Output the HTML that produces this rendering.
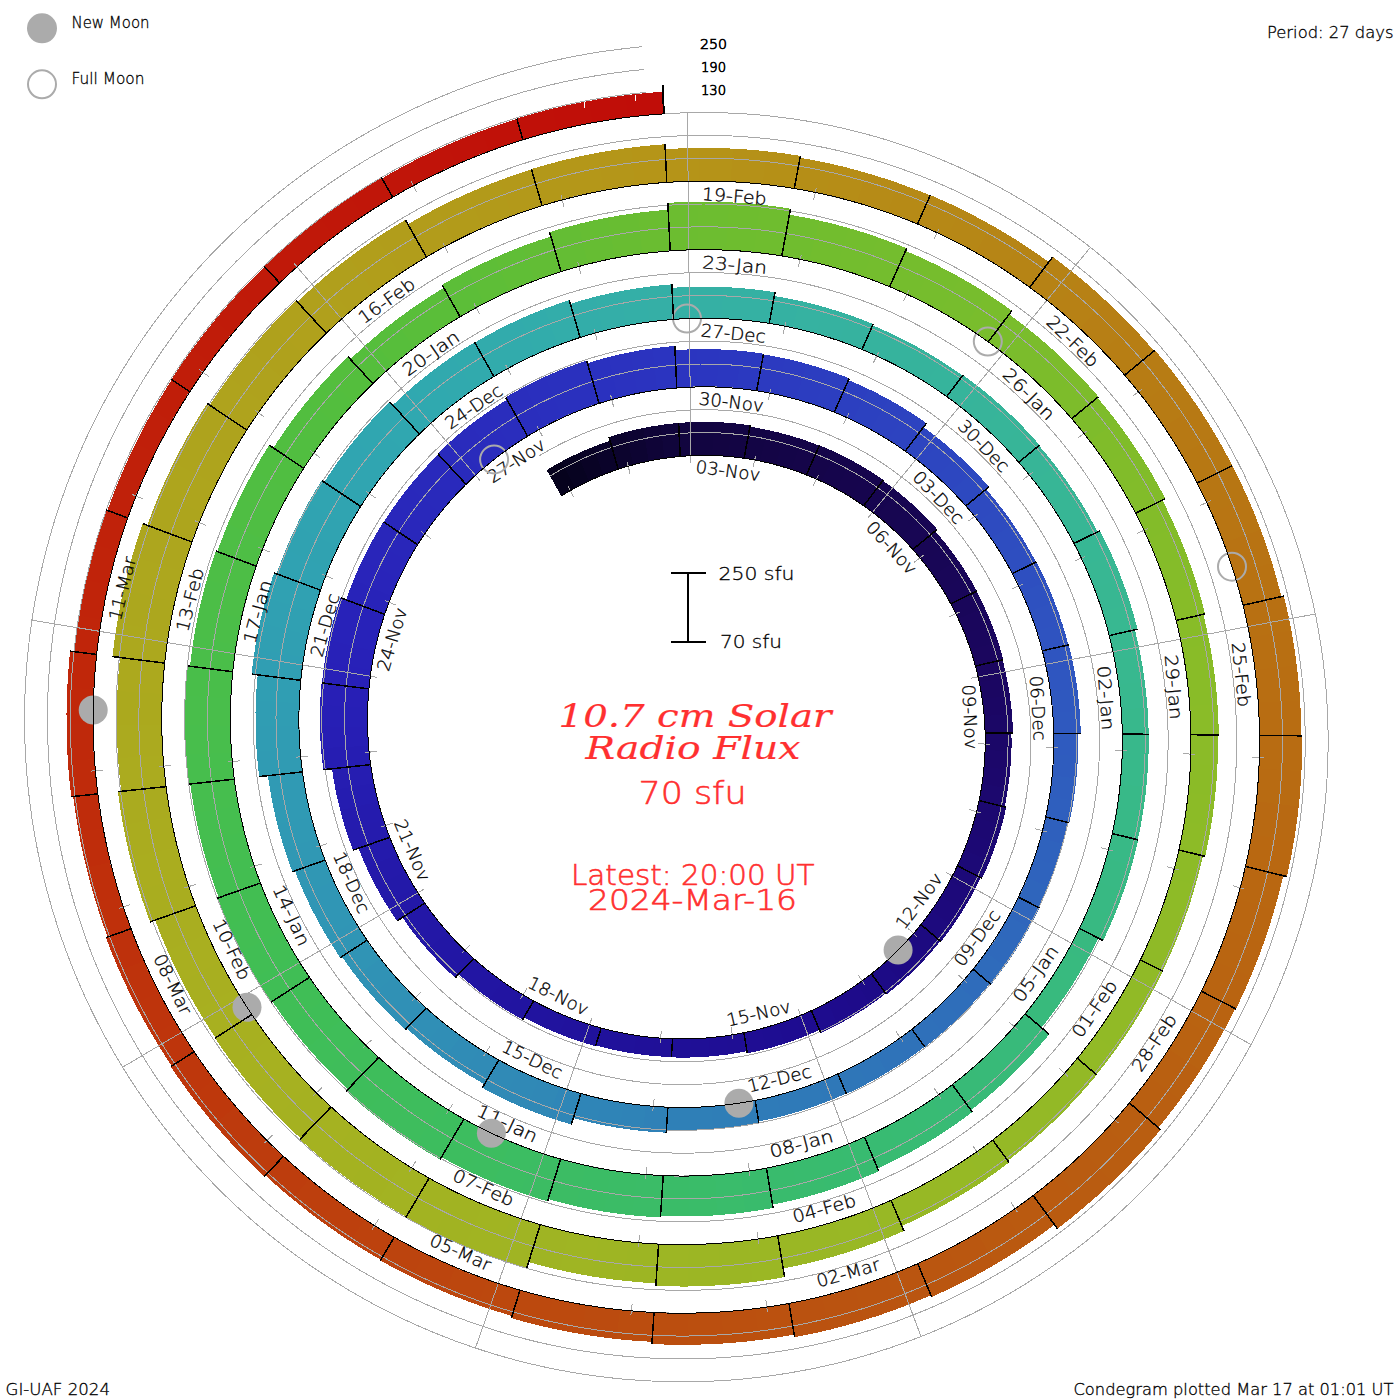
<!DOCTYPE html>
<html><head><meta charset="utf-8"><title>10.7 cm Solar Radio Flux Condegram</title>
<style>
html,body{margin:0;padding:0;background:#fff;}
body{width:1400px;height:1400px;overflow:hidden;}
svg{display:block;}
text{font-family:"DejaVu Sans Light","DejaVu Sans","Liberation Sans",sans-serif;font-weight:200;fill:#000;stroke:#000;stroke-width:0.3px;}
.dl text{font-size:17.5px;text-anchor:middle;}
.lab{font-size:15.6px;}
.red{fill:#ff3030;stroke:#ff3030;stroke-width:0.6px;}
.ser{font-family:"DejaVu Serif","Liberation Serif",serif;font-style:italic;font-weight:400;stroke-width:0.2px;}
</style></head><body>
<svg width="1400" height="1400" viewBox="0 0 1400 1400">
<rect width="1400" height="1400" fill="#fff"/>
<g shape-rendering="crispEdges" stroke="none">
<polygon fill="#06021d" points="561.3,496.0 564.8,493.8 568.3,491.8 571.9,489.8 575.4,487.8 562.4,461.1 558.4,463.2 554.5,465.5 550.6,467.7 546.7,470.1"/>
<polygon fill="#070321" points="574.9,488.1 578.5,486.2 582.1,484.3 585.8,482.5 589.5,480.8 578.0,453.3 573.9,455.3 569.8,457.2 565.8,459.3 561.8,461.4"/>
<polygon fill="#090325" points="588.9,481.0 592.6,479.3 596.4,477.7 600.1,476.1 603.9,474.5 594.1,446.5 589.9,448.2 585.7,449.9 581.5,451.7 577.4,453.6"/>
<polygon fill="#0a032a" points="603.3,474.8 607.0,473.3 610.7,471.9 614.4,470.6 618.2,469.3 609.9,440.8 605.8,442.2 601.6,443.6 597.5,445.2 593.4,446.7"/>
<polygon fill="#0c042e" points="618.2,469.3 622.1,468.1 626.0,466.9 630.0,465.7 633.9,464.6 626.6,431.9 622.1,433.1 617.7,434.4 613.2,435.7 608.9,437.1"/>
<polygon fill="#0d0432" points="633.3,464.8 637.3,463.7 641.3,462.8 645.3,461.8 649.3,461.0 643.9,427.9 639.4,428.8 634.9,429.8 630.4,430.9 625.9,432.1"/>
<polygon fill="#0f0437" points="648.7,461.1 652.8,460.3 656.8,459.5 660.9,458.9 665.0,458.2 661.5,424.9 656.9,425.6 652.3,426.3 647.8,427.1 643.2,428.0"/>
<polygon fill="#10053b" points="664.4,458.3 668.3,457.8 672.3,457.3 676.2,456.8 680.2,456.5 678.6,423.0 674.1,423.4 669.7,423.8 665.2,424.4 660.8,425.0"/>
<polygon fill="#12053f" points="680.2,456.5 684.3,456.1 688.5,455.8 692.6,455.6 696.8,455.5 697.2,422.0 692.5,422.1 687.8,422.3 683.2,422.6 678.6,423.0"/>
<polygon fill="#120541" points="696.1,455.5 700.3,455.4 704.4,455.4 708.6,455.4 712.8,455.5 715.1,422.1 710.4,421.9 705.8,421.9 701.1,421.9 696.4,422.0"/>
<polygon fill="#130542" points="712.1,455.5 716.3,455.6 720.4,455.9 724.6,456.1 728.8,456.5 733.1,423.2 728.4,422.8 723.7,422.5 719.1,422.2 714.4,422.0"/>
<polygon fill="#130544" points="728.1,456.4 732.1,456.8 736.1,457.2 740.1,457.7 744.1,458.3 750.2,425.3 745.8,424.7 741.3,424.1 736.8,423.6 732.3,423.1"/>
<polygon fill="#130545" points="744.1,458.3 748.2,458.9 752.4,459.6 756.5,460.4 760.6,461.2 768.3,430.1 763.8,429.2 759.2,428.3 754.6,427.5 750.0,426.8"/>
<polygon fill="#140546" points="760.0,461.0 764.1,461.9 768.2,462.9 772.2,463.9 776.3,464.9 785.8,434.4 781.3,433.2 776.8,432.0 772.2,431.0 767.6,430.0"/>
<polygon fill="#140548" points="775.7,464.8 779.7,465.9 783.8,467.1 787.8,468.3 791.8,469.6 803.1,439.6 798.6,438.2 794.2,436.8 789.7,435.4 785.1,434.2"/>
<polygon fill="#150549" points="791.2,469.4 795.0,470.7 798.8,472.0 802.6,473.5 806.4,474.9 819.4,445.7 815.2,444.0 810.9,442.4 806.7,440.9 802.4,439.4"/>
<polygon fill="#15054a" points="806.4,474.9 810.3,476.5 814.2,478.2 818.1,479.9 821.9,481.6 836.8,452.9 832.5,450.9 828.2,449.0 823.9,447.1 819.5,445.3"/>
<polygon fill="#15054c" points="821.4,481.4 825.2,483.2 829.0,485.1 832.7,487.0 836.5,489.0 853.0,461.1 848.9,458.9 844.7,456.7 840.4,454.6 836.2,452.6"/>
<polygon fill="#16054d" points="835.9,488.7 839.6,490.7 843.3,492.8 847.0,495.0 850.6,497.2 868.7,470.3 864.7,467.8 860.6,465.4 856.5,463.1 852.4,460.8"/>
<polygon fill="#16054e" points="850.1,496.8 853.5,499.0 857.0,501.2 860.4,503.5 863.7,505.8 883.3,480.0 879.6,477.4 875.8,474.9 872.0,472.4 868.1,469.9"/>
<polygon fill="#160550" points="863.7,505.8 867.2,508.3 870.7,510.8 874.1,513.4 877.4,516.0 898.0,492.0 894.3,489.1 890.5,486.2 886.7,483.4 882.9,480.6"/>
<polygon fill="#170651" points="876.9,515.6 880.2,518.3 883.5,521.0 886.8,523.8 890.0,526.6 912.0,503.9 908.4,500.7 904.8,497.6 901.2,494.6 897.5,491.6"/>
<polygon fill="#170652" points="889.5,526.2 892.7,529.1 895.8,532.0 898.9,534.9 901.9,538.0 925.2,516.5 921.8,513.2 918.4,509.9 914.9,506.6 911.4,503.4"/>
<polygon fill="#180654" points="901.5,537.5 904.4,540.4 907.2,543.4 910.0,546.4 912.8,549.5 937.2,529.4 934.2,526.0 931.1,522.6 927.9,519.3 924.7,516.0"/>
<polygon fill="#180655" points="912.8,549.5 915.6,552.7 918.4,556.0 921.2,559.3 923.9,562.7 947.3,545.7 944.3,542.0 941.3,538.3 938.3,534.7 935.2,531.1"/>
<polygon fill="#180656" points="923.4,562.2 926.1,565.6 928.7,569.0 931.2,572.5 933.7,576.0 958.1,560.4 955.4,556.5 952.6,552.7 949.7,548.9 946.8,545.1"/>
<polygon fill="#190658" points="933.4,575.5 935.8,579.1 938.2,582.7 940.5,586.3 942.8,590.0 968.1,575.8 965.6,571.7 963.0,567.7 960.4,563.7 957.7,559.8"/>
<polygon fill="#190659" points="942.5,589.4 944.6,593.0 946.7,596.6 948.8,600.2 950.8,603.8 976.8,591.1 974.6,587.0 972.4,583.0 970.1,579.1 967.7,575.2"/>
<polygon fill="#19065a" points="950.8,603.8 952.8,607.7 954.8,611.5 956.7,615.4 958.6,619.4 985.0,608.4 982.9,604.0 980.8,599.7 978.7,595.5 976.5,591.2"/>
<polygon fill="#1a065c" points="958.3,618.8 960.1,622.7 961.8,626.7 963.5,630.7 965.2,634.8 992.1,625.3 990.4,620.9 988.5,616.4 986.6,612.0 984.6,607.7"/>
<polygon fill="#1a065d" points="964.9,634.1 966.5,638.2 968.0,642.3 969.5,646.4 970.8,650.5 998.3,642.7 996.8,638.1 995.2,633.6 993.6,629.1 991.9,624.6"/>
<polygon fill="#1b065e" points="970.6,649.9 971.9,653.9 973.2,657.9 974.3,662.0 975.4,666.0 1003.3,659.7 1002.1,655.2 1000.8,650.8 999.5,646.4 998.1,642.0"/>
<polygon fill="#1b0660" points="975.4,666.0 976.5,670.2 977.6,674.5 978.5,678.8 979.4,683.1 1006.9,678.6 1005.9,673.9 1004.9,669.2 1003.8,664.5 1002.6,659.9"/>
<polygon fill="#1b0662" points="979.3,682.4 980.2,686.7 980.9,691.0 981.7,695.4 982.3,699.7 1010.0,696.8 1009.3,692.0 1008.5,687.3 1007.7,682.6 1006.8,677.8"/>
<polygon fill="#1b0664" points="982.2,699.0 982.8,703.4 983.4,707.8 983.8,712.1 984.2,716.5 1012.0,715.2 1011.6,710.4 1011.1,705.6 1010.5,700.8 1009.9,696.1"/>
<polygon fill="#1b0766" points="984.2,715.8 984.5,720.1 984.8,724.3 985.0,728.5 985.1,732.8 1013.0,733.0 1012.8,728.4 1012.6,723.8 1012.3,719.1 1012.0,714.5"/>
<polygon fill="#1b0768" points="985.1,732.8 985.2,737.2 985.3,741.6 985.2,746.0 985.1,750.5 1011.3,752.3 1011.5,747.5 1011.5,742.7 1011.5,737.8 1011.4,733.0"/>
<polygon fill="#1c076a" points="985.1,749.8 985.0,754.2 984.7,758.6 984.4,763.0 984.0,767.5 1010.1,770.8 1010.5,766.0 1010.9,761.2 1011.2,756.4 1011.4,751.6"/>
<polygon fill="#1c076c" points="984.1,766.8 983.7,771.2 983.2,775.6 982.6,780.0 982.0,784.4 1007.8,789.3 1008.5,784.5 1009.2,779.7 1009.7,774.9 1010.2,770.1"/>
<polygon fill="#1c086e" points="982.1,783.7 981.4,788.0 980.7,792.2 979.9,796.4 979.1,800.6 1004.6,806.9 1005.6,802.3 1006.4,797.7 1007.2,793.1 1008.0,788.5"/>
<polygon fill="#1c0870" points="979.1,800.6 978.2,804.9 977.2,809.3 976.1,813.6 974.9,817.9 1001.5,826.2 1002.8,821.5 1004.0,816.8 1005.1,812.0 1006.1,807.2"/>
<polygon fill="#1c0872" points="975.1,817.2 973.9,821.5 972.7,825.8 971.3,830.1 970.0,834.4 996.0,844.2 997.5,839.5 999.0,834.9 1000.4,830.2 1001.7,825.5"/>
<polygon fill="#1c0874" points="970.2,833.7 968.7,837.9 967.2,842.1 965.6,846.3 964.0,850.5 989.4,861.8 991.2,857.3 993.0,852.7 994.6,848.1 996.2,843.5"/>
<polygon fill="#1c0976" points="964.3,849.9 962.6,853.9 960.9,857.8 959.2,861.8 957.4,865.7 982.1,878.4 984.1,874.1 986.0,869.8 987.9,865.5 989.7,861.1"/>
<polygon fill="#1c0978" points="957.4,865.7 955.5,869.8 953.5,873.8 951.4,877.8 949.3,881.7 971.9,895.2 974.2,890.8 976.5,886.5 978.7,882.1 980.8,877.7"/>
<polygon fill="#1d097a" points="949.6,881.1 947.4,885.1 945.2,889.0 942.9,892.9 940.5,896.7 962.3,911.4 964.9,907.2 967.4,903.0 969.9,898.8 972.2,894.5"/>
<polygon fill="#1d097c" points="940.9,896.1 938.5,899.9 936.0,903.7 933.5,907.5 930.9,911.2 951.8,927.1 954.7,923.1 957.4,919.0 960.1,914.9 962.7,910.8"/>
<polygon fill="#1d0a7e" points="931.3,910.6 928.8,914.1 926.2,917.7 923.6,921.1 920.9,924.5 940.9,941.6 943.8,937.9 946.7,934.2 949.5,930.4 952.3,926.5"/>
<polygon fill="#1d0a80" points="920.9,924.5 918.1,928.1 915.2,931.6 912.2,935.0 909.2,938.4 927.6,956.1 930.8,952.5 934.1,948.7 937.2,945.0 940.3,941.1"/>
<polygon fill="#1d0a82" points="909.7,937.9 906.6,941.2 903.5,944.6 900.4,947.8 897.2,951.1 914.5,969.8 917.9,966.3 921.4,962.8 924.8,959.2 928.1,955.6"/>
<polygon fill="#1d0a84" points="897.7,950.6 894.4,953.8 891.1,956.9 887.8,960.0 884.4,963.0 900.5,982.8 904.2,979.5 907.9,976.1 911.5,972.8 915.0,969.3"/>
<polygon fill="#1d0b86" points="884.9,962.6 881.6,965.4 878.2,968.3 874.8,971.1 871.4,973.8 886.5,994.4 890.2,991.5 893.9,988.5 897.5,985.4 901.1,982.3"/>
<polygon fill="#1d0b88" points="871.4,973.8 867.8,976.6 864.1,979.3 860.4,982.0 856.7,984.7 869.9,1005.2 873.9,1002.4 877.9,999.5 881.9,996.5 885.8,993.5"/>
<polygon fill="#1e0b8a" points="857.3,984.3 853.5,986.9 849.7,989.4 845.8,991.9 841.9,994.3 853.9,1015.5 858.1,1012.9 862.3,1010.3 866.4,1007.6 870.5,1004.8"/>
<polygon fill="#1e0b8c" points="842.5,993.9 838.6,996.3 834.6,998.6 830.6,1000.8 826.6,1003.0 837.3,1025.0 841.7,1022.6 846.0,1020.2 850.3,1017.7 854.5,1015.2"/>
<polygon fill="#1e0c8e" points="827.2,1002.7 823.3,1004.8 819.4,1006.8 815.4,1008.7 811.4,1010.6 820.8,1033.1 825.2,1031.1 829.5,1029.0 833.7,1026.8 838.0,1024.6"/>
<polygon fill="#1e0c90" points="811.4,1010.6 807.2,1012.5 803.0,1014.3 798.7,1016.1 794.4,1017.8 801.4,1037.6 805.9,1035.8 810.5,1033.9 815.0,1032.0 819.5,1029.9"/>
<polygon fill="#1e0c91" points="795.1,1017.6 790.8,1019.2 786.4,1020.8 782.1,1022.4 777.7,1023.8 783.5,1044.0 788.1,1042.4 792.8,1040.8 797.4,1039.1 802.1,1037.3"/>
<polygon fill="#1e0d92" points="778.4,1023.6 774.0,1025.0 769.5,1026.4 765.1,1027.6 760.6,1028.8 765.2,1049.3 770.0,1048.0 774.7,1046.7 779.5,1045.2 784.2,1043.7"/>
<polygon fill="#1f0d93" points="761.3,1028.7 757.0,1029.8 752.6,1030.8 748.3,1031.8 743.9,1032.7 747.4,1053.4 752.0,1052.4 756.7,1051.4 761.3,1050.3 765.9,1049.1"/>
<polygon fill="#1f0e94" points="743.9,1032.7 739.3,1033.6 734.8,1034.4 730.2,1035.2 725.6,1035.9 727.5,1054.5 732.4,1053.7 737.3,1052.9 742.1,1052.1 747.0,1051.2"/>
<polygon fill="#1f0e95" points="726.3,1035.8 721.7,1036.4 717.0,1037.0 712.4,1037.4 707.8,1037.9 708.6,1056.5 713.6,1056.1 718.5,1055.6 723.4,1055.0 728.3,1054.3"/>
<polygon fill="#1f0f96" points="708.5,1037.8 703.8,1038.2 699.2,1038.4 694.5,1038.7 689.8,1038.8 689.6,1057.5 694.6,1057.3 699.5,1057.1 704.5,1056.8 709.4,1056.5"/>
<polygon fill="#1f0f97" points="690.6,1038.8 686.1,1038.9 681.6,1038.9 677.1,1038.8 672.6,1038.7 671.3,1057.4 676.1,1057.5 680.8,1057.6 685.6,1057.5 690.4,1057.5"/>
<polygon fill="#201098" points="672.6,1038.7 667.9,1038.5 663.2,1038.3 658.5,1038.0 653.8,1037.6 651.5,1055.7 656.5,1056.1 661.4,1056.5 666.4,1056.8 671.3,1057.0"/>
<polygon fill="#201099" points="654.6,1037.6 649.9,1037.2 645.2,1036.6 640.6,1036.0 635.9,1035.4 632.5,1053.3 637.5,1054.1 642.4,1054.7 647.3,1055.3 652.3,1055.8"/>
<polygon fill="#20119a" points="636.6,1035.5 632.0,1034.7 627.3,1033.9 622.7,1033.0 618.1,1032.1 613.7,1049.9 618.6,1050.9 623.5,1051.8 628.4,1052.7 633.3,1053.4"/>
<polygon fill="#20119b" points="618.8,1032.3 614.4,1031.3 610.0,1030.3 605.6,1029.2 601.2,1028.0 595.8,1045.5 600.4,1046.7 605.1,1047.9 609.7,1049.0 614.4,1050.0"/>
<polygon fill="#20129c" points="601.2,1028.0 596.6,1026.7 592.1,1025.4 587.6,1024.0 583.1,1022.5 576.4,1040.3 581.1,1041.9 585.9,1043.4 590.7,1044.8 595.5,1046.2"/>
<polygon fill="#21129d" points="583.8,1022.7 579.3,1021.2 574.9,1019.6 570.4,1017.9 566.0,1016.2 558.3,1033.6 562.9,1035.4 567.6,1037.2 572.4,1038.9 577.1,1040.6"/>
<polygon fill="#21139e" points="566.7,1016.4 562.3,1014.6 557.9,1012.8 553.6,1010.8 549.3,1008.8 540.5,1025.8 545.1,1027.9 549.7,1029.9 554.3,1031.9 559.0,1033.9"/>
<polygon fill="#21139f" points="550.0,1009.1 545.8,1007.2 541.7,1005.1 537.7,1003.0 533.6,1000.9 524.0,1017.3 528.2,1019.6 532.5,1021.8 536.9,1024.0 541.2,1026.1"/>
<polygon fill="#2114a0" points="533.6,1000.9 529.5,998.6 525.4,996.2 521.3,993.8 517.2,991.3 505.0,1009.3 509.4,1011.9 513.8,1014.6 518.2,1017.1 522.6,1019.6"/>
<polygon fill="#2214a1" points="517.8,991.6 513.8,989.1 509.8,986.5 505.8,983.8 501.9,981.1 488.7,998.3 492.9,1001.3 497.1,1004.1 501.4,1006.9 505.7,1009.7"/>
<polygon fill="#2215a2" points="502.5,981.5 498.6,978.7 494.8,975.9 491.0,973.0 487.2,970.0 473.1,986.5 477.1,989.6 481.1,992.8 485.2,995.8 489.4,998.8"/>
<polygon fill="#2215a3" points="487.8,970.4 484.2,967.5 480.7,964.6 477.2,961.6 473.7,958.5 458.7,974.2 462.4,977.5 466.1,980.7 469.9,983.8 473.7,987.0"/>
<polygon fill="#2216a4" points="473.7,958.5 470.2,955.3 466.7,952.0 463.2,948.7 459.8,945.3 440.2,963.4 443.9,967.0 447.6,970.7 451.4,974.3 455.2,977.8"/>
<polygon fill="#2216a5" points="460.3,945.8 457.0,942.4 453.7,938.9 450.4,935.3 447.2,931.7 426.6,948.6 430.0,952.5 433.6,956.4 437.1,960.2 440.8,963.9"/>
<polygon fill="#2317a6" points="447.7,932.3 444.5,928.6 441.4,925.0 438.4,921.2 435.4,917.4 413.8,933.1 417.0,937.2 420.3,941.3 423.7,945.3 427.1,949.2"/>
<polygon fill="#2317a7" points="435.8,918.0 433.0,914.4 430.2,910.6 427.5,906.9 424.8,903.1 402.4,917.5 405.3,921.6 408.2,925.7 411.2,929.8 414.3,933.8"/>
<polygon fill="#2318a8" points="424.8,903.1 422.1,899.1 419.4,895.0 416.8,891.0 414.3,886.8 385.4,903.1 388.2,907.6 391.0,912.1 393.9,916.6 396.9,921.0"/>
<polygon fill="#2319a9" points="414.7,887.5 412.2,883.3 409.7,879.1 407.4,874.9 405.0,870.6 375.2,885.1 377.8,889.9 380.4,894.5 383.0,899.2 385.8,903.8"/>
<polygon fill="#2419aa" points="405.4,871.3 403.1,867.0 401.0,862.6 398.8,858.2 396.8,853.8 366.2,866.6 368.4,871.5 370.8,876.3 373.2,881.1 375.6,885.9"/>
<polygon fill="#241aac" points="397.1,854.5 395.2,850.3 393.3,846.0 391.5,841.6 389.7,837.3 358.5,848.3 360.4,853.1 362.4,857.9 364.4,862.7 366.5,867.4"/>
<polygon fill="#251bad" points="389.7,837.3 388.0,832.7 386.3,828.2 384.7,823.5 383.2,818.9 345.8,829.6 347.5,834.8 349.3,840.0 351.2,845.1 353.1,850.2"/>
<polygon fill="#251bae" points="383.4,819.6 381.9,815.0 380.5,810.3 379.2,805.6 377.9,800.9 340.0,809.4 341.4,814.7 342.9,819.9 344.4,825.2 346.1,830.4"/>
<polygon fill="#251cb0" points="378.1,801.6 376.9,796.8 375.8,792.1 374.7,787.3 373.7,782.5 335.3,788.8 336.4,794.2 337.6,799.5 338.9,804.9 340.2,810.2"/>
<polygon fill="#261db1" points="373.9,783.2 373.0,778.6 372.1,773.9 371.4,769.3 370.7,764.6 332.0,768.8 332.8,774.0 333.6,779.2 334.5,784.4 335.5,789.6"/>
<polygon fill="#261db2" points="370.7,764.6 370.0,759.7 369.4,754.9 368.9,750.0 368.5,745.1 320.9,747.3 321.4,752.9 321.9,758.5 322.6,764.1 323.3,769.7"/>
<polygon fill="#271eb4" points="368.6,745.8 368.2,740.9 367.9,736.0 367.7,731.1 367.5,726.1 319.9,725.6 320.0,731.2 320.3,736.9 320.6,742.5 321.0,748.1"/>
<polygon fill="#271fb5" points="367.6,726.9 367.5,722.0 367.5,717.0 367.5,712.1 367.7,707.1 320.2,703.8 320.0,709.5 319.9,715.1 319.9,720.8 319.9,726.4"/>
<polygon fill="#281fb6" points="367.7,707.9 367.9,703.2 368.1,698.4 368.5,693.7 368.9,688.9 321.6,682.9 321.1,688.4 320.7,693.8 320.4,699.2 320.1,704.7"/>
<polygon fill="#2820b8" points="368.9,688.9 369.4,684.0 369.9,679.1 370.6,674.1 371.3,669.2 324.9,660.5 324.0,666.1 323.2,671.7 322.6,677.3 322.0,683.0"/>
<polygon fill="#2821b8" points="371.2,670.0 372.0,665.1 372.8,660.2 373.8,655.3 374.8,650.5 328.9,639.0 327.7,644.6 326.6,650.1 325.6,655.7 324.7,661.3"/>
<polygon fill="#2822b9" points="374.6,651.2 375.7,646.3 376.8,641.5 378.0,636.7 379.3,631.9 334.2,617.8 332.7,623.3 331.3,628.8 330.0,634.3 328.7,639.9"/>
<polygon fill="#2822b9" points="379.1,632.6 380.4,628.0 381.8,623.4 383.2,618.8 384.7,614.3 340.5,597.7 338.7,602.9 337.1,608.1 335.5,613.4 334.0,618.6"/>
<polygon fill="#2823b9" points="384.7,614.3 386.3,609.5 388.0,604.9 389.8,600.2 391.7,595.5 354.1,578.8 352.0,584.0 350.0,589.2 348.0,594.5 346.2,599.8"/>
<polygon fill="#2924ba" points="391.4,596.2 393.3,591.6 395.3,587.0 397.3,582.5 399.4,577.9 362.9,559.0 360.5,564.1 358.2,569.2 355.9,574.4 353.7,579.6"/>
<polygon fill="#2925ba" points="399.1,578.6 401.3,574.1 403.5,569.6 405.8,565.2 408.2,560.8 372.8,539.8 370.1,544.7 367.5,549.7 365.0,554.7 362.5,559.8"/>
<polygon fill="#2926ba" points="407.9,561.4 410.2,557.2 412.6,553.0 415.1,548.9 417.6,544.8 383.4,521.8 380.6,526.4 377.8,531.1 375.1,535.8 372.4,540.5"/>
<polygon fill="#2927bb" points="417.6,544.8 420.3,540.5 423.1,536.3 425.9,532.1 428.8,528.0 396.4,503.3 393.1,507.9 389.9,512.6 386.8,517.3 383.8,522.0"/>
<polygon fill="#2928bb" points="428.3,528.6 431.3,524.6 434.3,520.5 437.4,516.5 440.5,512.5 409.6,486.0 406.1,490.4 402.6,494.9 399.2,499.4 395.9,504.0"/>
<polygon fill="#2929bb" points="440.0,513.2 443.2,509.2 446.5,505.4 449.8,501.5 453.1,497.8 423.8,469.4 420.0,473.7 416.3,477.9 412.6,482.3 409.0,486.6"/>
<polygon fill="#2929bc" points="452.6,498.3 455.9,494.8 459.2,491.2 462.6,487.7 466.0,484.3 438.3,454.3 434.5,458.2 430.7,462.1 426.9,466.1 423.2,470.1"/>
<polygon fill="#292abc" points="466.0,484.3 469.7,480.7 473.4,477.2 477.1,473.8 480.9,470.4 454.3,438.0 450.1,441.8 445.8,445.6 441.7,449.5 437.6,453.5"/>
<polygon fill="#2a2bbc" points="480.3,471.0 484.2,467.6 488.0,464.4 492.0,461.2 496.0,458.0 471.3,424.1 466.8,427.6 462.4,431.2 458.0,434.9 453.7,438.6"/>
<polygon fill="#2a2cbd" points="495.4,458.5 499.4,455.4 503.5,452.3 507.6,449.4 511.8,446.5 489.2,411.2 484.5,414.4 479.8,417.8 475.2,421.2 470.7,424.6"/>
<polygon fill="#2a2dbd" points="511.1,446.9 515.2,444.1 519.3,441.4 523.4,438.8 527.6,436.2 507.0,399.7 502.3,402.6 497.6,405.6 493.0,408.6 488.4,411.7"/>
<polygon fill="#2a2ebd" points="527.6,436.2 532.0,433.6 536.4,431.0 540.9,428.6 545.4,426.1 525.8,386.0 520.7,388.8 515.7,391.6 510.6,394.4 505.7,397.4"/>
<polygon fill="#2a2fbe" points="544.7,426.5 549.2,424.1 553.8,421.8 558.4,419.6 563.1,417.4 545.9,376.3 540.6,378.7 535.4,381.2 530.2,383.8 525.1,386.5"/>
<polygon fill="#2a30be" points="562.3,417.8 567.0,415.7 571.7,413.6 576.5,411.7 581.2,409.8 566.5,367.7 561.1,369.8 555.7,372.0 550.4,374.3 545.1,376.7"/>
<polygon fill="#2a30be" points="580.5,410.1 585.1,408.3 589.8,406.6 594.4,405.0 599.1,403.4 586.7,360.6 581.4,362.3 576.1,364.2 570.9,366.1 565.6,368.0"/>
<polygon fill="#2a31bf" points="599.1,403.4 604.0,401.9 609.0,400.4 613.9,399.0 618.9,397.7 609.7,356.8 604.1,358.3 598.5,359.8 593.0,361.4 587.5,363.2"/>
<polygon fill="#2b32bf" points="618.1,397.9 623.1,396.6 628.1,395.4 633.2,394.3 638.2,393.3 631.4,351.9 625.8,353.1 620.1,354.3 614.5,355.6 608.8,357.0"/>
<polygon fill="#2b33bf" points="637.5,393.4 642.5,392.5 647.6,391.6 652.7,390.7 657.8,390.0 653.5,348.3 647.7,349.1 642.0,350.0 636.3,351.0 630.6,352.1"/>
<polygon fill="#2b34c0" points="657.1,390.1 662.0,389.5 666.9,388.9 671.9,388.4 676.8,387.9 674.8,346.1 669.2,346.5 663.7,347.1 658.1,347.7 652.6,348.4"/>
<polygon fill="#2b35c0" points="676.8,387.9 682.0,387.6 687.2,387.3 692.4,387.0 697.6,386.9 698.0,349.2 692.3,349.3 686.5,349.5 680.8,349.8 675.0,350.3"/>
<polygon fill="#2b36c0" points="696.8,386.9 702.0,386.8 707.2,386.8 712.4,386.9 717.6,387.1 720.2,349.4 714.4,349.2 708.7,349.1 702.9,349.1 697.1,349.2"/>
<polygon fill="#2b37c0" points="716.8,387.0 722.0,387.3 727.2,387.6 732.3,388.0 737.5,388.4 742.4,351.0 736.6,350.5 730.8,350.0 725.1,349.7 719.3,349.4"/>
<polygon fill="#2b39c0" points="736.7,388.4 741.7,388.9 746.7,389.4 751.7,390.1 756.6,390.8 763.6,353.7 758.0,352.9 752.5,352.2 747.0,351.5 741.5,350.9"/>
<polygon fill="#2c3ac0" points="756.6,390.8 761.8,391.7 766.9,392.6 772.1,393.5 777.2,394.6 786.2,358.7 780.5,357.6 774.8,356.4 769.1,355.4 763.4,354.5"/>
<polygon fill="#2c3bc0" points="776.4,394.4 781.5,395.6 786.6,396.8 791.7,398.1 796.7,399.4 807.8,364.2 802.2,362.6 796.6,361.2 790.9,359.8 785.3,358.6"/>
<polygon fill="#2c3dc0" points="796.0,399.2 801.0,400.7 806.0,402.2 811.0,403.8 816.0,405.4 829.1,370.8 823.6,369.0 818.0,367.2 812.5,365.5 806.9,363.9"/>
<polygon fill="#2c3ec0" points="815.3,405.2 820.0,406.8 824.8,408.5 829.5,410.3 834.2,412.2 849.2,378.4 844.0,376.3 838.7,374.3 833.5,372.4 828.2,370.5"/>
<polygon fill="#2c3fc0" points="834.2,412.2 839.1,414.2 843.9,416.3 848.7,418.5 853.5,420.7 869.6,389.6 864.3,387.1 859.0,384.7 853.7,382.4 848.4,380.1"/>
<polygon fill="#2c41c0" points="852.7,420.4 857.5,422.7 862.2,425.0 866.9,427.5 871.5,430.0 889.4,399.8 884.3,397.0 879.1,394.3 874.0,391.7 868.8,389.2"/>
<polygon fill="#2d42c0" points="870.8,429.6 875.4,432.2 880.0,434.8 884.5,437.5 889.0,440.3 908.6,411.2 903.7,408.2 898.7,405.2 893.7,402.2 888.6,399.4"/>
<polygon fill="#2d43c0" points="888.3,439.9 892.6,442.6 896.8,445.4 901.1,448.3 905.2,451.2 926.4,423.3 921.9,420.0 917.2,416.9 912.6,413.8 907.8,410.8"/>
<polygon fill="#2d45c0" points="905.2,451.2 909.5,454.3 913.8,457.5 918.0,460.7 922.1,464.0 941.8,441.2 937.3,437.6 932.7,434.0 928.1,430.6 923.4,427.2"/>
<polygon fill="#2d46c0" points="921.5,463.5 925.6,466.8 929.7,470.3 933.7,473.7 937.7,477.3 958.6,455.6 954.3,451.8 949.9,448.0 945.5,444.3 941.1,440.6"/>
<polygon fill="#2d47c0" points="937.0,476.7 941.0,480.3 944.8,484.0 948.6,487.7 952.4,491.5 974.5,471.1 970.5,467.0 966.3,462.9 962.2,459.0 957.9,455.0"/>
<polygon fill="#2d49c0" points="951.8,490.9 955.4,494.6 958.9,498.3 962.4,502.1 965.8,505.9 989.0,486.8 985.3,482.6 981.6,478.5 977.8,474.4 973.9,470.4"/>
<polygon fill="#2e4ac0" points="965.8,505.9 969.3,510.0 972.7,514.1 976.1,518.2 979.4,522.4 1000.6,507.0 997.1,502.4 993.5,498.0 989.8,493.6 986.1,489.2"/>
<polygon fill="#2e4bc0" points="978.9,521.8 982.1,526.0 985.3,530.3 988.4,534.6 991.5,539.0 1013.6,524.8 1010.4,520.1 1007.0,515.4 1003.6,510.8 1000.1,506.3"/>
<polygon fill="#2e4dc0" points="991.0,538.4 994.0,542.8 997.0,547.3 999.8,551.8 1002.6,556.4 1025.6,543.5 1022.6,538.6 1019.5,533.7 1016.3,528.9 1013.1,524.1"/>
<polygon fill="#2e4ec0" points="1002.2,555.7 1004.9,560.1 1007.4,564.6 1009.9,569.1 1012.4,573.6 1036.0,562.1 1033.4,557.2 1030.7,552.3 1027.9,547.5 1025.1,542.7"/>
<polygon fill="#2e4fc0" points="1012.4,573.6 1014.9,578.4 1017.3,583.2 1019.6,588.1 1021.9,592.9 1046.5,582.7 1044.1,577.4 1041.6,572.2 1039.0,567.0 1036.4,561.9"/>
<polygon fill="#2e51c0" points="1021.5,592.2 1023.7,597.1 1025.9,602.1 1027.9,607.0 1029.9,612.1 1055.1,603.2 1053.0,597.8 1050.8,592.5 1048.5,587.1 1046.1,581.9"/>
<polygon fill="#2f52c0" points="1029.6,611.3 1031.5,616.3 1033.3,621.4 1035.1,626.5 1036.8,631.6 1062.4,624.3 1060.6,618.8 1058.8,613.3 1056.8,607.8 1054.7,602.4"/>
<polygon fill="#2f53c0" points="1036.5,630.9 1038.1,635.8 1039.6,640.8 1041.0,645.8 1042.3,650.8 1068.4,644.9 1066.9,639.5 1065.4,634.1 1063.8,628.8 1062.2,623.4"/>
<polygon fill="#2f55c0" points="1042.3,650.8 1043.7,656.1 1044.9,661.4 1046.1,666.6 1047.1,672.0 1073.8,667.6 1072.7,661.9 1071.5,656.2 1070.1,650.5 1068.7,644.8"/>
<polygon fill="#2f56c0" points="1047.0,671.1 1048.0,676.5 1048.9,681.8 1049.8,687.2 1050.6,692.6 1077.5,689.7 1076.6,683.9 1075.7,678.2 1074.8,672.4 1073.7,666.7"/>
<polygon fill="#2f58bf" points="1050.4,691.7 1051.1,697.1 1051.8,702.5 1052.3,707.9 1052.8,713.3 1079.8,712.1 1079.3,706.3 1078.7,700.4 1078.1,694.6 1077.3,688.8"/>
<polygon fill="#2f59bf" points="1052.7,712.5 1053.1,717.7 1053.4,723.0 1053.6,728.2 1053.7,733.4 1080.8,733.7 1080.6,728.1 1080.4,722.4 1080.1,716.8 1079.7,711.2"/>
<polygon fill="#2f5bbf" points="1053.7,733.4 1053.8,738.9 1053.8,744.3 1053.7,749.8 1053.5,755.3 1077.9,757.0 1078.1,751.1 1078.2,745.3 1078.2,739.5 1078.1,733.7"/>
<polygon fill="#2f5cbe" points="1053.6,754.4 1053.3,759.9 1053.0,765.3 1052.6,770.8 1052.1,776.2 1076.3,779.3 1076.8,773.5 1077.3,767.7 1077.6,761.9 1077.9,756.1"/>
<polygon fill="#2f5ebe" points="1052.2,775.4 1051.6,780.8 1051.0,786.3 1050.2,791.7 1049.4,797.1 1073.4,801.6 1074.3,795.9 1075.0,790.1 1075.7,784.3 1076.4,778.5"/>
<polygon fill="#2f5fbe" points="1049.5,796.3 1048.7,801.5 1047.8,806.7 1046.8,811.9 1045.7,817.0 1069.4,822.9 1070.5,817.4 1071.6,811.8 1072.6,806.3 1073.5,800.8"/>
<polygon fill="#2f60bd" points="1045.7,817.0 1044.5,822.4 1043.2,827.7 1041.9,833.1 1040.4,838.4 1062.6,845.3 1064.2,839.7 1065.6,834.0 1067.0,828.3 1068.3,822.6"/>
<polygon fill="#2f62bd" points="1040.7,837.5 1039.1,842.8 1037.6,848.1 1035.9,853.4 1034.1,858.6 1055.9,866.8 1057.8,861.2 1059.5,855.7 1061.2,850.1 1062.9,844.4"/>
<polygon fill="#2f63bd" points="1034.4,857.8 1032.6,863.0 1030.7,868.2 1028.7,873.3 1026.7,878.4 1047.9,887.9 1050.1,882.4 1052.2,877.0 1054.2,871.5 1056.2,865.9"/>
<polygon fill="#2f65bc" points="1027.0,877.6 1024.9,882.5 1022.8,887.4 1020.7,892.3 1018.4,897.1 1039.1,907.7 1041.5,902.6 1043.8,897.4 1046.1,892.3 1048.2,887.0"/>
<polygon fill="#2f66bc" points="1018.4,897.1 1016.0,902.0 1013.5,907.0 1010.9,911.9 1008.3,916.7 1028.6,928.8 1031.4,923.6 1034.2,918.4 1036.8,913.2 1039.4,907.9"/>
<polygon fill="#2f68bc" points="1008.7,916.0 1006.0,920.8 1003.2,925.6 1000.3,930.4 997.4,935.1 1017.0,948.3 1020.1,943.3 1023.2,938.2 1026.1,933.1 1029.0,928.0"/>
<polygon fill="#2f69bb" points="997.9,934.4 994.9,939.0 991.8,943.7 988.7,948.3 985.5,952.8 1004.3,967.1 1007.7,962.3 1011.0,957.4 1014.3,952.5 1017.5,947.5"/>
<polygon fill="#2f6bbb" points="986.0,952.1 982.8,956.4 979.6,960.7 976.4,965.0 973.0,969.1 991.0,984.5 994.5,980.0 998.0,975.5 1001.4,971.0 1004.8,966.4"/>
<polygon fill="#2f6cbb" points="973.0,969.1 969.5,973.5 965.9,977.7 962.3,981.9 958.5,986.1 974.4,1001.4 978.4,997.0 982.3,992.6 986.1,988.1 989.8,983.5"/>
<polygon fill="#2f6eba" points="959.1,985.4 955.3,989.5 951.5,993.6 947.6,997.6 943.6,1001.5 958.6,1017.8 962.8,1013.6 967.0,1009.4 971.0,1005.1 975.1,1000.8"/>
<polygon fill="#2f6fba" points="944.3,1000.9 940.2,1004.8 936.2,1008.6 932.0,1012.4 927.8,1016.1 941.8,1033.2 946.3,1029.3 950.7,1025.3 955.0,1021.2 959.3,1017.1"/>
<polygon fill="#2f70ba" points="928.5,1015.5 924.4,1019.0 920.3,1022.5 916.1,1025.9 911.9,1029.2 924.9,1047.1 929.4,1043.5 933.8,1040.0 938.2,1036.3 942.5,1032.6"/>
<polygon fill="#2f72b9" points="911.9,1029.2 907.4,1032.6 902.9,1036.0 898.3,1039.2 893.7,1042.4 905.4,1060.7 910.3,1057.3 915.2,1053.9 919.9,1050.4 924.7,1046.8"/>
<polygon fill="#2f73b9" points="894.4,1041.9 889.8,1045.1 885.1,1048.2 880.3,1051.2 875.5,1054.1 886.2,1073.0 891.2,1069.9 896.3,1066.8 901.3,1063.5 906.2,1060.2"/>
<polygon fill="#2f75b9" points="876.3,1053.6 871.4,1056.5 866.5,1059.3 861.6,1062.0 856.7,1064.7 866.2,1084.2 871.4,1081.4 876.7,1078.6 881.8,1075.6 886.9,1072.6"/>
<polygon fill="#2f76b8" points="857.4,1064.3 852.6,1066.8 847.8,1069.2 842.9,1071.6 837.9,1073.8 846.4,1093.9 851.6,1091.5 856.7,1089.0 861.9,1086.4 867.0,1083.8"/>
<polygon fill="#2f78b8" points="837.9,1073.8 832.8,1076.1 827.6,1078.4 822.4,1080.5 817.1,1082.6 824.2,1102.7 829.7,1100.5 835.3,1098.3 840.8,1095.9 846.2,1093.5"/>
<polygon fill="#2f79b8" points="817.9,1082.3 812.6,1084.3 807.3,1086.2 802.0,1088.0 796.6,1089.8 802.5,1110.3 808.1,1108.4 813.8,1106.5 819.4,1104.5 825.0,1102.4"/>
<polygon fill="#2f7ab8" points="797.4,1089.5 792.0,1091.2 786.6,1092.8 781.1,1094.3 775.6,1095.8 780.3,1116.6 786.1,1115.1 791.9,1113.5 797.6,1111.8 803.3,1110.0"/>
<polygon fill="#2f7bb8" points="776.5,1095.6 771.2,1096.9 765.9,1098.1 760.5,1099.3 755.2,1100.4 758.7,1121.5 764.3,1120.3 770.0,1119.1 775.6,1117.8 781.2,1116.4"/>
<polygon fill="#2f7db8" points="755.2,1100.4 749.6,1101.5 744.0,1102.4 738.4,1103.3 732.7,1104.1 735.1,1126.5 741.1,1125.6 747.0,1124.7 752.9,1123.7 758.9,1122.6"/>
<polygon fill="#2f7eb7" points="733.6,1104.0 728.0,1104.7 722.3,1105.4 716.6,1105.9 710.9,1106.4 712.0,1128.9 718.0,1128.4 724.0,1127.8 730.0,1127.1 736.0,1126.3"/>
<polygon fill="#2f7fb7" points="711.8,1106.3 706.1,1106.7 700.4,1107.0 694.7,1107.3 689.0,1107.4 688.8,1129.9 694.8,1129.7 700.8,1129.5 706.9,1129.2 712.9,1128.8"/>
<polygon fill="#2f80b7" points="689.9,1107.4 684.4,1107.5 678.9,1107.4 673.4,1107.3 667.9,1107.2 666.4,1129.6 672.2,1129.8 678.0,1129.9 683.9,1129.9 689.7,1129.9"/>
<polygon fill="#2f81b7" points="667.9,1107.2 662.2,1106.9 656.5,1106.6 650.8,1106.1 645.1,1105.6 641.8,1130.9 647.9,1131.5 654.0,1132.0 660.1,1132.4 666.2,1132.6"/>
<polygon fill="#2f83b7" points="646.0,1105.7 640.3,1105.1 634.6,1104.4 628.9,1103.6 623.2,1102.8 618.5,1127.9 624.5,1128.8 630.6,1129.6 636.7,1130.4 642.7,1131.0"/>
<polygon fill="#2f84b7" points="624.1,1102.9 618.4,1102.0 612.8,1101.0 607.1,1099.9 601.5,1098.7 595.3,1123.4 601.3,1124.7 607.3,1125.9 613.4,1127.0 619.4,1128.0"/>
<polygon fill="#2f85b7" points="602.4,1098.9 597.0,1097.6 591.6,1096.4 586.2,1095.0 580.9,1093.5 573.3,1117.9 579.0,1119.5 584.7,1121.0 590.5,1122.3 596.2,1123.6"/>
<polygon fill="#2f86b7" points="580.9,1093.5 575.3,1091.9 569.8,1090.3 564.3,1088.5 558.9,1086.7 547.4,1117.0 553.4,1119.0 559.3,1120.9 565.3,1122.7 571.3,1124.5"/>
<polygon fill="#3088b6" points="559.7,1087.0 554.3,1085.1 548.8,1083.1 543.5,1081.0 538.1,1078.8 524.9,1108.4 530.7,1110.8 536.6,1113.0 542.4,1115.2 548.3,1117.3"/>
<polygon fill="#3089b6" points="538.9,1079.2 533.6,1076.9 528.3,1074.6 523.0,1072.2 517.8,1069.8 502.9,1098.5 508.6,1101.2 514.3,1103.8 520.0,1106.4 525.8,1108.8"/>
<polygon fill="#308ab6" points="518.6,1070.1 513.6,1067.7 508.6,1065.2 503.7,1062.6 498.8,1060.0 482.3,1087.8 487.6,1090.7 493.0,1093.6 498.4,1096.3 503.8,1099.0"/>
<polygon fill="#308bb6" points="498.8,1060.0 493.7,1057.1 488.7,1054.2 483.7,1051.2 478.8,1048.1 463.0,1071.5 468.3,1074.8 473.7,1078.0 479.0,1081.2 484.5,1084.2"/>
<polygon fill="#308cb6" points="479.6,1048.6 474.7,1045.5 469.8,1042.3 465.0,1039.0 460.3,1035.6 443.2,1058.0 448.3,1061.6 453.4,1065.2 458.6,1068.6 463.9,1072.0"/>
<polygon fill="#308eb6" points="461.0,1036.1 456.3,1032.7 451.7,1029.2 447.1,1025.6 442.5,1022.0 424.1,1043.4 429.0,1047.3 433.9,1051.1 438.9,1054.9 444.0,1058.6"/>
<polygon fill="#308fb6" points="443.2,1022.6 438.9,1019.0 434.6,1015.4 430.4,1011.7 426.2,1008.0 406.6,1028.3 411.1,1032.3 415.6,1036.3 420.2,1040.2 424.9,1044.0"/>
<polygon fill="#3090b6" points="426.2,1008.0 421.9,1004.0 417.7,1000.0 413.5,995.9 409.4,991.8 387.2,1012.2 391.7,1016.6 396.1,1021.1 400.7,1025.4 405.3,1029.7"/>
<polygon fill="#3091b5" points="410.0,992.4 405.9,988.2 401.9,983.9 398.0,979.6 394.1,975.2 370.9,994.3 375.0,999.0 379.2,1003.7 383.5,1008.3 387.9,1012.9"/>
<polygon fill="#3092b5" points="394.7,975.9 390.9,971.4 387.2,966.9 383.5,962.4 379.9,957.8 355.5,975.4 359.4,980.4 363.4,985.4 367.4,990.2 371.5,995.0"/>
<polygon fill="#3094b5" points="380.4,958.5 377.0,954.0 373.7,949.4 370.4,944.9 367.1,940.2 341.8,956.5 345.3,961.5 348.8,966.5 352.4,971.4 356.1,976.2"/>
<polygon fill="#3095b5" points="367.1,940.2 363.9,935.3 360.7,930.4 357.5,925.4 354.5,920.4 326.5,936.1 329.8,941.5 333.2,946.9 336.7,952.3 340.2,957.6"/>
<polygon fill="#3096b5" points="354.9,921.2 351.9,916.1 349.0,911.0 346.2,905.9 343.4,900.7 314.6,914.7 317.6,920.3 320.7,925.9 323.8,931.5 327.0,936.9"/>
<polygon fill="#3096b5" points="343.8,901.5 341.1,896.2 338.5,890.9 335.9,885.6 333.5,880.3 303.9,892.6 306.6,898.4 309.3,904.2 312.1,909.9 315.1,915.6"/>
<polygon fill="#3097b4" points="333.8,881.1 331.5,875.9 329.3,870.7 327.1,865.4 325.1,860.1 294.9,870.8 297.1,876.5 299.4,882.2 301.8,887.9 304.3,893.5"/>
<polygon fill="#3098b4" points="325.1,860.1 323.0,854.6 321.0,849.0 319.1,843.4 317.2,837.8 283.9,847.4 285.9,853.5 287.9,859.6 290.1,865.7 292.4,871.7"/>
<polygon fill="#3099b4" points="317.5,838.7 315.8,833.0 314.1,827.3 312.5,821.6 311.0,815.9 277.1,823.5 278.8,829.7 280.5,835.9 282.3,842.1 284.2,848.3"/>
<polygon fill="#309ab4" points="311.2,816.8 309.8,811.0 308.4,805.2 307.2,799.4 306.0,793.6 271.8,799.2 273.0,805.6 274.4,811.9 275.8,818.2 277.4,824.4"/>
<polygon fill="#309ab4" points="306.2,794.5 305.1,788.9 304.2,783.2 303.3,777.6 302.5,771.9 268.0,775.6 268.8,781.8 269.8,787.9 270.8,794.1 272.0,800.2"/>
<polygon fill="#309bb3" points="302.5,771.9 301.7,766.0 301.0,760.1 300.5,754.2 300.0,748.2 256.6,750.3 257.1,756.8 257.7,763.4 258.4,770.0 259.3,776.6"/>
<polygon fill="#309cb3" points="300.0,749.2 299.6,743.2 299.3,737.3 299.1,731.3 298.9,725.3 255.5,724.8 255.6,731.4 255.9,738.0 256.2,744.7 256.7,751.3"/>
<polygon fill="#309db3" points="299.0,726.2 298.9,720.3 298.9,714.3 299.0,708.3 299.3,702.3 255.9,699.3 255.7,705.9 255.5,712.6 255.5,719.2 255.5,725.8"/>
<polygon fill="#309eb3" points="299.2,703.3 299.5,697.5 299.8,691.8 300.3,686.0 300.8,680.3 257.7,674.8 257.1,681.2 256.6,687.6 256.2,693.9 255.9,700.3"/>
<polygon fill="#309eb3" points="300.8,680.3 301.4,674.3 302.2,668.4 303.0,662.5 303.9,656.5 255.2,647.3 254.2,654.0 253.2,660.7 252.4,667.4 251.7,674.1"/>
<polygon fill="#309fb2" points="303.7,657.4 304.7,651.5 305.8,645.6 306.9,639.7 308.2,633.8 260.1,621.8 258.7,628.4 257.4,635.1 256.2,641.7 255.0,648.4"/>
<polygon fill="#30a0b2" points="308.0,634.7 309.3,628.9 310.7,623.0 312.2,617.2 313.8,611.4 266.5,596.6 264.7,603.2 263.0,609.7 261.4,616.3 259.9,622.9"/>
<polygon fill="#30a1b2" points="313.6,612.3 315.2,606.7 316.9,601.2 318.6,595.7 320.5,590.2 274.1,572.8 272.0,579.0 270.0,585.2 268.1,591.4 266.3,597.6"/>
<polygon fill="#30a2b2" points="320.5,590.2 322.5,584.5 324.6,578.8 326.7,573.2 329.0,567.6 286.2,548.5 283.6,554.8 281.2,561.1 278.8,567.4 276.6,573.7"/>
<polygon fill="#30a2b1" points="328.7,568.5 331.0,562.9 333.4,557.4 335.9,551.9 338.5,546.4 296.9,524.9 294.0,531.0 291.1,537.1 288.4,543.3 285.8,549.5"/>
<polygon fill="#30a3b1" points="338.1,547.2 340.8,541.8 343.5,536.4 346.3,531.1 349.2,525.8 308.9,501.8 305.7,507.8 302.5,513.7 299.4,519.7 296.4,525.8"/>
<polygon fill="#30a4b1" points="348.8,526.6 351.6,521.5 354.6,516.5 357.6,511.5 360.7,506.5 321.7,480.4 318.3,485.9 314.9,491.5 311.6,497.1 308.4,502.7"/>
<polygon fill="#30a5b1" points="360.7,506.5 363.9,501.4 367.3,496.4 370.7,491.4 374.3,486.4 339.4,459.8 335.5,465.3 331.7,470.8 327.9,476.4 324.3,482.1"/>
<polygon fill="#30a5b1" points="373.7,487.2 377.3,482.2 381.0,477.4 384.7,472.6 388.5,467.8 355.2,439.3 351.0,444.5 346.9,449.8 342.8,455.2 338.8,460.7"/>
<polygon fill="#30a6b0" points="387.9,468.6 391.8,463.9 395.7,459.2 399.7,454.6 403.8,450.1 372.3,419.6 367.7,424.7 363.3,429.7 358.9,434.9 354.6,440.1"/>
<polygon fill="#30a7b0" points="403.2,450.8 407.1,446.5 411.2,442.2 415.3,438.0 419.4,433.9 389.7,401.8 385.0,406.3 380.5,411.0 376.0,415.7 371.6,420.4"/>
<polygon fill="#30a8b0" points="419.4,433.9 423.8,429.7 428.3,425.5 432.8,421.4 437.4,417.4 412.6,387.0 407.5,391.4 402.5,395.9 397.6,400.5 392.8,405.1"/>
<polygon fill="#30a9af" points="436.7,418.0 441.4,414.0 446.1,410.1 450.8,406.3 455.7,402.5 432.6,370.7 427.3,374.9 422.1,379.1 416.9,383.3 411.8,387.7"/>
<polygon fill="#31a9ae" points="454.9,403.1 459.8,399.4 464.7,395.7 469.7,392.2 474.8,388.7 453.6,355.6 448.1,359.5 442.6,363.3 437.1,367.3 431.8,371.4"/>
<polygon fill="#31aaad" points="474.0,389.2 478.9,385.9 483.8,382.7 488.8,379.6 493.9,376.5 474.6,342.3 469.0,345.7 463.5,349.1 458.1,352.6 452.7,356.2"/>
<polygon fill="#32abac" points="493.9,376.5 499.2,373.4 504.5,370.3 509.9,367.4 515.3,364.5 498.3,329.5 492.3,332.7 486.4,335.9 480.6,339.2 474.8,342.6"/>
<polygon fill="#32abac" points="514.5,364.9 520.0,362.1 525.5,359.4 531.0,356.7 536.6,354.1 521.7,318.3 515.5,321.1 509.4,324.0 503.4,326.9 497.4,330.0"/>
<polygon fill="#32acab" points="535.8,354.5 541.4,352.0 547.1,349.6 552.8,347.3 558.5,345.1 545.7,308.4 539.4,310.8 533.1,313.3 526.9,316.0 520.7,318.7"/>
<polygon fill="#33adaa" points="557.7,345.4 563.2,343.3 568.8,341.3 574.4,339.4 580.1,337.5 569.3,300.2 563.1,302.2 556.9,304.3 550.8,306.5 544.7,308.7"/>
<polygon fill="#33ada9" points="580.1,337.5 586.0,335.7 591.9,334.0 597.9,332.3 603.9,330.7 596.2,296.5 589.7,298.2 583.2,300.0 576.8,301.9 570.3,303.9"/>
<polygon fill="#34aea8" points="602.9,331.0 609.0,329.5 615.0,328.1 621.0,326.8 627.1,325.6 621.4,291.0 614.8,292.3 608.3,293.7 601.7,295.2 595.2,296.8"/>
<polygon fill="#34afa7" points="626.2,325.8 632.3,324.6 638.4,323.6 644.5,322.6 650.7,321.8 647.0,286.9 640.4,287.8 633.7,288.8 627.1,290.0 620.4,291.2"/>
<polygon fill="#35afa6" points="649.7,321.9 655.7,321.2 661.6,320.5 667.6,319.9 673.5,319.4 671.8,284.4 665.3,284.9 658.9,285.5 652.4,286.2 646.0,287.0"/>
<polygon fill="#35b0a5" points="673.5,319.4 679.7,319.0 685.9,318.7 692.2,318.4 698.4,318.3 698.8,286.7 692.1,286.8 685.4,287.0 678.7,287.4 672.0,287.8"/>
<polygon fill="#35b0a4" points="697.4,318.3 703.7,318.3 709.9,318.3 716.1,318.4 722.4,318.6 724.6,287.1 717.9,286.8 711.1,286.7 704.4,286.6 697.7,286.7"/>
<polygon fill="#35b1a3" points="721.4,318.6 727.6,318.9 733.9,319.3 740.1,319.8 746.3,320.4 750.4,289.0 743.7,288.4 737.0,287.8 730.2,287.4 723.5,287.0"/>
<polygon fill="#35b1a3" points="745.4,320.3 751.3,320.9 757.3,321.7 763.3,322.5 769.2,323.4 775.0,292.3 768.6,291.3 762.2,290.4 755.8,289.6 749.3,288.9"/>
<polygon fill="#35b1a2" points="769.2,323.4 775.4,324.4 781.5,325.5 787.7,326.7 793.8,328.1 800.5,301.1 794.0,299.7 787.5,298.3 780.9,297.1 774.3,296.0"/>
<polygon fill="#36b2a1" points="792.9,327.9 799.0,329.2 805.1,330.7 811.2,332.3 817.2,334.0 825.5,307.4 819.0,305.6 812.6,303.9 806.1,302.3 799.5,300.8"/>
<polygon fill="#36b2a0" points="816.3,333.7 822.3,335.4 828.3,337.3 834.3,339.2 840.2,341.2 850.1,315.2 843.7,313.0 837.3,311.0 830.9,309.0 824.5,307.1"/>
<polygon fill="#36b29f" points="839.3,340.9 845.0,342.9 850.7,345.0 856.4,347.2 862.0,349.5 873.2,324.0 867.2,321.6 861.2,319.3 855.2,317.0 849.1,314.9"/>
<polygon fill="#36b39e" points="862.0,349.5 867.8,351.9 873.5,354.4 879.3,357.1 885.0,359.8 897.0,336.4 891.0,333.5 884.9,330.7 878.8,328.0 872.6,325.4"/>
<polygon fill="#36b39d" points="884.1,359.3 889.8,362.1 895.4,365.0 901.0,367.9 906.5,371.0 919.9,348.4 914.0,345.1 908.1,342.0 902.1,338.9 896.1,336.0"/>
<polygon fill="#36b39c" points="905.6,370.5 911.1,373.6 916.6,376.8 922.0,380.1 927.4,383.4 942.1,361.7 936.4,358.1 930.6,354.6 924.9,351.2 919.0,347.9"/>
<polygon fill="#36b49c" points="926.5,382.9 931.7,386.2 936.7,389.6 941.7,393.0 946.7,396.6 962.6,375.6 957.3,371.9 952.0,368.2 946.6,364.6 941.2,361.1"/>
<polygon fill="#36b49b" points="946.7,396.6 951.8,400.3 956.9,404.1 961.9,408.0 966.8,412.0 984.5,391.5 979.2,387.2 973.9,383.1 968.5,379.0 963.1,375.0"/>
<polygon fill="#37b49a" points="966.1,411.4 971.0,415.4 975.8,419.5 980.6,423.7 985.3,428.0 1004.1,408.5 999.1,404.0 994.0,399.5 988.9,395.1 983.7,390.8"/>
<polygon fill="#37b599" points="984.6,427.3 989.3,431.6 993.9,436.0 998.4,440.5 1002.9,445.0 1022.8,426.7 1018.0,421.8 1013.2,417.1 1008.3,412.4 1003.4,407.8"/>
<polygon fill="#37b598" points="1002.2,444.3 1006.4,448.7 1010.6,453.2 1014.7,457.7 1018.7,462.3 1039.6,445.1 1035.3,440.2 1031.0,435.4 1026.5,430.6 1022.0,425.9"/>
<polygon fill="#37b597" points="1018.7,462.3 1022.9,467.2 1027.0,472.1 1031.0,477.1 1034.9,482.1 1056.2,466.6 1052.0,461.3 1047.8,456.0 1043.4,450.8 1039.1,445.6"/>
<polygon fill="#37b696" points="1034.3,481.3 1038.1,486.4 1041.9,491.6 1045.6,496.8 1049.2,502.0 1071.4,487.8 1067.5,482.2 1063.6,476.7 1059.6,471.2 1055.5,465.8"/>
<polygon fill="#37b695" points="1048.7,501.2 1052.3,506.5 1055.7,511.9 1059.1,517.3 1062.5,522.8 1085.4,509.9 1081.9,504.1 1078.3,498.3 1074.6,492.6 1070.8,487.0"/>
<polygon fill="#37b695" points="1061.9,521.9 1065.1,527.2 1068.1,532.6 1071.1,538.0 1074.0,543.4 1097.6,531.9 1094.5,526.1 1091.4,520.3 1088.2,514.6 1084.8,509.0"/>
<polygon fill="#37b794" points="1074.0,543.4 1076.9,549.1 1079.8,554.9 1082.5,560.7 1085.2,566.5 1111.9,555.4 1109.1,549.1 1106.1,542.9 1103.1,536.8 1100.0,530.7"/>
<polygon fill="#38b793" points="1084.8,565.6 1087.4,571.5 1089.9,577.4 1092.3,583.4 1094.6,589.4 1122.0,579.8 1119.5,573.4 1116.9,567.0 1114.2,560.7 1111.5,554.4"/>
<polygon fill="#38b792" points="1094.3,588.4 1096.5,594.5 1098.7,600.5 1100.8,606.6 1102.7,612.8 1130.6,604.8 1128.5,598.2 1126.3,591.7 1124.0,585.2 1121.6,578.8"/>
<polygon fill="#38b891" points="1102.4,611.8 1104.3,617.7 1106.0,623.7 1107.7,629.6 1109.2,635.6 1137.5,629.2 1135.8,622.8 1134.1,616.4 1132.2,610.1 1130.3,603.8"/>
<polygon fill="#38b890" points="1109.2,635.6 1110.8,641.9 1112.2,648.2 1113.6,654.5 1114.8,660.8 1140.8,656.6 1139.5,649.9 1138.0,643.2 1136.5,636.5 1134.9,629.8"/>
<polygon fill="#38b88f" points="1114.7,659.9 1115.8,666.2 1116.9,672.6 1117.9,679.0 1118.8,685.4 1144.9,682.7 1144.0,675.9 1143.0,669.1 1141.8,662.3 1140.6,655.6"/>
<polygon fill="#38b88e" points="1118.6,684.4 1119.5,690.8 1120.2,697.3 1120.8,703.7 1121.3,710.2 1147.6,709.0 1147.0,702.1 1146.4,695.3 1145.6,688.4 1144.8,681.6"/>
<polygon fill="#38b88c" points="1121.2,709.2 1121.6,715.4 1122.0,721.6 1122.2,727.9 1122.3,734.1 1148.6,734.3 1148.5,727.7 1148.2,721.1 1147.9,714.5 1147.5,707.9"/>
<polygon fill="#38b88b" points="1122.3,734.1 1122.4,740.6 1122.3,747.1 1122.2,753.6 1122.0,760.1 1148.2,761.9 1148.5,755.0 1148.6,748.1 1148.7,741.2 1148.6,734.3"/>
<polygon fill="#38b98a" points="1122.0,759.1 1121.7,765.6 1121.3,772.0 1120.7,778.5 1120.1,785.0 1146.2,788.4 1146.9,781.5 1147.4,774.6 1147.9,767.7 1148.2,760.8"/>
<polygon fill="#38b988" points="1120.2,784.0 1119.5,790.5 1118.7,796.9 1117.8,803.4 1116.8,809.8 1142.7,814.7 1143.7,807.9 1144.7,801.0 1145.6,794.2 1146.3,787.3"/>
<polygon fill="#38b987" points="1117.0,808.8 1115.9,815.0 1114.8,821.2 1113.6,827.3 1112.3,833.5 1137.8,839.8 1139.2,833.3 1140.5,826.8 1141.7,820.2 1142.8,813.7"/>
<polygon fill="#38b986" points="1112.3,833.5 1110.8,839.8 1109.3,846.2 1107.6,852.5 1105.9,858.8 1131.4,866.8 1133.2,860.1 1135.0,853.4 1136.6,846.6 1138.2,839.9"/>
<polygon fill="#38b984" points="1106.2,857.8 1104.4,864.1 1102.4,870.4 1100.4,876.6 1098.3,882.8 1123.3,892.2 1125.5,885.6 1127.7,879.0 1129.7,872.4 1131.7,865.7"/>
<polygon fill="#38b983" points="1098.6,881.8 1096.5,888.0 1094.2,894.2 1091.8,900.3 1089.3,906.3 1113.7,917.2 1116.3,910.8 1118.9,904.3 1121.3,897.8 1123.6,891.2"/>
<polygon fill="#38b982" points="1089.7,905.4 1087.3,911.2 1084.7,917.0 1082.1,922.7 1079.4,928.4 1103.1,940.6 1106.0,934.6 1108.8,928.5 1111.5,922.4 1114.1,916.2"/>
<polygon fill="#38b980" points="1079.4,928.4 1076.5,934.3 1073.5,940.2 1070.4,946.0 1067.3,951.7 1085.6,962.6 1089.0,956.6 1092.2,950.5 1095.3,944.4 1098.4,938.2"/>
<polygon fill="#38ba7f" points="1067.8,950.9 1064.5,956.6 1061.2,962.3 1057.8,967.9 1054.3,973.5 1072.0,985.4 1075.6,979.6 1079.2,973.7 1082.7,967.7 1086.1,961.7"/>
<polygon fill="#38ba7e" points="1054.8,972.6 1051.2,978.1 1047.6,983.6 1043.8,989.0 1040.0,994.4 1057.0,1007.4 1061.0,1001.7 1064.9,996.0 1068.8,990.3 1072.5,984.5"/>
<polygon fill="#38ba7c" points="1040.6,993.6 1036.9,998.7 1033.0,1003.8 1029.1,1008.8 1025.2,1013.7 1041.4,1027.6 1045.6,1022.4 1049.6,1017.2 1053.7,1011.9 1057.6,1006.5"/>
<polygon fill="#38ba7b" points="1025.2,1013.7 1021.0,1018.8 1016.7,1023.9 1012.3,1028.8 1007.9,1033.7 1030.6,1055.7 1035.4,1050.5 1040.1,1045.1 1044.7,1039.8 1049.2,1034.3"/>
<polygon fill="#38ba7a" points="1008.6,1033.0 1004.1,1037.8 999.5,1042.6 994.8,1047.3 990.1,1052.0 1011.6,1075.2 1016.6,1070.3 1021.6,1065.2 1026.5,1060.1 1031.4,1054.9"/>
<polygon fill="#38ba78" points="990.9,1051.3 986.1,1055.8 981.2,1060.4 976.3,1064.8 971.3,1069.2 991.3,1093.6 996.7,1089.0 1002.0,1084.2 1007.2,1079.4 1012.3,1074.5"/>
<polygon fill="#38ba77" points="972.1,1068.5 967.2,1072.6 962.3,1076.7 957.3,1080.7 952.3,1084.6 970.9,1110.2 976.3,1106.0 981.7,1101.7 987.0,1097.3 992.2,1092.9"/>
<polygon fill="#38ba76" points="952.3,1084.6 947.0,1088.6 941.6,1092.6 936.2,1096.4 930.7,1100.2 949.0,1128.7 954.9,1124.7 960.8,1120.6 966.6,1116.3 972.3,1112.0"/>
<polygon fill="#38bb74" points="931.6,1099.6 926.0,1103.3 920.5,1106.9 914.8,1110.5 909.1,1113.9 925.7,1143.5 931.9,1139.8 938.0,1136.0 944.0,1132.1 949.9,1128.1"/>
<polygon fill="#38bb73" points="910.0,1113.4 904.3,1116.8 898.5,1120.0 892.6,1123.3 886.7,1126.4 901.6,1156.9 907.9,1153.5 914.2,1150.1 920.5,1146.5 926.7,1142.9"/>
<polygon fill="#38bb72" points="887.6,1125.9 881.9,1128.8 876.2,1131.7 870.4,1134.4 864.5,1137.1 877.7,1168.4 883.9,1165.5 890.2,1162.5 896.4,1159.5 902.6,1156.3"/>
<polygon fill="#38bb70" points="864.5,1137.1 858.4,1139.8 852.2,1142.4 846.0,1144.9 839.8,1147.3 852.0,1182.2 858.8,1179.6 865.5,1176.9 872.2,1174.1 878.8,1171.2"/>
<polygon fill="#38bb6f" points="840.8,1146.9 834.5,1149.3 828.2,1151.5 821.8,1153.7 815.5,1155.7 825.7,1191.3 832.6,1189.1 839.4,1186.7 846.3,1184.3 853.1,1181.8"/>
<polygon fill="#39bb6e" points="816.5,1155.4 810.0,1157.4 803.6,1159.3 797.1,1161.0 790.6,1162.7 798.7,1198.8 805.8,1197.0 812.8,1195.1 819.8,1193.1 826.7,1190.9"/>
<polygon fill="#39bb6d" points="791.7,1162.5 785.4,1164.0 779.1,1165.4 772.8,1166.8 766.4,1168.1 772.5,1204.5 779.4,1203.2 786.2,1201.7 793.0,1200.2 799.8,1198.5"/>
<polygon fill="#39bb6c" points="766.4,1168.1 759.8,1169.3 753.2,1170.4 746.6,1171.4 739.9,1172.3 744.1,1212.5 751.4,1211.5 758.6,1210.4 765.9,1209.2 773.1,1207.9"/>
<polygon fill="#3abc6b" points="740.9,1172.2 734.2,1173.0 727.5,1173.8 720.8,1174.4 714.1,1174.9 716.0,1215.3 723.3,1214.7 730.6,1214.0 737.9,1213.3 745.2,1212.4"/>
<polygon fill="#3abc69" points="715.2,1174.8 708.4,1175.3 701.7,1175.6 695.0,1175.9 688.2,1176.0 687.7,1216.4 695.1,1216.3 702.4,1216.0 709.8,1215.7 717.1,1215.2"/>
<polygon fill="#3abc68" points="689.2,1176.0 682.8,1176.0 676.3,1176.0 669.8,1175.8 663.3,1175.6 660.5,1215.9 667.6,1216.2 674.7,1216.4 681.8,1216.4 688.9,1216.4"/>
<polygon fill="#3bbc67" points="663.3,1175.6 656.5,1175.3 649.8,1174.8 643.0,1174.3 636.3,1173.6 630.9,1215.2 638.3,1215.9 645.7,1216.5 653.1,1217.1 660.4,1217.4"/>
<polygon fill="#3bbc66" points="637.3,1173.7 630.6,1173.0 623.9,1172.2 617.2,1171.2 610.5,1170.2 602.7,1211.4 610.0,1212.5 617.4,1213.6 624.7,1214.5 632.1,1215.3"/>
<polygon fill="#3bbc65" points="611.5,1170.3 604.8,1169.2 598.2,1168.0 591.5,1166.7 584.9,1165.2 574.7,1205.9 582.0,1207.5 589.3,1208.9 596.5,1210.3 603.8,1211.6"/>
<polygon fill="#3cbc64" points="585.9,1165.4 579.5,1164.0 573.2,1162.4 566.9,1160.8 560.6,1159.1 548.2,1199.1 555.1,1201.0 562.0,1202.8 568.9,1204.5 575.8,1206.1"/>
<polygon fill="#3cbc63" points="560.6,1159.1 554.1,1157.2 547.6,1155.2 541.1,1153.1 534.6,1150.9 519.0,1192.2 526.1,1194.6 533.2,1197.0 540.3,1199.2 547.5,1201.3"/>
<polygon fill="#3cbd62" points="535.6,1151.2 529.2,1148.9 522.8,1146.5 516.5,1144.1 510.2,1141.5 492.2,1181.9 499.1,1184.7 506.1,1187.4 513.1,1190.1 520.1,1192.6"/>
<polygon fill="#3dbd60" points="511.2,1141.9 504.9,1139.2 498.6,1136.5 492.4,1133.6 486.3,1130.7 466.0,1170.0 472.7,1173.2 479.5,1176.3 486.4,1179.4 493.3,1182.3"/>
<polygon fill="#3dbd5f" points="487.2,1131.2 481.3,1128.3 475.5,1125.3 469.7,1122.2 463.9,1119.0 441.5,1157.1 447.8,1160.6 454.1,1164.0 460.5,1167.3 467.0,1170.5"/>
<polygon fill="#3dbd5e" points="463.9,1119.0 458.0,1115.7 452.1,1112.2 446.2,1108.6 440.4,1105.0 414.2,1143.8 420.6,1147.9 427.0,1151.8 433.5,1155.7 440.1,1159.4"/>
<polygon fill="#3ebd5d" points="441.3,1105.6 435.6,1101.8 429.9,1098.0 424.3,1094.1 418.7,1090.1 390.2,1127.4 396.4,1131.8 402.6,1136.1 408.9,1140.3 415.2,1144.5"/>
<polygon fill="#3ebd5c" points="419.5,1090.8 414.0,1086.7 408.5,1082.6 403.1,1078.3 397.8,1074.0 367.2,1109.6 373.1,1114.3 379.1,1119.0 385.1,1123.6 391.2,1128.1"/>
<polygon fill="#3ebd5b" points="398.6,1074.7 393.5,1070.5 388.5,1066.2 383.5,1061.9 378.6,1057.4 346.1,1091.2 351.5,1096.1 357.0,1100.9 362.5,1105.7 368.1,1110.3"/>
<polygon fill="#3fbd5a" points="378.6,1057.4 373.6,1052.7 368.6,1048.0 363.7,1043.2 358.9,1038.2 326.4,1068.2 331.7,1073.6 337.0,1078.9 342.5,1084.1 348.0,1089.3"/>
<polygon fill="#3fbe59" points="359.7,1039.0 354.9,1034.0 350.2,1029.0 345.6,1023.9 341.1,1018.7 306.9,1046.7 311.8,1052.4 316.9,1058.0 322.0,1063.6 327.2,1069.0"/>
<polygon fill="#3fbe57" points="341.8,1019.5 337.3,1014.2 332.9,1008.9 328.6,1003.5 324.4,998.1 288.6,1024.0 293.2,1030.0 297.9,1035.9 302.7,1041.8 307.6,1047.6"/>
<polygon fill="#40be56" points="325.0,998.9 321.0,993.6 317.1,988.3 313.2,982.8 309.5,977.4 272.3,1001.3 276.4,1007.3 280.6,1013.3 284.9,1019.1 289.3,1025.0"/>
<polygon fill="#40be55" points="309.5,977.4 305.6,971.6 301.9,965.8 298.2,959.9 294.6,954.0 254.8,976.4 258.7,982.9 262.7,989.4 266.8,995.8 271.0,1002.1"/>
<polygon fill="#41be54" points="295.2,954.9 291.7,949.0 288.3,942.9 284.9,936.9 281.7,930.7 240.6,950.8 244.1,957.5 247.8,964.2 251.5,970.8 255.4,977.4"/>
<polygon fill="#42be53" points="282.2,931.7 279.1,925.5 276.0,919.3 273.0,913.0 270.2,906.7 228.0,924.3 231.1,931.3 234.3,938.2 237.7,945.0 241.1,951.8"/>
<polygon fill="#42be52" points="270.6,907.7 267.9,901.6 265.3,895.4 262.8,889.2 260.4,883.0 217.3,898.2 219.9,905.1 222.6,911.9 225.5,918.6 228.4,925.4"/>
<polygon fill="#43be51" points="260.4,883.0 258.0,876.5 255.6,869.9 253.4,863.3 251.3,856.7 208.8,868.9 211.1,876.1 213.5,883.4 216.1,890.6 218.7,897.7"/>
<polygon fill="#44be50" points="251.6,857.7 249.6,851.1 247.6,844.4 245.8,837.7 244.0,830.9 200.9,840.6 202.8,848.0 204.8,855.4 206.9,862.7 209.1,870.0"/>
<polygon fill="#45be4f" points="244.3,831.9 242.7,825.2 241.1,818.4 239.7,811.6 238.3,804.7 194.7,811.9 196.1,819.4 197.7,826.9 199.4,834.3 201.2,841.7"/>
<polygon fill="#46be4e" points="238.5,805.8 237.3,799.2 236.2,792.5 235.2,785.9 234.2,779.2 190.3,784.0 191.3,791.3 192.4,798.5 193.6,805.8 194.9,813.0"/>
<polygon fill="#47be4d" points="234.2,779.2 233.4,772.3 232.6,765.4 232.0,758.4 231.5,751.4 186.1,753.5 186.7,761.2 187.4,768.8 188.2,776.5 189.2,784.1"/>
<polygon fill="#48be4c" points="231.5,752.5 231.1,745.5 230.7,738.5 230.5,731.5 230.4,724.5 185.0,724.0 185.1,731.7 185.4,739.3 185.7,747.0 186.2,754.7"/>
<polygon fill="#49be4b" points="230.4,725.6 230.3,718.6 230.4,711.6 230.5,704.6 230.8,697.5 185.6,694.4 185.3,702.1 185.1,709.8 185.0,717.5 185.0,725.2"/>
<polygon fill="#49be4a" points="230.8,698.6 231.1,691.9 231.6,685.1 232.1,678.4 232.8,671.7 187.8,666.0 187.0,673.4 186.4,680.8 185.9,688.2 185.5,695.6"/>
<polygon fill="#4abe49" points="232.8,671.7 233.5,664.7 234.4,657.7 235.4,650.8 236.5,643.8 194.2,635.8 192.9,643.4 191.9,651.0 190.9,658.6 190.0,666.3"/>
<polygon fill="#4bbe48" points="236.3,644.9 237.5,637.9 238.8,631.0 240.1,624.1 241.6,617.2 199.9,606.8 198.2,614.3 196.7,621.9 195.3,629.4 194.0,637.0"/>
<polygon fill="#4cbe47" points="241.4,618.3 243.0,611.4 244.7,604.6 246.5,597.8 248.4,591.0 207.2,578.1 205.2,585.5 203.2,593.0 201.3,600.5 199.6,608.0"/>
<polygon fill="#4dbe46" points="248.1,592.0 250.0,585.5 252.0,579.0 254.1,572.5 256.2,566.1 215.9,551.0 213.5,558.0 211.2,565.1 209.0,572.1 206.9,579.3"/>
<polygon fill="#4ebe45" points="256.2,566.1 258.6,559.5 261.1,552.8 263.7,546.3 266.3,539.7 228.4,522.8 225.5,529.9 222.7,537.1 219.9,544.3 217.3,551.5"/>
<polygon fill="#4fbe43" points="265.9,540.7 268.7,534.2 271.6,527.7 274.5,521.3 277.6,514.9 240.7,495.8 237.3,502.8 234.1,509.8 231.0,516.8 227.9,523.9"/>
<polygon fill="#50be42" points="277.1,515.9 280.2,509.5 283.5,503.2 286.8,497.0 290.2,490.8 254.5,469.6 250.8,476.3 247.1,483.1 243.6,490.0 240.1,496.9"/>
<polygon fill="#50be41" points="289.7,491.7 293.1,485.8 296.5,479.9 300.1,474.1 303.7,468.3 269.2,445.1 265.3,451.4 261.4,457.7 257.6,464.1 253.9,470.6"/>
<polygon fill="#51be40" points="303.7,468.3 307.6,462.3 311.5,456.4 315.6,450.6 319.7,444.8 290.6,422.6 286.2,428.8 281.8,435.1 277.5,441.5 273.3,447.9"/>
<polygon fill="#52be3f" points="319.1,445.7 323.3,439.9 327.6,434.3 332.0,428.7 336.5,423.1 308.7,399.3 303.9,405.2 299.1,411.3 294.5,417.4 289.9,423.5"/>
<polygon fill="#53be3e" points="335.8,424.0 340.3,418.5 344.9,413.1 349.7,407.7 354.5,402.4 328.1,377.0 323.0,382.7 317.9,388.4 312.9,394.3 308.0,400.2"/>
<polygon fill="#54be3d" points="353.7,403.2 358.4,398.2 363.1,393.3 368.0,388.4 372.9,383.6 348.0,356.7 342.7,361.9 337.5,367.2 332.4,372.5 327.3,377.9"/>
<polygon fill="#55be3c" points="372.9,383.6 378.0,378.6 383.3,373.8 388.6,369.0 394.0,364.3 373.0,338.7 367.2,343.7 361.5,348.8 355.9,354.0 350.3,359.2"/>
<polygon fill="#57be3b" points="393.1,365.0 398.6,360.4 404.1,355.8 409.7,351.4 415.4,347.0 395.9,320.2 389.8,324.8 383.8,329.6 377.9,334.5 372.1,339.4"/>
<polygon fill="#59be3a" points="414.5,347.7 420.2,343.4 426.0,339.1 431.8,335.0 437.8,330.9 419.9,303.0 413.5,307.3 407.3,311.8 401.1,316.3 394.9,320.9"/>
<polygon fill="#5abe39" points="436.8,331.6 442.6,327.7 448.4,324.0 454.2,320.3 460.1,316.8 443.8,287.9 437.5,291.7 431.2,295.6 425.0,299.6 418.9,303.7"/>
<polygon fill="#5cbe38" points="460.1,316.8 466.3,313.1 472.6,309.6 478.9,306.1 485.3,302.8 469.2,269.9 462.4,273.5 455.6,277.2 448.8,281.0 442.1,284.9"/>
<polygon fill="#5ebe37" points="484.3,303.3 490.7,300.0 497.1,296.9 503.7,293.8 510.2,290.8 496.1,257.1 489.1,260.3 482.0,263.6 475.1,267.0 468.2,270.5"/>
<polygon fill="#60be36" points="509.2,291.3 515.8,288.4 522.4,285.6 529.1,282.9 535.8,280.3 523.7,245.8 516.5,248.6 509.3,251.5 502.1,254.5 495.0,257.6"/>
<polygon fill="#62bd35" points="534.8,280.7 541.3,278.3 547.8,276.0 554.4,273.8 561.0,271.6 550.9,236.5 543.7,238.8 536.7,241.1 529.6,243.6 522.6,246.2"/>
<polygon fill="#64bd34" points="561.0,271.6 567.9,269.5 574.9,267.5 581.8,265.6 588.8,263.8 579.8,223.7 572.2,225.6 564.6,227.6 557.1,229.8 549.6,232.1"/>
<polygon fill="#66bd33" points="587.8,264.1 594.8,262.4 601.8,260.8 608.9,259.3 616.0,257.9 609.4,217.3 601.6,218.8 593.9,220.4 586.3,222.1 578.6,223.9"/>
<polygon fill="#68bd32" points="614.9,258.1 622.0,256.8 629.2,255.6 636.4,254.5 643.5,253.6 639.2,212.6 631.4,213.7 623.7,214.8 615.9,216.1 608.2,217.5"/>
<polygon fill="#6abd31" points="642.4,253.7 649.3,252.8 656.3,252.1 663.2,251.4 670.2,250.9 668.2,209.8 660.6,210.4 653.1,211.1 645.6,211.9 638.0,212.8"/>
<polygon fill="#6cbd30" points="670.2,250.9 677.4,250.4 684.7,250.1 691.9,249.8 699.2,249.7 699.8,201.7 691.8,201.8 683.8,202.1 675.8,202.4 667.8,202.9"/>
<polygon fill="#6dbd30" points="698.1,249.7 705.3,249.7 712.6,249.7 719.9,249.9 727.2,250.2 730.5,202.3 722.5,202.0 714.5,201.8 706.5,201.7 698.5,201.7"/>
<polygon fill="#6ebd2f" points="726.0,250.2 733.3,250.5 740.6,251.0 747.8,251.6 755.1,252.4 761.2,204.7 753.2,203.9 745.3,203.2 737.3,202.7 729.3,202.3"/>
<polygon fill="#6fbd2f" points="754.0,252.2 760.9,253.0 767.9,253.9 774.8,254.9 781.8,255.9 790.5,208.7 782.9,207.5 775.3,206.4 767.7,205.5 760.0,204.6"/>
<polygon fill="#70bd2f" points="781.8,255.9 789.0,257.2 796.1,258.5 803.3,259.9 810.4,261.5 820.6,220.8 812.8,219.1 805.0,217.5 797.2,216.1 789.4,214.7"/>
<polygon fill="#72bd2e" points="809.3,261.3 816.4,262.9 823.5,264.7 830.6,266.5 837.7,268.5 850.2,228.5 842.5,226.3 834.8,224.3 827.1,222.4 819.4,220.6"/>
<polygon fill="#73bd2e" points="836.6,268.2 843.6,270.2 850.6,272.4 857.5,274.7 864.5,277.1 879.3,237.8 871.8,235.2 864.2,232.7 856.6,230.4 849.0,228.1"/>
<polygon fill="#74bd2e" points="863.4,276.7 870.0,279.1 876.6,281.5 883.2,284.1 889.7,286.7 906.7,248.4 899.6,245.5 892.5,242.7 885.3,240.0 878.1,237.4"/>
<polygon fill="#75bd2d" points="889.7,286.7 896.5,289.6 903.2,292.6 909.9,295.7 916.5,298.8 934.5,264.0 927.4,260.5 920.2,257.2 912.9,254.0 905.6,250.9"/>
<polygon fill="#76bd2d" points="915.5,298.3 922.0,301.6 928.6,305.0 935.1,308.4 941.5,312.0 961.5,278.2 954.6,274.4 947.6,270.6 940.5,267.0 933.4,263.4"/>
<polygon fill="#77bd2d" points="940.5,311.4 946.9,315.1 953.2,318.8 959.5,322.7 965.7,326.6 987.7,294.0 981.0,289.8 974.2,285.6 967.4,281.6 960.5,277.6"/>
<polygon fill="#79bd2c" points="964.8,326.0 970.7,329.8 976.6,333.8 982.4,337.8 988.2,341.9 1011.9,310.7 1005.7,306.2 999.4,301.8 993.1,297.6 986.7,293.4"/>
<polygon fill="#7abd2c" points="988.2,341.9 994.1,346.3 1000.0,350.8 1005.8,355.3 1011.6,360.0 1034.2,333.7 1028.0,328.7 1021.8,323.8 1015.5,319.0 1009.2,314.3"/>
<polygon fill="#7bbc2c" points="1010.7,359.2 1016.4,364.0 1022.0,368.8 1027.5,373.6 1033.0,378.6 1057.1,353.7 1051.2,348.3 1045.3,343.1 1039.3,337.9 1033.2,332.9"/>
<polygon fill="#7cbc2b" points="1032.1,377.8 1037.5,382.9 1042.9,388.0 1048.1,393.2 1053.3,398.5 1078.8,375.0 1073.3,369.3 1067.7,363.8 1062.0,358.3 1056.2,352.8"/>
<polygon fill="#7dbc2b" points="1052.5,397.7 1057.4,402.9 1062.3,408.1 1067.0,413.4 1071.7,418.7 1098.5,396.7 1093.5,390.9 1088.4,385.3 1083.2,379.7 1078.0,374.1"/>
<polygon fill="#7ebc2b" points="1071.7,418.7 1076.5,424.4 1081.2,430.1 1085.8,435.9 1090.4,441.8 1117.2,422.3 1112.4,416.0 1107.4,409.8 1102.4,403.7 1097.3,397.7"/>
<polygon fill="#80bc2a" points="1089.7,440.9 1094.2,446.8 1098.5,452.8 1102.8,458.9 1107.0,465.0 1134.9,447.1 1130.5,440.6 1125.9,434.1 1121.2,427.7 1116.5,421.3"/>
<polygon fill="#81bc2a" points="1106.4,464.1 1110.5,470.2 1114.5,476.5 1118.4,482.8 1122.3,489.2 1151.2,473.0 1147.1,466.1 1142.9,459.4 1138.6,452.7 1134.2,446.1"/>
<polygon fill="#82bc2a" points="1121.7,488.2 1125.3,494.4 1128.8,500.6 1132.2,506.9 1135.6,513.2 1165.4,498.6 1161.8,491.9 1158.1,485.2 1154.4,478.5 1150.6,471.9"/>
<polygon fill="#83bc29" points="1135.6,513.2 1139.0,519.9 1142.2,526.6 1145.4,533.3 1148.5,540.1 1175.9,528.7 1172.7,521.4 1169.3,514.3 1165.9,507.2 1162.3,500.1"/>
<polygon fill="#84bc29" points="1148.0,539.1 1151.0,545.9 1153.9,552.8 1156.7,559.7 1159.4,566.7 1187.4,556.8 1184.6,549.4 1181.6,542.1 1178.6,534.8 1175.4,527.5"/>
<polygon fill="#85bc29" points="1159.0,565.6 1161.6,572.6 1164.0,579.6 1166.4,586.7 1168.7,593.9 1197.3,585.7 1194.9,578.1 1192.4,570.6 1189.7,563.1 1187.0,555.7"/>
<polygon fill="#87bc28" points="1168.3,592.8 1170.4,599.6 1172.4,606.6 1174.3,613.5 1176.1,620.5 1205.1,613.9 1203.2,606.5 1201.2,599.1 1199.1,591.8 1196.9,584.5"/>
<polygon fill="#88bc28" points="1176.1,620.5 1177.9,627.7 1179.6,635.0 1181.1,642.4 1182.5,649.7 1210.0,645.2 1208.5,637.5 1206.9,629.7 1205.1,622.0 1203.3,614.3"/>
<polygon fill="#89bc28" points="1182.3,648.6 1183.7,656.0 1184.9,663.4 1186.0,670.8 1187.0,678.2 1214.7,675.3 1213.6,667.5 1212.5,659.6 1211.2,651.8 1209.8,644.0"/>
<polygon fill="#89bc28" points="1186.9,677.1 1187.8,684.6 1188.6,692.0 1189.2,699.5 1189.8,707.0 1217.6,705.7 1217.0,697.8 1216.3,689.9 1215.5,682.0 1214.5,674.1"/>
<polygon fill="#8abc28" points="1189.7,705.8 1190.2,713.1 1190.5,720.3 1190.8,727.5 1190.9,734.7 1218.8,735.0 1218.6,727.4 1218.4,719.7 1218.0,712.1 1217.5,704.5"/>
<polygon fill="#8bbb28" points="1190.9,734.7 1191.0,742.3 1190.9,749.8 1190.7,757.3 1190.4,764.9 1217.4,766.8 1217.7,758.8 1217.9,750.9 1218.0,742.9 1218.0,735.0"/>
<polygon fill="#8bbb27" points="1190.4,763.7 1190.0,771.2 1189.5,778.7 1188.9,786.3 1188.2,793.8 1215.0,797.2 1215.8,789.3 1216.5,781.4 1217.0,773.5 1217.4,765.5"/>
<polygon fill="#8cbb27" points="1188.3,792.6 1187.4,800.1 1186.5,807.6 1185.4,815.1 1184.2,822.5 1210.8,827.6 1212.1,819.7 1213.2,811.8 1214.2,803.9 1215.1,796.0"/>
<polygon fill="#8dbb27" points="1184.4,821.4 1183.2,828.6 1181.9,835.7 1180.4,842.8 1178.9,849.9 1205.2,856.4 1206.8,848.9 1208.3,841.4 1209.7,833.9 1211.0,826.4"/>
<polygon fill="#8dbb27" points="1178.9,849.9 1177.2,857.3 1175.4,864.7 1173.4,872.0 1171.4,879.3 1195.0,886.7 1197.2,879.0 1199.2,871.3 1201.1,863.6 1202.9,855.9"/>
<polygon fill="#8ebb27" points="1171.7,878.1 1169.6,885.4 1167.3,892.7 1165.0,899.9 1162.5,907.0 1185.7,915.8 1188.3,908.3 1190.8,900.7 1193.1,893.1 1195.4,885.5"/>
<polygon fill="#8fba27" points="1162.9,905.9 1160.3,913.1 1157.6,920.2 1154.9,927.2 1152.0,934.3 1174.6,944.3 1177.6,937.0 1180.6,929.6 1183.4,922.1 1186.1,914.6"/>
<polygon fill="#8fba27" points="1152.4,933.2 1149.6,939.9 1146.6,946.6 1143.6,953.2 1140.4,959.8 1162.4,971.1 1165.8,964.2 1169.0,957.3 1172.1,950.3 1175.1,943.2"/>
<polygon fill="#90ba27" points="1140.4,959.8 1137.0,966.6 1133.5,973.4 1130.0,980.1 1126.3,986.7 1147.9,999.6 1151.8,992.6 1155.6,985.6 1159.2,978.5 1162.8,971.3"/>
<polygon fill="#91ba26" points="1126.8,985.7 1123.1,992.3 1119.2,998.9 1115.2,1005.4 1111.1,1011.8 1132.0,1025.9 1136.3,1019.1 1140.5,1012.3 1144.5,1005.5 1148.5,998.5"/>
<polygon fill="#91ba26" points="1111.8,1010.8 1107.6,1017.2 1103.3,1023.6 1099.0,1029.8 1094.5,1036.0 1114.5,1051.3 1119.2,1044.8 1123.8,1038.2 1128.3,1031.6 1132.6,1024.9"/>
<polygon fill="#92ba26" points="1095.2,1035.1 1090.9,1041.0 1086.4,1046.8 1081.9,1052.6 1077.3,1058.3 1096.4,1074.7 1101.3,1068.7 1106.0,1062.6 1110.7,1056.5 1115.3,1050.3"/>
<polygon fill="#93b926" points="1077.3,1058.3 1072.4,1064.2 1067.4,1070.0 1062.4,1075.7 1057.2,1081.4 1075.6,1099.1 1081.0,1093.2 1086.3,1087.2 1091.6,1081.1 1096.7,1074.9"/>
<polygon fill="#93b926" points="1058.0,1080.5 1052.8,1086.1 1047.5,1091.6 1042.1,1097.1 1036.6,1102.4 1053.9,1121.2 1059.7,1115.6 1065.3,1109.9 1070.9,1104.1 1076.4,1098.2"/>
<polygon fill="#94b926" points="1037.4,1101.6 1031.9,1106.9 1026.3,1112.1 1020.6,1117.2 1014.8,1122.2 1030.9,1142.0 1037.0,1136.7 1043.0,1131.3 1049.0,1125.9 1054.8,1120.3"/>
<polygon fill="#95b926" points="1015.7,1121.5 1010.0,1126.2 1004.3,1130.9 998.6,1135.5 992.7,1140.0 1007.8,1160.7 1013.9,1155.9 1020.0,1151.1 1026.0,1146.2 1031.9,1141.2"/>
<polygon fill="#95b926" points="992.7,1140.0 986.6,1144.7 980.4,1149.2 974.1,1153.6 967.7,1157.9 982.8,1181.4 989.5,1176.8 996.1,1172.1 1002.6,1167.4 1009.1,1162.5"/>
<polygon fill="#96b925" points="968.7,1157.3 962.3,1161.5 955.8,1165.7 949.3,1169.8 942.7,1173.7 956.3,1198.0 963.3,1193.8 970.2,1189.5 977.0,1185.2 983.8,1180.7"/>
<polygon fill="#97b825" points="943.7,1173.1 937.1,1177.0 930.4,1180.8 923.6,1184.5 916.8,1188.0 929.0,1213.0 936.2,1209.3 943.3,1205.4 950.4,1201.4 957.4,1197.3"/>
<polygon fill="#97b825" points="917.8,1187.5 911.2,1190.8 904.6,1194.1 897.8,1197.3 891.1,1200.3 901.9,1226.0 909.0,1222.8 916.1,1219.4 923.1,1216.0 930.1,1212.5"/>
<polygon fill="#98b825" points="891.1,1200.3 884.0,1203.4 876.9,1206.4 869.7,1209.3 862.5,1212.1 873.5,1243.3 881.2,1240.4 888.8,1237.4 896.4,1234.2 903.9,1230.9"/>
<polygon fill="#99b825" points="863.6,1211.6 856.4,1214.3 849.1,1216.9 841.7,1219.3 834.4,1221.7 843.5,1253.5 851.4,1251.1 859.2,1248.5 866.9,1245.7 874.7,1242.9"/>
<polygon fill="#99b725" points="835.5,1221.3 828.1,1223.6 820.7,1225.7 813.2,1227.7 805.7,1229.7 812.9,1262.0 820.9,1260.0 828.9,1257.8 836.8,1255.6 844.7,1253.2"/>
<polygon fill="#9ab724" points="806.8,1229.4 799.6,1231.1 792.3,1232.8 785.0,1234.3 777.7,1235.7 783.2,1268.4 791.0,1266.9 798.7,1265.3 806.5,1263.6 814.2,1261.7"/>
<polygon fill="#9bb724" points="777.7,1235.7 770.1,1237.1 762.4,1238.4 754.7,1239.5 747.0,1240.6 751.4,1282.3 759.7,1281.1 768.1,1279.9 776.3,1278.6 784.6,1277.1"/>
<polygon fill="#9bb624" points="748.2,1240.4 740.5,1241.3 732.8,1242.2 725.1,1242.9 717.3,1243.4 719.2,1285.3 727.6,1284.7 736.0,1284.0 744.4,1283.1 752.7,1282.1"/>
<polygon fill="#9cb624" points="718.5,1243.4 710.7,1243.8 703.0,1244.2 695.2,1244.5 687.4,1244.6 686.9,1286.5 695.3,1286.4 703.7,1286.1 712.1,1285.7 720.5,1285.2"/>
<polygon fill="#9db624" points="688.6,1244.6 681.1,1244.6 673.6,1244.5 666.1,1244.4 658.6,1244.1 655.8,1285.9 663.9,1286.2 672.0,1286.4 680.1,1286.5 688.2,1286.5"/>
<polygon fill="#9db523" points="658.6,1244.1 650.9,1243.6 643.1,1243.1 635.3,1242.4 627.5,1241.7 622.5,1280.6 630.9,1281.4 639.2,1282.2 647.6,1282.8 656.0,1283.2"/>
<polygon fill="#9eb523" points="628.7,1241.8 621.0,1240.9 613.2,1239.9 605.5,1238.8 597.8,1237.6 590.5,1276.2 598.8,1277.5 607.1,1278.7 615.5,1279.8 623.8,1280.7"/>
<polygon fill="#9fb523" points="599.0,1237.8 591.3,1236.5 583.6,1235.0 575.9,1233.5 568.3,1231.8 558.8,1269.9 567.0,1271.7 575.2,1273.4 583.5,1274.9 591.8,1276.4"/>
<polygon fill="#9fb423" points="569.4,1232.0 562.1,1230.3 554.8,1228.5 547.5,1226.6 540.3,1224.6 528.7,1262.1 536.5,1264.3 544.3,1266.3 552.1,1268.3 560.0,1270.2"/>
<polygon fill="#a0b423" points="540.3,1224.6 532.8,1222.4 525.3,1220.0 517.8,1217.6 510.4,1215.0 494.3,1257.8 502.3,1260.6 510.4,1263.3 518.6,1265.8 526.7,1268.3"/>
<polygon fill="#a1b422" points="511.6,1215.4 504.2,1212.8 496.8,1210.0 489.5,1207.1 482.3,1204.2 463.7,1245.9 471.5,1249.2 479.5,1252.3 487.5,1255.4 495.5,1258.3"/>
<polygon fill="#a1b322" points="483.4,1204.6 476.2,1201.5 469.0,1198.3 461.8,1195.0 454.8,1191.6 433.8,1232.3 441.5,1236.0 449.2,1239.6 457.0,1243.1 464.9,1246.4"/>
<polygon fill="#a2b322" points="455.8,1192.2 449.1,1188.8 442.4,1185.3 435.7,1181.8 429.1,1178.1 405.8,1217.5 413.0,1221.5 420.3,1225.4 427.6,1229.2 434.9,1232.8"/>
<polygon fill="#a3b322" points="429.1,1178.1 422.2,1174.2 415.4,1170.2 408.7,1166.1 402.1,1161.8 376.9,1199.1 384.1,1203.7 391.4,1208.2 398.8,1212.6 406.2,1216.8"/>
<polygon fill="#a3b221" points="403.1,1162.5 396.5,1158.2 390.0,1153.8 383.5,1149.3 377.1,1144.7 349.8,1180.4 356.7,1185.4 363.8,1190.3 370.9,1195.1 378.0,1199.8"/>
<polygon fill="#a4b221" points="378.1,1145.4 371.7,1140.7 365.4,1135.9 359.2,1131.0 353.1,1126.1 323.8,1160.2 330.4,1165.6 337.2,1170.9 344.0,1176.1 350.9,1181.2"/>
<polygon fill="#a5b221" points="354.0,1126.8 348.2,1122.0 342.4,1117.0 336.7,1112.0 331.1,1106.9 299.9,1139.3 306.0,1144.9 312.2,1150.3 318.5,1155.7 324.8,1161.0"/>
<polygon fill="#a5b121" points="331.1,1106.9 325.3,1101.5 319.6,1096.0 314.0,1090.4 308.5,1084.7 276.2,1114.4 282.2,1120.6 288.3,1126.6 294.5,1132.6 300.7,1138.5"/>
<polygon fill="#a6b121" points="309.3,1085.6 303.9,1079.9 298.5,1074.0 293.2,1068.1 288.0,1062.1 254.1,1089.9 259.7,1096.4 265.4,1102.8 271.2,1109.1 277.1,1115.4"/>
<polygon fill="#a7b120" points="288.8,1063.1 283.7,1057.0 278.6,1050.9 273.7,1044.7 268.9,1038.4 233.4,1064.1 238.6,1070.9 244.0,1077.7 249.4,1084.3 255.0,1090.9"/>
<polygon fill="#a7b020" points="269.6,1039.3 265.0,1033.2 260.5,1027.1 256.1,1020.8 251.8,1014.5 215.0,1038.2 219.6,1045.1 224.4,1051.9 229.2,1058.6 234.2,1065.2"/>
<polygon fill="#a8b020" points="251.8,1014.5 247.4,1007.9 243.1,1001.2 238.9,994.4 234.8,987.6 197.3,1008.7 201.7,1016.1 206.2,1023.4 210.9,1030.7 215.6,1037.8"/>
<polygon fill="#a8af20" points="235.5,988.7 231.4,981.8 227.5,974.8 223.7,967.8 220.1,960.8 181.3,979.7 185.3,987.3 189.4,994.9 193.6,1002.4 198.0,1009.8"/>
<polygon fill="#a9af20" points="220.6,961.9 217.0,954.8 213.5,947.6 210.1,940.4 206.9,933.1 167.1,949.7 170.6,957.6 174.3,965.4 178.1,973.1 181.9,980.8"/>
<polygon fill="#a9ae20" points="207.3,934.2 204.3,927.2 201.3,920.1 198.5,913.0 195.7,905.8 155.1,920.2 158.1,927.9 161.1,935.6 164.3,943.3 167.6,950.9"/>
<polygon fill="#a9ad1f" points="195.7,905.8 192.9,898.3 190.3,890.8 187.8,883.2 185.3,875.6 138.8,888.9 141.4,897.2 144.2,905.5 147.1,913.8 150.1,921.9"/>
<polygon fill="#aaad1f" points="185.7,876.8 183.4,869.1 181.2,861.4 179.1,853.7 177.1,845.9 129.9,856.5 132.0,865.0 134.3,873.4 136.7,881.8 139.2,890.2"/>
<polygon fill="#aaac1f" points="177.4,847.1 175.5,839.3 173.8,831.5 172.1,823.7 170.6,815.8 122.9,823.7 124.5,832.2 126.3,840.8 128.2,849.3 130.2,857.8"/>
<polygon fill="#aaab1f" points="170.8,817.0 169.5,809.4 168.2,801.8 167.1,794.2 166.0,786.6 117.9,791.7 119.0,800.1 120.3,808.4 121.6,816.7 123.1,825.0"/>
<polygon fill="#abab1f" points="166.0,786.6 165.1,778.6 164.2,770.6 163.5,762.6 162.9,754.6 118.0,756.7 118.6,765.4 119.4,774.0 120.3,782.7 121.3,791.4"/>
<polygon fill="#abaa1f" points="163.0,755.8 162.5,747.8 162.1,739.8 161.9,731.7 161.8,723.7 116.8,723.2 116.9,731.9 117.2,740.6 117.6,749.3 118.1,758.0"/>
<polygon fill="#aba91e" points="161.8,724.9 161.7,716.9 161.8,708.8 162.1,700.8 162.4,692.7 117.5,689.6 117.1,698.3 116.9,707.0 116.8,715.8 116.8,724.5"/>
<polygon fill="#aca91e" points="162.3,694.0 162.8,686.2 163.3,678.5 163.9,670.8 164.7,663.1 120.1,657.4 119.2,665.8 118.5,674.2 117.9,682.5 117.5,690.9"/>
<polygon fill="#aca81e" points="164.7,663.1 165.6,655.1 166.6,647.1 167.8,639.1 169.1,631.1 117.4,621.4 116.0,630.1 114.7,638.9 113.5,647.7 112.5,656.5"/>
<polygon fill="#aca71e" points="168.9,632.3 170.2,624.4 171.7,616.4 173.3,608.5 175.1,600.6 124.1,587.9 122.1,596.6 120.3,605.2 118.7,614.0 117.2,622.7"/>
<polygon fill="#ada71e" points="174.8,601.8 176.6,594.0 178.6,586.1 180.7,578.3 182.9,570.5 132.7,554.8 130.2,563.4 127.9,572.0 125.8,580.6 123.7,589.2"/>
<polygon fill="#ada61e" points="182.5,571.7 184.7,564.2 187.0,556.8 189.5,549.4 192.0,542.0 142.8,523.6 140.0,531.7 137.3,539.8 134.7,547.9 132.3,556.1"/>
<polygon fill="#ada51d" points="192.0,542.0 194.7,534.4 197.6,526.8 200.6,519.3 203.7,511.8 160.2,492.4 156.8,500.6 153.5,508.8 150.4,517.0 147.4,525.3"/>
<polygon fill="#aea51d" points="203.2,512.9 206.4,505.5 209.7,498.1 213.1,490.7 216.6,483.4 174.3,461.5 170.5,469.5 166.7,477.5 163.1,485.5 159.6,493.7"/>
<polygon fill="#aea41d" points="216.1,484.5 219.7,477.2 223.4,470.0 227.3,462.9 231.2,455.7 190.3,431.4 185.9,439.2 181.8,447.0 177.7,454.8 173.7,462.7"/>
<polygon fill="#aea31d" points="230.6,456.8 234.5,450.1 238.5,443.3 242.6,436.6 246.8,430.0 207.2,403.5 202.6,410.7 198.2,417.9 193.8,425.2 189.6,432.6"/>
<polygon fill="#afa31d" points="246.8,430.0 251.2,423.2 255.8,416.5 260.4,409.8 265.2,403.2 229.7,376.1 224.6,383.3 219.5,390.5 214.6,397.8 209.7,405.2"/>
<polygon fill="#afa21d" points="264.5,404.2 269.3,397.6 274.2,391.1 279.3,384.7 284.4,378.4 250.6,349.3 245.0,356.2 239.6,363.1 234.2,370.1 228.9,377.2"/>
<polygon fill="#afa11c" points="283.6,379.4 288.9,373.1 294.2,366.9 299.6,360.8 305.1,354.8 273.0,323.8 267.1,330.3 261.2,336.9 255.4,343.6 249.8,350.4"/>
<polygon fill="#b0a11c" points="304.3,355.7 309.6,350.0 315.1,344.3 320.6,338.7 326.3,333.2 296.0,300.5 289.9,306.4 283.9,312.5 277.9,318.6 272.1,324.8"/>
<polygon fill="#b0a01c" points="326.3,333.2 332.2,327.6 338.2,322.1 344.3,316.6 350.5,311.2 323.5,278.2 316.8,284.0 310.2,289.9 303.7,295.8 297.3,301.9"/>
<polygon fill="#b09f1c" points="349.5,312.1 355.8,306.8 362.1,301.6 368.6,296.5 375.1,291.5 350.0,256.9 343.0,262.3 336.0,267.8 329.2,273.4 322.4,279.1"/>
<polygon fill="#b19e1b" points="374.0,292.3 380.6,287.3 387.2,282.5 394.0,277.8 400.7,273.2 377.7,237.2 370.4,242.2 363.1,247.3 356.0,252.5 348.9,257.8"/>
<polygon fill="#b19d1b" points="399.7,273.9 406.3,269.5 412.9,265.3 419.6,261.1 426.4,257.0 405.4,219.9 398.1,224.2 390.9,228.7 383.7,233.3 376.6,238.0"/>
<polygon fill="#b29c1b" points="426.4,257.0 433.5,252.9 440.7,248.9 447.9,244.9 455.2,241.1 438.7,207.2 430.9,211.3 423.1,215.5 415.5,219.8 407.9,224.2"/>
<polygon fill="#b29b1a" points="454.1,241.7 461.4,238.0 468.8,234.4 476.3,230.9 483.8,227.5 469.3,192.7 461.2,196.3 453.2,200.0 445.3,203.9 437.5,207.8"/>
<polygon fill="#b29a1a" points="482.6,228.0 490.2,224.8 497.8,221.6 505.4,218.5 513.1,215.6 500.7,180.0 492.4,183.1 484.2,186.4 476.1,189.7 468.0,193.3"/>
<polygon fill="#b3991a" points="512.0,216.0 519.4,213.3 526.9,210.7 534.4,208.1 542.0,205.7 531.5,169.5 523.4,172.1 515.4,174.7 507.4,177.5 499.4,180.4"/>
<polygon fill="#b39819" points="542.0,205.7 549.9,203.3 557.8,201.1 565.8,198.9 573.8,196.9 565.5,159.7 556.9,161.9 548.4,164.2 539.9,166.6 531.4,169.1"/>
<polygon fill="#b49719" points="572.6,197.2 580.6,195.3 588.7,193.4 596.8,191.8 604.9,190.2 598.7,152.6 590.0,154.3 581.4,156.0 572.7,158.0 564.1,160.0"/>
<polygon fill="#b49619" points="603.7,190.4 611.8,189.0 620.0,187.6 628.2,186.4 636.4,185.3 632.4,147.4 623.6,148.6 614.9,149.9 606.1,151.3 597.4,152.8"/>
<polygon fill="#b59518" points="635.1,185.5 643.0,184.5 650.9,183.7 658.9,183.0 666.8,182.4 665.0,144.3 656.5,144.9 648.0,145.7 639.5,146.6 631.0,147.6"/>
<polygon fill="#b59418" points="666.8,182.4 675.1,181.9 683.4,181.5 691.7,181.2 700.0,181.1 700.4,148.0 691.6,148.1 682.8,148.3 674.0,148.7 665.2,149.3"/>
<polygon fill="#b59318" points="698.7,181.1 707.0,181.1 715.3,181.2 723.7,181.4 732.0,181.8 734.3,148.7 725.5,148.3 716.7,148.1 707.9,148.0 699.0,148.0"/>
<polygon fill="#b59118" points="730.7,181.7 739.0,182.2 747.3,182.8 755.6,183.5 763.9,184.3 768.1,151.4 759.3,150.5 750.5,149.8 741.7,149.1 732.9,148.6"/>
<polygon fill="#b59017" points="762.6,184.2 770.5,185.1 778.5,186.1 786.4,187.2 794.3,188.5 800.4,155.9 792.0,154.6 783.6,153.3 775.2,152.3 766.7,151.3"/>
<polygon fill="#b58e17" points="794.3,188.5 802.5,189.9 810.7,191.5 818.9,193.1 827.0,194.9 834.6,164.6 826.0,162.7 817.4,160.9 808.7,159.3 800.0,157.8"/>
<polygon fill="#b68d17" points="825.8,194.7 833.9,196.6 842.0,198.6 850.1,200.7 858.1,203.0 867.4,173.2 858.9,170.8 850.4,168.5 841.9,166.3 833.3,164.3"/>
<polygon fill="#b68b17" points="856.9,202.6 864.9,205.0 872.9,207.5 880.8,210.1 888.7,212.9 899.7,183.6 891.4,180.7 883.0,178.0 874.6,175.3 866.1,172.8"/>
<polygon fill="#b68a16" points="887.5,212.4 895.0,215.2 902.6,218.0 910.1,221.0 917.5,224.0 930.2,195.4 922.3,192.2 914.4,189.1 906.4,186.1 898.5,183.2"/>
<polygon fill="#b68816" points="917.5,224.0 925.2,227.3 932.9,230.7 940.4,234.3 948.0,237.9 962.5,209.8 954.6,205.9 946.5,202.2 938.4,198.6 930.3,195.1"/>
<polygon fill="#b68716" points="946.8,237.3 954.3,241.1 961.8,244.9 969.2,248.9 976.5,253.0 992.6,225.8 984.9,221.5 977.1,217.3 969.2,213.2 961.3,209.2"/>
<polygon fill="#b68516" points="975.4,252.4 982.7,256.5 989.9,260.8 997.0,265.2 1004.1,269.7 1021.8,243.5 1014.3,238.7 1006.8,234.1 999.1,229.5 991.5,225.1"/>
<polygon fill="#b68415" points="1003.0,269.0 1009.8,273.4 1016.5,278.0 1023.1,282.6 1029.7,287.3 1048.8,262.1 1041.9,257.1 1034.9,252.2 1027.8,247.4 1020.7,242.8"/>
<polygon fill="#b68215" points="1029.7,287.3 1036.5,292.3 1043.1,297.4 1049.7,302.6 1056.3,307.9 1081.1,279.0 1074.1,273.3 1067.1,267.8 1060.0,262.3 1052.7,256.9"/>
<polygon fill="#b78115" points="1055.3,307.1 1061.7,312.5 1068.1,318.0 1074.4,323.6 1080.6,329.3 1107.1,301.9 1100.5,295.8 1093.8,289.8 1087.0,283.9 1080.1,278.1"/>
<polygon fill="#b77f15" points="1079.7,328.4 1085.8,334.2 1091.9,340.0 1097.9,346.0 1103.8,352.0 1131.8,326.2 1125.5,319.7 1119.1,313.4 1112.7,307.1 1106.1,300.9"/>
<polygon fill="#b77e14" points="1102.9,351.1 1108.4,357.0 1113.9,363.0 1119.4,369.0 1124.7,375.1 1154.1,350.9 1148.4,344.4 1142.7,337.9 1136.8,331.5 1130.8,325.2"/>
<polygon fill="#b77c14" points="1124.7,375.1 1130.1,381.6 1135.5,388.1 1140.7,394.8 1145.9,401.5 1177.7,378.4 1172.1,371.2 1166.5,364.1 1160.8,357.1 1155.0,350.2"/>
<polygon fill="#b77b14" points="1145.1,400.4 1150.2,407.2 1155.1,414.1 1160.0,421.0 1164.8,428.0 1197.8,406.8 1192.7,399.3 1187.5,391.9 1182.2,384.6 1176.8,377.3"/>
<polygon fill="#b77914" points="1164.0,426.9 1168.7,434.0 1173.3,441.1 1177.7,448.3 1182.1,455.6 1216.3,436.4 1211.7,428.6 1206.9,420.9 1202.0,413.2 1197.0,405.7"/>
<polygon fill="#b77813" points="1181.4,454.5 1185.5,461.5 1189.5,468.6 1193.4,475.8 1197.2,483.0 1232.4,465.7 1228.4,458.0 1224.2,450.3 1220.0,442.7 1215.6,435.2"/>
<polygon fill="#b77613" points="1197.2,483.0 1201.0,490.6 1204.7,498.2 1208.3,505.9 1211.8,513.7 1248.0,498.6 1244.3,490.3 1240.5,482.0 1236.5,473.9 1232.4,465.7"/>
<polygon fill="#b87513" points="1211.3,512.5 1214.7,520.3 1217.9,528.1 1221.1,536.0 1224.1,544.0 1261.1,531.0 1257.9,522.5 1254.6,514.0 1251.1,505.6 1247.5,497.3"/>
<polygon fill="#b87313" points="1223.6,542.7 1226.6,550.7 1229.4,558.8 1232.1,566.8 1234.6,575.0 1272.4,564.2 1269.6,555.5 1266.8,546.8 1263.8,538.2 1260.7,529.7"/>
<polygon fill="#b87212" points="1234.2,573.7 1236.6,581.6 1238.9,589.4 1241.0,597.3 1243.0,605.3 1281.3,596.6 1279.2,588.1 1276.9,579.6 1274.5,571.2 1272.0,562.8"/>
<polygon fill="#b87012" points="1243.0,605.3 1245.0,613.6 1246.9,621.9 1248.6,630.2 1250.2,638.6 1291.6,631.8 1289.9,622.8 1288.0,613.9 1286.0,604.9 1283.9,596.0"/>
<polygon fill="#b86f12" points="1250.0,637.3 1251.5,645.7 1252.9,654.2 1254.1,662.6 1255.2,671.1 1296.9,666.7 1295.7,657.6 1294.4,648.5 1292.9,639.5 1291.3,630.5"/>
<polygon fill="#b86e12" points="1255.1,669.8 1256.1,678.3 1257.0,686.8 1257.7,695.3 1258.3,703.8 1300.2,701.9 1299.6,692.7 1298.8,683.6 1297.8,674.4 1296.7,665.3"/>
<polygon fill="#b86d12" points="1258.3,702.5 1258.7,710.7 1259.1,718.9 1259.4,727.2 1259.5,735.4 1301.4,735.8 1301.3,727.0 1301.0,718.1 1300.6,709.3 1300.1,700.5"/>
<polygon fill="#b86c12" points="1259.5,735.4 1259.5,744.0 1259.4,752.5 1259.2,761.1 1258.8,769.7 1301.4,772.6 1301.8,763.4 1302.1,754.2 1302.2,745.0 1302.2,735.8"/>
<polygon fill="#b86b12" points="1258.9,768.3 1258.4,776.9 1257.8,785.5 1257.1,794.0 1256.2,802.5 1298.5,808.0 1299.5,798.8 1300.3,789.6 1300.9,780.4 1301.5,771.2"/>
<polygon fill="#b86912" points="1256.3,801.2 1255.4,809.8 1254.2,818.3 1253.0,826.8 1251.6,835.3 1293.6,843.2 1295.1,834.0 1296.4,824.9 1297.6,815.8 1298.7,806.6"/>
<polygon fill="#b96811" points="1251.9,834.0 1250.5,842.1 1248.9,850.2 1247.3,858.3 1245.5,866.4 1286.9,876.6 1288.8,868.0 1290.6,859.2 1292.3,850.5 1293.8,841.8"/>
<polygon fill="#b96711" points="1245.5,866.4 1243.5,874.8 1241.4,883.1 1239.2,891.4 1236.9,899.7 1274.0,911.3 1276.5,902.5 1278.9,893.6 1281.1,884.7 1283.2,875.7"/>
<polygon fill="#b96611" points="1237.2,898.4 1234.8,906.7 1232.2,914.9 1229.5,923.1 1226.7,931.3 1263.0,945.0 1266.1,936.3 1269.0,927.5 1271.7,918.8 1274.4,910.0"/>
<polygon fill="#b96511" points="1227.1,930.0 1224.2,938.1 1221.1,946.2 1217.9,954.2 1214.6,962.2 1250.2,978.0 1253.7,969.5 1257.1,960.9 1260.4,952.3 1263.5,943.6"/>
<polygon fill="#b96411" points="1215.2,960.9 1211.9,968.6 1208.5,976.2 1205.0,983.7 1201.4,991.2 1236.0,1009.0 1239.8,1001.0 1243.6,992.9 1247.2,984.8 1250.7,976.7"/>
<polygon fill="#b96311" points="1201.4,991.2 1197.6,998.9 1193.6,1006.6 1189.5,1014.2 1185.3,1021.8 1218.0,1041.2 1222.5,1033.1 1226.9,1025.0 1231.2,1016.8 1235.3,1008.6"/>
<polygon fill="#b96211" points="1185.9,1020.6 1181.6,1028.1 1177.2,1035.5 1172.6,1042.9 1168.0,1050.2 1199.6,1071.5 1204.6,1063.7 1209.4,1055.9 1214.1,1048.0 1218.7,1040.0"/>
<polygon fill="#b96011" points="1168.7,1049.1 1164.0,1056.3 1159.1,1063.5 1154.2,1070.6 1149.1,1077.6 1179.4,1100.8 1184.8,1093.3 1190.1,1085.7 1195.3,1078.1 1200.4,1070.3"/>
<polygon fill="#b95f11" points="1149.9,1076.6 1144.9,1083.3 1139.8,1089.9 1134.7,1096.4 1129.4,1102.9 1158.4,1127.7 1164.0,1120.8 1169.5,1113.8 1174.9,1106.7 1180.2,1099.6"/>
<polygon fill="#b95e11" points="1129.4,1102.9 1123.9,1109.6 1118.2,1116.2 1112.4,1122.7 1106.6,1129.1 1136.2,1157.7 1142.5,1150.8 1148.6,1143.9 1154.7,1136.8 1160.7,1129.7"/>
<polygon fill="#b95d11" points="1107.5,1128.1 1101.5,1134.4 1095.5,1140.7 1089.3,1146.8 1083.1,1152.9 1111.0,1183.1 1117.7,1176.7 1124.3,1170.1 1130.7,1163.4 1137.1,1156.6"/>
<polygon fill="#b95c11" points="1084.0,1151.9 1077.7,1157.9 1071.3,1163.8 1064.8,1169.6 1058.2,1175.3 1084.3,1207.1 1091.4,1201.0 1098.4,1194.9 1105.2,1188.6 1112.0,1182.2"/>
<polygon fill="#ba5b10" points="1059.3,1174.4 1052.9,1179.8 1046.4,1185.1 1039.8,1190.3 1033.2,1195.5 1057.4,1228.7 1064.6,1223.2 1071.6,1217.7 1078.5,1212.0 1085.4,1206.2"/>
<polygon fill="#ba5a10" points="1033.2,1195.5 1026.2,1200.7 1019.1,1205.8 1012.0,1210.8 1004.8,1215.7 1024.3,1246.2 1032.0,1241.0 1039.6,1235.7 1047.1,1230.2 1054.5,1224.7"/>
<polygon fill="#ba5910" points="1005.9,1215.0 998.6,1219.8 991.2,1224.5 983.8,1229.1 976.3,1233.5 994.0,1265.1 1002.0,1260.3 1009.9,1255.5 1017.7,1250.5 1025.5,1245.4"/>
<polygon fill="#ba5710" points="977.5,1232.8 969.9,1237.2 962.3,1241.5 954.6,1245.7 946.8,1249.7 962.7,1282.2 970.9,1278.0 979.1,1273.6 987.2,1269.0 995.3,1264.4"/>
<polygon fill="#ba5610" points="948.0,1249.1 940.5,1252.9 932.9,1256.6 925.3,1260.1 917.7,1263.6 931.7,1297.0 939.8,1293.3 947.9,1289.5 956.0,1285.6 964.0,1281.6"/>
<polygon fill="#ba5510" points="917.7,1263.6 909.6,1267.1 901.5,1270.4 893.4,1273.7 885.2,1276.8 896.5,1309.2 905.2,1305.9 913.9,1302.4 922.4,1298.9 930.9,1295.2"/>
<polygon fill="#ba5410" points="886.5,1276.3 878.2,1279.3 870.0,1282.2 861.6,1285.0 853.3,1287.6 862.7,1320.6 871.6,1317.8 880.4,1314.9 889.2,1311.8 897.9,1308.7"/>
<polygon fill="#ba5310" points="854.5,1287.2 846.1,1289.8 837.7,1292.2 829.2,1294.4 820.7,1296.6 828.2,1330.1 837.2,1327.8 846.2,1325.4 855.2,1322.8 864.1,1320.2"/>
<polygon fill="#ba5210" points="822.0,1296.3 813.8,1298.2 805.6,1300.1 797.3,1301.8 789.0,1303.4 794.6,1337.2 803.4,1335.5 812.2,1333.7 820.9,1331.8 829.6,1329.7"/>
<polygon fill="#bb510f" points="789.0,1303.4 780.3,1304.9 771.6,1306.4 762.9,1307.6 754.2,1308.8 757.5,1340.2 766.7,1339.0 775.9,1337.7 785.0,1336.2 794.2,1334.6"/>
<polygon fill="#bb500f" points="755.5,1308.6 746.8,1309.7 738.0,1310.6 729.3,1311.3 720.5,1312.0 721.9,1343.6 731.2,1342.9 740.5,1342.1 749.7,1341.2 758.9,1340.1"/>
<polygon fill="#bb4f0f" points="721.8,1311.9 713.0,1312.4 704.2,1312.8 695.4,1313.1 686.6,1313.2 686.2,1344.8 695.5,1344.7 704.8,1344.4 714.1,1344.0 723.4,1343.5"/>
<polygon fill="#bb4e0f" points="687.9,1313.2 679.5,1313.2 671.0,1313.1 662.5,1312.9 654.0,1312.5 651.9,1344.1 660.8,1344.4 669.7,1344.7 678.7,1344.8 687.6,1344.8"/>
<polygon fill="#bb4d0f" points="654.0,1312.5 645.2,1312.0 636.4,1311.4 627.6,1310.6 618.8,1309.7 615.0,1338.8 624.2,1339.8 633.5,1340.6 642.7,1341.2 652.0,1341.8"/>
<polygon fill="#bb4b0f" points="620.1,1309.8 611.3,1308.8 602.6,1307.7 593.8,1306.4 585.1,1305.0 579.6,1333.8 588.8,1335.3 598.0,1336.7 607.2,1337.9 616.4,1339.0"/>
<polygon fill="#bc4a0e" points="586.4,1305.2 577.7,1303.7 569.0,1302.0 560.3,1300.3 551.7,1298.3 544.6,1326.8 553.6,1328.8 562.7,1330.7 571.9,1332.5 581.0,1334.1"/>
<polygon fill="#bc490e" points="553.0,1298.6 544.7,1296.7 536.4,1294.6 528.2,1292.4 520.0,1290.1 511.3,1318.1 519.9,1320.6 528.6,1322.9 537.2,1325.1 546.0,1327.1"/>
<polygon fill="#bc480e" points="520.0,1290.1 511.5,1287.6 503.0,1284.9 494.6,1282.1 486.2,1279.2 476.6,1304.5 485.4,1307.6 494.2,1310.5 503.1,1313.3 512.0,1316.0"/>
<polygon fill="#bc470e" points="487.5,1279.7 479.1,1276.6 470.8,1273.5 462.6,1270.2 454.3,1266.8 443.3,1291.5 451.9,1295.1 460.6,1298.5 469.2,1301.8 478.0,1305.0"/>
<polygon fill="#bc450e" points="455.6,1267.3 447.4,1263.8 439.3,1260.2 431.3,1256.4 423.2,1252.6 410.8,1276.6 419.2,1280.7 427.6,1284.6 436.1,1288.4 444.7,1292.1"/>
<polygon fill="#bc440e" points="424.5,1253.2 416.8,1249.3 409.2,1245.4 401.7,1241.4 394.2,1237.2 380.4,1260.5 388.3,1264.9 396.2,1269.1 404.1,1273.2 412.1,1277.2"/>
<polygon fill="#bd420d" points="394.2,1237.2 386.5,1232.7 378.8,1228.2 371.2,1223.5 363.7,1218.7 349.0,1240.5 356.8,1245.5 364.8,1250.4 372.8,1255.2 380.8,1259.8"/>
<polygon fill="#bd400d" points="364.9,1219.5 357.4,1214.6 350.0,1209.6 342.7,1204.4 335.5,1199.2 319.5,1220.1 327.1,1225.6 334.7,1230.9 342.4,1236.2 350.2,1241.3"/>
<polygon fill="#bd3f0d" points="336.6,1200.0 329.4,1194.7 322.3,1189.3 315.3,1183.7 308.4,1178.1 291.2,1198.0 298.5,1203.9 305.8,1209.7 313.2,1215.4 320.7,1221.0"/>
<polygon fill="#bd3d0d" points="309.4,1179.0 302.8,1173.4 296.3,1167.8 289.9,1162.1 283.5,1156.3 265.3,1175.3 271.9,1181.3 278.6,1187.3 285.4,1193.2 292.3,1198.9"/>
<polygon fill="#bd3c0d" points="283.5,1156.3 277.0,1150.2 270.6,1144.0 264.3,1137.6 258.0,1131.2 237.6,1150.1 244.1,1156.8 250.7,1163.4 257.4,1170.0 264.2,1176.4"/>
<polygon fill="#bd3a0d" points="259.0,1132.2 252.8,1125.7 246.8,1119.1 240.8,1112.4 234.9,1105.6 213.4,1123.2 219.5,1130.3 225.8,1137.4 232.1,1144.3 238.6,1151.1"/>
<polygon fill="#be380c" points="235.8,1106.7 230.1,1099.8 224.4,1092.8 218.8,1085.8 213.4,1078.7 190.8,1095.0 196.6,1102.5 202.4,1109.9 208.3,1117.1 214.3,1124.3"/>
<polygon fill="#be370c" points="214.2,1079.8 209.0,1072.9 204.0,1065.9 199.0,1058.8 194.1,1051.7 170.7,1066.7 175.8,1074.2 181.0,1081.6 186.3,1088.9 191.7,1096.2"/>
<polygon fill="#be350c" points="194.1,1051.7 189.2,1044.2 184.3,1036.6 179.6,1028.9 175.0,1021.2 151.8,1034.3 156.6,1042.3 161.5,1050.3 166.5,1058.3 171.7,1066.1"/>
<polygon fill="#be340c" points="175.7,1022.4 171.2,1014.6 166.8,1006.8 162.5,998.8 158.4,990.8 134.4,1002.5 138.7,1010.9 143.2,1019.2 147.8,1027.4 152.5,1035.5"/>
<polygon fill="#be330c" points="159.0,992.1 155.0,984.0 151.0,975.9 147.2,967.8 143.5,959.5 118.9,969.8 122.8,978.4 126.7,986.9 130.8,995.4 135.1,1003.8"/>
<polygon fill="#be310c" points="144.1,960.8 140.7,952.8 137.3,944.8 134.1,936.8 131.0,928.7 105.9,937.6 109.1,946.0 112.4,954.4 115.9,962.8 119.5,971.1"/>
<polygon fill="#bf300b" points="131.0,928.7 127.9,920.2 124.9,911.7 122.1,903.1 119.4,894.5 95.6,901.3 98.4,910.3 101.3,919.2 104.4,928.1 107.7,936.9"/>
<polygon fill="#bf2f0b" points="119.8,895.8 117.2,887.2 114.7,878.5 112.4,869.7 110.2,861.0 86.0,866.4 88.3,875.5 90.7,884.6 93.3,893.7 96.0,902.7"/>
<polygon fill="#bf2d0b" points="110.5,862.3 108.4,853.5 106.5,844.7 104.6,835.8 102.9,826.9 78.5,830.9 80.2,840.2 82.1,849.4 84.2,858.6 86.4,867.8"/>
<polygon fill="#bf2c0b" points="103.2,828.3 101.7,819.7 100.3,811.1 99.0,802.5 97.8,793.9 73.2,796.5 74.4,805.5 75.7,814.5 77.2,823.4 78.7,832.4"/>
<polygon fill="#bf2b0b" points="97.8,793.9 96.8,784.9 95.8,775.9 95.1,766.8 94.4,757.8 67.7,759.0 68.4,768.5 69.2,777.9 70.2,787.3 71.3,796.7"/>
<polygon fill="#bf290b" points="94.5,759.2 94.0,750.1 93.6,741.0 93.3,732.0 93.2,722.9 66.5,722.6 66.6,732.0 66.9,741.5 67.3,751.0 67.8,760.5"/>
<polygon fill="#c0280a" points="93.2,724.3 93.2,715.2 93.3,706.1 93.6,697.0 94.0,687.9 67.3,686.1 66.9,695.6 66.6,705.0 66.5,714.5 66.5,724.0"/>
<polygon fill="#c0270a" points="93.9,689.3 94.4,680.6 95.0,671.9 95.8,663.2 96.6,654.5 70.2,651.1 69.2,660.2 68.5,669.3 67.8,678.4 67.3,687.5"/>
<polygon fill="#c0250a" points="96.6,654.5 97.7,645.4 98.9,636.4 100.2,627.4 101.6,618.4 78.8,614.1 77.3,623.4 75.9,632.8 74.7,642.2 73.6,651.5"/>
<polygon fill="#c0240a" points="101.4,619.8 103.0,610.8 104.7,601.8 106.5,592.9 108.5,584.0 86.0,578.4 83.9,587.6 82.0,596.9 80.2,606.2 78.6,615.5"/>
<polygon fill="#c0230a" points="108.2,585.4 110.3,576.5 112.5,567.6 114.9,558.8 117.4,550.1 95.2,543.1 92.6,552.2 90.1,561.4 87.8,570.6 85.6,579.8"/>
<polygon fill="#c0220a" points="117.0,551.4 119.5,543.0 122.1,534.6 124.9,526.3 127.8,518.0 106.0,509.8 103.0,518.4 100.1,527.1 97.4,535.8 94.8,544.5"/>
<polygon fill="#c0210a" points="127.8,518.0 130.9,509.4 134.1,500.8 137.5,492.3 141.0,483.9 121.2,475.0 117.5,483.8 114.0,492.6 110.7,501.4 107.4,510.3"/>
<polygon fill="#c0200a" points="140.5,485.2 144.1,476.8 147.8,468.4 151.7,460.1 155.7,451.9 136.4,441.9 132.3,450.4 128.2,459.0 124.4,467.7 120.6,476.4"/>
<polygon fill="#c01f0a" points="155.1,453.1 159.2,444.9 163.4,436.8 167.8,428.7 172.2,420.7 153.6,409.7 148.9,417.9 144.4,426.3 140.0,434.7 135.8,443.2"/>
<polygon fill="#c01e09" points="171.5,422.0 175.9,414.3 180.5,406.8 185.1,399.2 189.8,391.8 171.8,379.7 166.9,387.4 162.1,395.2 157.4,403.0 152.8,410.9"/>
<polygon fill="#c01d09" points="189.8,391.8 194.8,384.1 200.0,376.5 205.3,369.0 210.7,361.6 193.1,348.1 187.5,355.9 182.0,363.6 176.7,371.5 171.5,379.5"/>
<polygon fill="#c01c09" points="209.8,362.7 215.3,355.3 220.9,348.0 226.6,340.8 232.4,333.7 215.6,319.3 209.6,326.7 203.7,334.1 197.9,341.7 192.2,349.3"/>
<polygon fill="#c01b09" points="231.5,334.8 237.4,327.7 243.4,320.8 249.6,313.9 255.8,307.1 239.9,291.7 233.4,298.8 227.1,305.9 220.8,313.1 214.7,320.4"/>
<polygon fill="#c01a09" points="254.8,308.1 260.9,301.7 267.0,295.3 273.3,289.1 279.7,282.9 264.6,266.7 258.1,273.1 251.6,279.6 245.2,286.1 238.9,292.8"/>
<polygon fill="#c01909" points="279.7,282.9 286.4,276.6 293.2,270.3 300.0,264.2 307.0,258.2 292.5,240.5 285.3,246.7 278.1,253.1 271.1,259.5 264.1,266.1"/>
<polygon fill="#c01809" points="305.9,259.1 313.0,253.1 320.2,247.3 327.4,241.6 334.7,236.0 321.3,217.5 313.7,223.3 306.2,229.2 298.7,235.3 291.4,241.4"/>
<polygon fill="#c01709" points="333.6,236.8 341.0,231.3 348.5,225.9 356.1,220.6 363.7,215.4 351.4,196.2 343.5,201.5 335.6,207.0 327.8,212.6 320.1,218.4"/>
<polygon fill="#c01609" points="362.6,216.2 370.0,211.3 377.5,206.5 385.0,201.9 392.7,197.3 381.4,177.4 373.5,182.1 365.7,187.0 357.9,191.9 350.2,197.0"/>
<polygon fill="#c01509" points="392.7,197.3 400.7,192.6 408.8,188.1 416.9,183.7 425.1,179.5 415.6,159.9 407.1,164.4 398.7,168.9 390.3,173.6 382.0,178.4"/>
<polygon fill="#c01309" points="423.9,180.1 432.2,176.0 440.5,171.9 448.9,168.0 457.4,164.2 449.0,144.2 440.2,148.1 431.5,152.1 422.9,156.3 414.3,160.6"/>
<polygon fill="#c01209" points="456.1,164.8 464.6,161.1 473.1,157.6 481.8,154.1 490.5,150.8 483.3,130.3 474.3,133.7 465.3,137.3 456.5,141.0 447.6,144.8"/>
<polygon fill="#c01108" points="489.1,151.3 497.5,148.3 505.9,145.3 514.4,142.5 522.9,139.8 516.9,119.0 508.1,121.7 499.3,124.7 490.6,127.7 481.9,130.9"/>
<polygon fill="#c01008" points="522.9,139.8 531.8,137.2 540.8,134.6 549.8,132.2 558.8,129.9 553.9,108.4 544.6,110.7 535.3,113.2 526.0,115.8 516.8,118.6"/>
<polygon fill="#c00f08" points="557.4,130.3 566.4,128.1 575.5,126.1 584.6,124.2 593.8,122.5 590.2,100.7 580.7,102.5 571.3,104.4 561.9,106.5 552.5,108.7"/>
<polygon fill="#c00e08" points="592.4,122.8 601.6,121.1 610.8,119.7 620.0,118.3 629.2,117.1 626.9,95.1 617.3,96.4 607.8,97.8 598.3,99.3 588.8,101.0"/>
<polygon fill="#c00d08" points="627.8,117.3 636.7,116.2 645.6,115.3 654.6,114.5 663.5,113.9 662.4,91.8 653.2,92.5 643.9,93.3 634.7,94.2 625.4,95.3"/>
<polygon fill="#c00d08" points="663.5,113.9 664.4,113.8 663.0,85.3 662.1,85.3"/>
</g>
<g fill="none" stroke="#a8a8a8" stroke-width="1" shape-rendering="crispEdges">
<polyline points="550.1,476.0 555.9,472.5 561.8,469.2 567.8,466.0 573.9,462.9 580.0,459.9 586.3,457.1 592.6,454.5 598.9,452.0 605.3,449.6 611.8,447.4 618.3,445.3 624.9,443.4 631.6,441.6 638.2,440.0 645.0,438.5 651.7,437.2 658.5,436.1 665.3,435.1 672.2,434.3 679.1,433.6 686.0,433.1 692.9,432.8 699.8,432.6 706.7,432.5 713.6,432.7 720.6,433.0 727.5,433.4 734.4,434.1 741.4,434.8 748.3,435.8 755.1,436.9 762.0,438.1 768.8,439.6 775.6,441.2 782.4,442.9 789.2,444.8 795.8,446.9 802.5,449.1 809.1,451.5 815.7,454.0 822.2,456.7 828.6,459.5 835.0,462.5 841.3,465.7 847.5,469.0 853.7,472.4 859.8,476.0 865.8,479.7 871.7,483.6 877.5,487.6 883.3,491.7 888.9,496.0 894.5,500.4 900.0,505.0 905.3,509.7 910.6,514.5 915.7,519.4 920.7,524.5 925.6,529.7 930.4,534.9 935.1,540.4 939.7,545.9 944.1,551.5 948.4,557.2 952.5,563.1 956.6,569.0 960.5,575.1 964.2,581.2 967.8,587.4 971.3,593.7 974.6,600.1 977.8,606.6 980.8,613.1 983.7,619.8 986.5,626.5 989.0,633.2 991.4,640.1 993.7,647.0 995.8,653.9 997.7,660.9 999.5,667.9 1001.1,675.0 1002.6,682.2 1003.8,689.3 1005.0,696.5 1005.9,703.8 1006.7,711.0 1007.3,718.3 1007.7,725.6 1008.0,732.9 1008.1,740.3 1008.0,747.6 1007.8,754.9 1007.4,762.3 1006.8,769.6 1006.0,776.9 1005.1,784.2 1004.0,791.5 1002.8,798.7 1001.3,806.0 999.7,813.2 997.9,820.4 996.0,827.5 993.9,834.6 991.6,841.7 989.2,848.7 986.6,855.6 983.8,862.5 980.9,869.3 977.8,876.1 974.5,882.8 971.1,889.4 967.5,895.9 963.8,902.4 959.9,908.8 955.9,915.1 951.7,921.3 947.4,927.4 943.0,933.4 938.3,939.3 933.6,945.2 928.7,950.9 923.7,956.4 918.5,961.9 913.3,967.3 907.8,972.5 902.3,977.6 896.6,982.6 890.9,987.5 885.0,992.2 879.0,996.8 872.8,1001.3 866.6,1005.6 860.3,1009.7 853.9,1013.8 847.3,1017.7 840.7,1021.4 834.0,1025.0 827.2,1028.4 820.3,1031.6 813.4,1034.7 806.3,1037.7 799.2,1040.5 792.1,1043.1 784.8,1045.5 777.5,1047.8 770.2,1049.9 762.7,1051.9 755.3,1053.7 747.8,1055.3 740.2,1056.7 732.6,1057.9 725.0,1059.0 717.4,1059.9 709.7,1060.6 702.0,1061.2 694.3,1061.5 686.6,1061.7 678.9,1061.7 671.1,1061.5 663.4,1061.2 655.7,1060.7 648.0,1059.9 640.3,1059.0 632.6,1058.0 624.9,1056.7 617.3,1055.3 609.7,1053.6 602.1,1051.9 594.5,1049.9 587.0,1047.7 579.6,1045.4 572.2,1042.9 564.8,1040.2 557.6,1037.4 550.3,1034.4 543.2,1031.2 536.1,1027.8 529.1,1024.3 522.1,1020.6 515.3,1016.8 508.5,1012.8 501.9,1008.6 495.3,1004.3 488.8,999.8 482.4,995.2 476.1,990.4 470.0,985.4 463.9,980.3 458.0,975.1 452.2,969.8 446.5,964.2 440.9,958.6 435.5,952.8 430.1,946.9 425.0,940.9 419.9,934.7 415.0,928.5 410.3,922.1 405.7,915.6 401.2,909.0 396.9,902.2 392.8,895.4 388.8,888.5 384.9,881.5 381.3,874.4 377.8,867.2 374.4,859.9 371.2,852.5 368.2,845.1 365.4,837.5 362.8,829.9 360.3,822.3 358.0,814.6 355.9,806.8 353.9,799.0 352.1,791.1 350.6,783.2 349.2,775.2 348.0,767.2 346.9,759.2 346.1,751.1 345.4,743.1 345.0,735.0 344.7,726.9 344.6,718.7 344.7,710.6 345.0,702.5 345.5,694.3 346.2,686.2 347.0,678.1 348.1,670.0 349.3,662.0 350.7,653.9 352.4,645.9 354.2,637.9 356.2,630.0 358.3,622.1 360.7,614.2 363.2,606.4 366.0,598.7 368.9,591.0 372.0,583.4 375.2,575.8 378.7,568.3 382.3,560.9 386.1,553.6 390.1,546.4 394.2,539.2 398.5,532.2 403.0,525.2 407.6,518.4 412.4,511.6 417.4,505.0 422.5,498.5 427.8,492.0 433.2,485.7 438.8,479.6 444.5,473.5 450.4,467.6 456.4,461.9 462.5,456.2 468.8,450.7 475.2,445.4 481.7,440.2 488.4,435.1 495.1,430.2 502.0,425.4 509.0,420.9 516.2,416.4 523.4,412.2 530.7,408.1 538.1,404.1 545.7,400.4 553.3,396.8 561.0,393.4 568.8,390.1 576.6,387.1 584.5,384.2 592.5,381.5 600.6,379.0 608.7,376.7 616.9,374.6 625.2,372.7 633.5,370.9 641.8,369.4 650.2,368.0 658.6,366.9 667.0,365.9 675.5,365.1 684.0,364.5 692.5,364.2 701.0,364.0 709.5,364.0 718.1,364.2 726.6,364.6 735.1,365.3 743.6,366.1 752.1,367.1 760.6,368.3 769.0,369.7 777.5,371.3 785.8,373.1 794.2,375.1 802.5,377.3 810.8,379.7 819.0,382.3 827.1,385.1 835.2,388.0 843.2,391.2 851.2,394.5 859.0,398.1 866.8,401.8 874.5,405.7 882.2,409.8 889.7,414.0 897.1,418.5 904.5,423.1 911.7,427.9 918.8,432.8 925.8,437.9 932.7,443.2 939.5,448.7 946.2,454.3 952.7,460.1 959.1,466.0 965.3,472.1 971.5,478.3 977.4,484.7 983.3,491.2 988.9,497.8 994.5,504.6 999.8,511.5 1005.0,518.6 1010.1,525.7 1015.0,533.0 1019.7,540.4 1024.2,547.9 1028.6,555.6 1032.8,563.3 1036.8,571.1 1040.6,579.1 1044.3,587.1 1047.8,595.2 1051.0,603.4 1054.1,611.7 1057.0,620.0 1059.7,628.4 1062.3,636.9 1064.6,645.5 1066.7,654.1 1068.6,662.7 1070.3,671.4 1071.8,680.2 1073.1,689.0 1074.2,697.8 1075.1,706.7 1075.8,715.5 1076.3,724.4 1076.6,733.3 1076.7,742.3 1076.5,751.2 1076.2,760.1 1075.6,769.0 1074.9,777.9 1073.9,786.8 1072.7,795.7 1071.4,804.6 1069.8,813.4 1068.0,822.2 1066.0,831.0 1063.8,839.7 1061.4,848.3 1058.7,856.9 1055.9,865.5 1052.9,874.0 1049.7,882.4 1046.3,890.8 1042.7,899.0 1038.9,907.2 1034.9,915.3 1030.7,923.4 1026.3,931.3 1021.8,939.1 1017.0,946.8 1012.1,954.4 1007.0,961.9 1001.7,969.3 996.3,976.6 990.6,983.7 984.8,990.8 978.9,997.6 972.8,1004.4 966.5,1011.0 960.0,1017.4 953.4,1023.8 946.7,1029.9 939.8,1035.9 932.8,1041.8 925.6,1047.5 918.3,1053.0 910.9,1058.3 903.3,1063.5 895.6,1068.5 887.8,1073.4 879.9,1078.0 871.9,1082.5 863.7,1086.8 855.5,1090.9 847.1,1094.8 838.7,1098.5 830.2,1102.0 821.6,1105.3 812.9,1108.4 804.1,1111.4 795.3,1114.1 786.4,1116.6 777.4,1118.9 768.4,1121.0 759.3,1122.9 750.2,1124.6 741.0,1126.0 731.8,1127.3 722.6,1128.3 713.3,1129.1 704.0,1129.7 694.7,1130.1 685.4,1130.3 676.1,1130.3 666.8,1130.0 657.4,1129.5 648.1,1128.8 638.8,1127.9 629.5,1126.8 620.3,1125.4 611.0,1123.9 601.8,1122.1 592.7,1120.1 583.6,1117.9 574.5,1115.5 565.5,1112.9 556.5,1110.0 547.6,1107.0 538.8,1103.7 530.0,1100.2 521.4,1096.6 512.8,1092.7 504.3,1088.6 495.8,1084.3 487.5,1079.8 479.3,1075.2 471.2,1070.3 463.2,1065.3 455.3,1060.0 447.5,1054.6 439.9,1049.0 432.4,1043.2 425.0,1037.2 417.8,1031.1 410.6,1024.8 403.7,1018.3 396.9,1011.6 390.2,1004.8 383.7,997.9 377.4,990.7 371.2,983.5 365.2,976.0 359.3,968.5 353.7,960.8 348.2,953.0 342.9,945.0 337.7,936.9 332.8,928.7 328.0,920.4 323.5,911.9 319.1,903.4 314.9,894.7 311.0,886.0 307.2,877.1 303.7,868.2 300.3,859.1 297.2,850.0 294.2,840.8 291.5,831.6 289.0,822.3 286.7,812.9 284.7,803.4 282.8,793.9 281.2,784.4 279.8,774.8 278.6,765.2 277.6,755.6 276.9,745.9 276.4,736.2 276.1,726.5 276.0,716.8 276.2,707.0 276.6,697.3 277.2,687.6 278.1,677.9 279.1,668.2 280.4,658.5 282.0,648.9 283.7,639.3 285.7,629.7 287.9,620.2 290.3,610.7 293.0,601.3 295.8,591.9 298.9,582.6 302.2,573.4 305.7,564.2 309.5,555.1 313.4,546.1 317.5,537.2 321.9,528.4 326.5,519.7 331.3,511.1 336.2,502.6 341.4,494.2 346.8,485.9 352.4,477.8 358.1,469.7 364.1,461.8 370.2,454.1 376.5,446.5 383.0,439.0 389.7,431.7 396.5,424.5 403.5,417.5 410.7,410.6 418.1,404.0 425.6,397.4 433.2,391.1 441.0,384.9 449.0,378.9 457.1,373.1 465.3,367.5 473.7,362.1 482.2,356.8 490.8,351.8 499.5,347.0 508.4,342.3 517.4,337.9 526.4,333.7 535.6,329.6 544.9,325.8 554.2,322.3 563.7,318.9 573.2,315.7 582.8,312.8 592.5,310.1 602.2,307.6 612.0,305.3 621.9,303.3 631.8,301.5 641.8,299.9 651.8,298.6 661.8,297.5 671.9,296.6 681.9,296.0 692.0,295.6 702.1,295.4 712.3,295.5 722.4,295.8 732.5,296.3 742.6,297.1 752.7,298.1 762.8,299.3 772.8,300.8 782.8,302.5 792.8,304.5 802.8,306.6 812.7,309.1 822.5,311.7 832.3,314.6 842.0,317.7 851.6,321.0 861.2,324.6 870.7,328.3 880.1,332.3 889.4,336.6 898.6,341.0 907.7,345.7 916.8,350.5 925.7,355.6 934.4,360.9 943.1,366.4 951.7,372.1 960.1,378.0 968.3,384.1 976.5,390.4 984.5,396.9 992.3,403.6 1000.0,410.4 1007.5,417.4 1014.9,424.7 1022.1,432.1 1029.1,439.6 1036.0,447.3 1042.7,455.2 1049.2,463.3 1055.5,471.5 1061.6,479.8 1067.6,488.3 1073.3,497.0 1078.9,505.7 1084.2,514.6 1089.3,523.7 1094.2,532.8 1098.9,542.1 1103.4,551.5 1107.7,561.0 1111.8,570.6 1115.6,580.2 1119.2,590.0 1122.6,599.9 1125.8,609.8 1128.7,619.9 1131.4,630.0 1133.8,640.1 1136.1,650.4 1138.0,660.6 1139.8,671.0 1141.3,681.3 1142.6,691.8 1143.6,702.2 1144.4,712.7 1144.9,723.2 1145.2,733.7 1145.2,744.2 1145.0,754.7 1144.6,765.2 1143.9,775.7 1143.0,786.2 1141.8,796.7 1140.4,807.2 1138.7,817.6 1136.8,828.0 1134.6,838.3 1132.2,848.6 1129.6,858.9 1126.7,869.1 1123.6,879.2 1120.3,889.2 1116.7,899.2 1112.9,909.1 1108.8,918.9 1104.5,928.7 1100.0,938.3 1095.3,947.8 1090.3,957.2 1085.2,966.5 1079.8,975.7 1074.2,984.8 1068.3,993.7 1062.3,1002.5 1056.1,1011.2 1049.6,1019.7 1043.0,1028.1 1036.1,1036.3 1029.1,1044.4 1021.9,1052.3 1014.5,1060.0 1006.9,1067.6 999.1,1074.9 991.2,1082.2 983.1,1089.2 974.8,1096.0 966.3,1102.7 957.7,1109.1 949.0,1115.4 940.1,1121.4 931.0,1127.3 921.9,1132.9 912.5,1138.4 903.1,1143.6 893.5,1148.6 883.8,1153.3 874.0,1157.9 864.1,1162.2 854.1,1166.3 844.0,1170.2 833.8,1173.8 823.5,1177.2 813.1,1180.3 802.7,1183.2 792.1,1185.9 781.6,1188.3 770.9,1190.5 760.2,1192.4 749.5,1194.1 738.7,1195.5 727.9,1196.7 717.0,1197.6 706.1,1198.3 695.2,1198.7 684.3,1198.9 673.4,1198.8 662.5,1198.5 651.6,1197.9 640.7,1197.0 629.8,1195.9 618.9,1194.6 608.1,1192.9 597.3,1191.1 586.5,1189.0 575.8,1186.6 565.1,1184.0 554.5,1181.1 544.0,1178.0 533.5,1174.6 523.1,1171.0 512.8,1167.2 502.6,1163.1 492.5,1158.8 482.4,1154.2 472.5,1149.4 462.7,1144.4 453.0,1139.1 443.4,1133.6 433.9,1127.9 424.6,1122.0 415.4,1115.8 406.3,1109.4 397.4,1102.8 388.7,1096.0 380.1,1089.0 371.6,1081.8 363.4,1074.4 355.3,1066.9 347.3,1059.1 339.6,1051.1 332.0,1042.9 324.6,1034.6 317.4,1026.1 310.5,1017.4 303.7,1008.6 297.1,999.6 290.7,990.4 284.5,981.1 278.6,971.7 272.8,962.1 267.3,952.3 262.1,942.5 257.0,932.5 252.2,922.4 247.6,912.1 243.2,901.8 239.1,891.4 235.2,880.8 231.6,870.2 228.2,859.5 225.1,848.7 222.2,837.8 219.6,826.9 217.2,815.9 215.1,804.8 213.2,793.7 211.6,782.5 210.3,771.3 209.2,760.1 208.4,748.8 207.8,737.5 207.5,726.2 207.5,714.9 207.7,703.6 208.2,692.3 209.0,681.0 210.0,669.7 211.3,658.4 212.8,647.1 214.6,635.9 216.7,624.8 219.0,613.6 221.6,602.6 224.5,591.5 227.6,580.6 230.9,569.7 234.5,558.9 238.4,548.2 242.5,537.5 246.9,527.0 251.5,516.5 256.4,506.2 261.5,496.0 266.8,485.9 272.4,475.9 278.2,466.0 284.3,456.3 290.5,446.7 297.0,437.2 303.7,427.9 310.7,418.8 317.8,409.8 325.2,401.0 332.8,392.3 340.5,383.8 348.5,375.5 356.7,367.4 365.0,359.5 373.6,351.8 382.3,344.2 391.2,336.9 400.3,329.7 409.5,322.8 418.9,316.1 428.5,309.6 438.2,303.4 448.1,297.3 458.1,291.5 468.3,285.9 478.6,280.6 489.0,275.4 499.5,270.6 510.1,266.0 520.9,261.6 531.8,257.4 542.7,253.6 553.8,249.9 564.9,246.6 576.2,243.5 587.4,240.6 598.8,238.0 610.2,235.7 621.7,233.7 633.3,231.9 644.9,230.4 656.5,229.1 668.1,228.1 679.8,227.4 691.5,227.0 703.2,226.8 714.9,226.9 726.6,227.3 738.3,228.0 750.0,228.9 761.7,230.1 773.4,231.6 785.0,233.3 796.6,235.3 808.1,237.6 819.6,240.2 831.0,243.0 842.4,246.1 853.7,249.4 864.9,253.0 876.1,256.9 887.1,261.1 898.1,265.5 908.9,270.1 919.7,275.0 930.3,280.2 940.9,285.6 951.3,291.3 961.5,297.2 971.7,303.3 981.7,309.7 991.5,316.3 1001.2,323.1 1010.8,330.2 1020.1,337.5 1029.4,345.0 1038.4,352.7 1047.3,360.7 1055.9,368.8 1064.4,377.2 1072.7,385.7 1080.8,394.5 1088.7,403.4 1096.4,412.6 1103.9,421.9 1111.1,431.4 1118.2,441.0 1125.0,450.8 1131.6,460.8 1138.0,471.0 1144.1,481.2 1150.0,491.7 1155.6,502.2 1161.0,513.0 1166.2,523.8 1171.1,534.7 1175.8,545.8 1180.2,557.0 1184.3,568.3 1188.2,579.7 1191.8,591.2 1195.1,602.7 1198.2,614.4 1201.0,626.1 1203.5,637.9 1205.8,649.8 1207.8,661.7 1209.5,673.6 1210.9,685.6 1212.0,697.6 1212.9,709.7 1213.5,721.8 1213.8,733.9 1213.8,746.0 1213.5,758.1 1213.0,770.2 1212.2,782.3 1211.1,794.4 1209.7,806.5 1208.0,818.5 1206.1,830.5 1203.8,842.5 1201.3,854.4 1198.5,866.2 1195.5,878.0 1192.1,889.7 1188.5,901.4 1184.7,912.9 1180.5,924.4 1176.1,935.8 1171.4,947.1 1166.4,958.2 1161.2,969.3 1155.8,980.2 1150.0,991.0 1144.1,1001.7 1137.8,1012.3 1131.3,1022.7 1124.6,1032.9 1117.7,1043.0 1110.5,1053.0 1103.0,1062.7 1095.4,1072.3 1087.5,1081.8 1079.4,1091.0 1071.1,1100.1 1062.5,1108.9 1053.8,1117.6 1044.8,1126.1 1035.7,1134.3 1026.4,1142.4 1016.8,1150.2 1007.1,1157.8 997.2,1165.2 987.1,1172.4 976.9,1179.3 966.5,1186.0 956.0,1192.4 945.2,1198.7 934.4,1204.6 923.4,1210.3 912.3,1215.8 901.0,1221.0 889.6,1225.9 878.1,1230.6 866.5,1235.0 854.8,1239.1 843.0,1242.9 831.0,1246.5 819.0,1249.8 807.0,1252.9 794.8,1255.6 782.6,1258.1 770.3,1260.3 758.0,1262.2 745.6,1263.8 733.2,1265.1 720.8,1266.1 708.3,1266.9 695.8,1267.3 683.3,1267.5 670.8,1267.3 658.3,1266.9 645.8,1266.2 633.3,1265.2 620.8,1263.9 608.4,1262.3 596.0,1260.5 583.6,1258.3 571.3,1255.8 559.0,1253.1 546.8,1250.1 534.7,1246.8 522.6,1243.2 510.6,1239.3 498.7,1235.1 486.9,1230.7 475.2,1226.0 463.7,1221.0 452.2,1215.8 440.8,1210.2 429.6,1204.4 418.5,1198.4 407.5,1192.1 396.7,1185.5 386.1,1178.7 375.6,1171.6 365.2,1164.3 355.0,1156.8 345.0,1149.0 335.2,1140.9 325.6,1132.7 316.1,1124.2 306.9,1115.5 297.8,1106.6 289.0,1097.4 280.4,1088.1 272.0,1078.5 263.8,1068.8 255.8,1058.9 248.0,1048.7 240.5,1038.4 233.3,1027.9 226.3,1017.3 219.5,1006.5 213.0,995.5 206.7,984.3 200.7,973.1 194.9,961.6 189.4,950.1 184.2,938.4 179.3,926.6 174.6,914.6 170.2,902.6 166.1,890.4 162.2,878.2 158.7,865.9 155.4,853.4 152.4,840.9 149.8,828.4 147.4,815.7 145.3,803.0 143.5,790.3 142.0,777.5 140.8,764.7 139.8,751.8 139.2,738.9 138.9,726.0 138.9,713.1 139.2,700.2 139.8,687.3 140.7,674.4 141.9,661.5 143.4,648.7 145.2,635.8 147.2,623.1 149.6,610.3 152.3,597.6 155.3,585.0 158.6,572.5 162.1,560.0 166.0,547.6 170.2,535.3 174.6,523.0 179.3,510.9 184.3,498.9 189.6,487.0 195.2,475.3 201.0,463.6 207.1,452.1 213.5,440.7 220.1,429.5 227.0,418.4 234.2,407.5 241.6,396.8 249.3,386.2 257.2,375.8 265.4,365.6 273.8,355.5 282.4,345.7 291.3,336.1 300.4,326.6 309.7,317.4 319.3,308.4 329.0,299.6 339.0,291.0 349.1,282.7 359.5,274.6 370.0,266.8 380.7,259.1 391.6,251.8 402.7,244.7 414.0,237.8 425.4,231.2 436.9,224.9 448.6,218.8 460.5,213.0 472.5,207.5 484.6,202.3 496.9,197.3 509.2,192.7 521.7,188.3 534.3,184.2 547.0,180.4 559.7,176.9 572.6,173.7 585.5,170.7 598.5,168.1 611.6,165.8 624.7,163.8 637.9,162.1 651.1,160.7 664.3,159.6 677.6,158.9 690.9,158.4 704.2,158.2 717.5,158.4 730.8,158.8 744.1,159.6 757.4,160.7 770.6,162.1 783.9,163.8 797.1,165.8 810.2,168.1 823.3,170.7 836.4,173.6 849.3,176.9 862.2,180.4 875.1,184.2 887.8,188.4 900.4,192.8 913.0,197.5 925.4,202.5 937.7,207.9 949.9,213.4 962.0,219.3 973.9,225.5 985.7,231.9 997.4,238.7 1008.8,245.6 1020.2,252.9 1031.3,260.4 1042.3,268.2 1053.1,276.3 1063.8,284.5 1074.2,293.1 1084.4,301.9 1094.4,310.9 1104.3,320.2 1113.9,329.7 1123.3,339.4 1132.4,349.3 1141.4,359.5 1150.1,369.8 1158.5,380.4 1166.7,391.2 1174.7,402.1 1182.4,413.3 1189.9,424.6 1197.1,436.1 1204.0,447.8 1210.6,459.6 1217.0,471.6 1223.1,483.8 1228.9,496.0 1234.5,508.5 1239.7,521.0 1244.7,533.7 1249.3,546.5 1253.7,559.4 1257.8,572.4 1261.5,585.5 1265.0,598.7 1268.1,612.0 1271.0,625.4 1273.5,638.8 1275.7,652.3 1277.6,665.8 1279.2,679.4 1280.5,693.0 1281.4,706.7 1282.1,720.4 1282.4,734.1 1282.4,747.8 1282.1,761.5 1281.4,775.2 1280.5,788.9 1279.2,802.5 1277.6,816.2 1275.7,829.8 1273.4,843.4 1270.9,856.9 1268.0,870.3 1264.9,883.7 1261.4,897.1 1257.6,910.3 1253.5,923.5 1249.1,936.5 1244.3,949.5 1239.3,962.3 1234.0,975.1 1228.4,987.7 1222.5,1000.2 1216.3,1012.6 1209.8,1024.8 1203.0,1036.8 1195.9,1048.7 1188.6,1060.5 1181.0,1072.1 1173.1,1083.5 1164.9,1094.7 1156.5,1105.7 1147.8,1116.5 1138.9,1127.2 1129.7,1137.6 1120.3,1147.8 1110.6,1157.8 1100.8,1167.6 1090.6,1177.1 1080.3,1186.5 1069.7,1195.5 1058.9,1204.4 1048.0,1212.9 1036.8,1221.3 1025.4,1229.3 1013.8,1237.1 1002.1,1244.7 990.1,1251.9 978.0,1258.9 965.8,1265.6 953.3,1272.0 940.8,1278.2 928.0,1284.0 915.2,1289.5 902.2,1294.8 889.1,1299.7 875.8,1304.4 862.5,1308.7 849.1,1312.7 835.5,1316.4 821.9,1319.8 808.2,1322.9 794.4,1325.7 780.5,1328.1 766.6,1330.2 752.7,1332.0 738.7,1333.5 724.6,1334.6 710.6,1335.4 696.5,1335.9 682.4,1336.1 668.3,1335.9 654.2,1335.4 640.1,1334.6 626.0,1333.4 611.9,1331.9 597.9,1330.1 583.9,1328.0 570.0,1325.5 556.1,1322.7 542.3,1319.6 528.5,1316.2 514.9,1312.4 501.3,1308.4 487.8,1304.0 474.4,1299.3 461.1,1294.3 448.0,1288.9 434.9,1283.3 422.0,1277.4 409.2,1271.1 396.6,1264.6 384.1,1257.7 371.8,1250.6 359.6,1243.2 347.6,1235.5 335.8,1227.5 324.2,1219.3 312.7,1210.7 301.5,1201.9 290.4,1192.9 279.6,1183.6 269.0,1174.0 258.6,1164.2 248.4,1154.1 238.5,1143.8 228.8,1133.3 219.3,1122.5 210.1,1111.6 201.2,1100.4 192.5,1089.0 184.1,1077.3 175.9,1065.5 168.0,1053.5 160.4,1041.3 153.1,1029.0 146.1,1016.4 139.3,1003.7 132.9,990.9 126.7,977.9 120.9,964.7 115.3,951.4 110.1,938.0 105.2,924.4 100.6,910.8 96.3,897.0 92.3,883.1 88.7,869.1 85.3,855.1 82.3,840.9 79.7,826.7 77.3,812.5 75.3,798.1 73.7,783.7 72.3,769.3 71.3,754.9 70.7,740.4 70.3,725.9 70.3,711.4 70.7,696.9 71.4,682.4 72.4,667.9 73.8,653.4 75.5,639.0 77.5,624.6 79.9,610.2 82.6,595.9 85.6,581.7 89.0,567.5 92.7,553.4 96.7,539.4 101.0,525.5 105.7,511.7 110.7,498.0 116.1,484.4 121.7,470.9 127.6,457.6 133.9,444.4 140.5,431.3 147.4,418.4 154.5,405.6 162.0,393.1 169.8,380.6 177.9,368.4 186.2,356.4 194.8,344.5 203.7,332.8 212.9,321.4 222.4,310.1 232.1,299.1 242.0,288.3 252.3,277.8 262.7,267.4 273.4,257.3 284.4,247.5 295.6,237.9 307.0,228.6 318.6,219.5 330.4,210.7 342.5,202.2 354.7,194.0 367.1,186.0 379.8,178.4 392.6,171.0 405.5,163.9 418.7,157.1 432.0,150.7 445.4,144.5 459.0,138.6 472.7,133.1 486.6,127.9 500.6,123.0 514.7,118.4 528.9,114.2 543.2,110.3 557.6,106.7 572.1,103.5 586.7,100.6 601.3,98.0 616.0,95.8 630.8,93.9 645.6,92.4"/>
<polyline points="538.8,456.1 545.1,452.4 551.5,448.8 558.0,445.3 564.6,442.0 571.2,438.9 577.9,435.9 584.7,433.0 591.5,430.3 598.5,427.8 605.5,425.4 612.5,423.2 619.6,421.1 626.8,419.3 634.0,417.5 641.2,416.0 648.5,414.6 655.8,413.4 663.2,412.4 670.5,411.5 677.9,410.8 685.4,410.2 692.8,409.9 700.3,409.7 707.7,409.7 715.2,409.9 722.7,410.2 730.1,410.7 737.6,411.4 745.0,412.3 752.4,413.3 759.8,414.5 767.2,415.9 774.6,417.4 781.9,419.2 789.2,421.1 796.4,423.1 803.6,425.4 810.8,427.8 817.9,430.4 824.9,433.1 831.9,436.0 838.8,439.1 845.7,442.3 852.4,445.7 859.1,449.3 865.8,453.0 872.3,456.9 878.7,460.9 885.1,465.1 891.4,469.4 897.5,473.9 903.6,478.5 909.6,483.2 915.4,488.1 921.2,493.2 926.8,498.4 932.3,503.7 937.7,509.1 943.0,514.7 948.1,520.4 953.1,526.2 958.0,532.2 962.7,538.2 967.3,544.4 971.8,550.7 976.1,557.1 980.2,563.6 984.3,570.2 988.1,576.9 991.8,583.7 995.4,590.5 998.8,597.5 1002.0,604.5 1005.1,611.7 1008.0,618.9 1010.8,626.1 1013.3,633.5 1015.7,640.9 1018.0,648.3 1020.0,655.8 1021.9,663.4 1023.6,671.0 1025.2,678.7 1026.5,686.4 1027.7,694.1 1028.7,701.9 1029.5,709.7 1030.1,717.5 1030.6,725.3 1030.9,733.1 1031.0,741.0 1030.9,748.9 1030.6,756.7 1030.1,764.6 1029.5,772.4 1028.7,780.3 1027.6,788.1 1026.5,795.9 1025.1,803.7 1023.5,811.5 1021.8,819.2 1019.9,826.9 1017.8,834.5 1015.5,842.1 1013.0,849.7 1010.4,857.2 1007.6,864.6 1004.6,872.0 1001.4,879.3 998.1,886.5 994.6,893.7 990.9,900.8 987.1,907.8 983.1,914.7 978.9,921.5 974.6,928.3 970.1,934.9 965.5,941.5 960.7,947.9 955.7,954.2 950.6,960.4 945.4,966.5 940.0,972.5 934.5,978.3 928.8,984.1 923.0,989.7 917.0,995.1 911.0,1000.4 904.8,1005.6 898.5,1010.7 892.0,1015.6 885.5,1020.3 878.8,1024.9 872.0,1029.4 865.1,1033.7 858.1,1037.8 851.0,1041.8 843.8,1045.6 836.6,1049.2 829.2,1052.7 821.7,1056.0 814.2,1059.2 806.6,1062.1 798.9,1064.9 791.2,1067.5 783.4,1069.9 775.5,1072.2 767.5,1074.2 759.6,1076.1 751.5,1077.8 743.5,1079.3 735.4,1080.6 727.2,1081.8 719.0,1082.7 710.8,1083.5 702.6,1084.0 694.4,1084.4 686.1,1084.6 677.9,1084.6 669.6,1084.4 661.3,1084.0 653.1,1083.4 644.8,1082.6 636.6,1081.6 628.4,1080.4 620.2,1079.1 612.0,1077.5 603.9,1075.8 595.8,1073.9 587.8,1071.7 579.8,1069.4 571.8,1066.9 563.9,1064.2 556.1,1061.4 548.3,1058.3 540.6,1055.1 533.0,1051.7 525.4,1048.1 517.9,1044.3 510.5,1040.3 503.2,1036.2 496.0,1031.9 488.9,1027.4 481.9,1022.8 475.0,1018.0 468.2,1013.0 461.5,1007.9 454.9,1002.6 448.5,997.2 442.1,991.6 435.9,985.9 429.9,980.0 423.9,973.9 418.2,967.8 412.5,961.5 407.0,955.0 401.6,948.4 396.4,941.7 391.4,934.9 386.5,928.0 381.7,920.9 377.1,913.7 372.7,906.4 368.5,899.0 364.4,891.6 360.5,884.0 356.8,876.3 353.2,868.5 349.9,860.6 346.7,852.7 343.7,844.7 340.9,836.6 338.2,828.4 335.8,820.2 333.6,811.9 331.5,803.5 329.6,795.1 328.0,786.7 326.5,778.2 325.2,769.7 324.1,761.1 323.3,752.5 322.6,743.9 322.1,735.3 321.8,726.6 321.8,718.0 321.9,709.3 322.2,700.7 322.7,692.0 323.5,683.4 324.4,674.7 325.5,666.1 326.9,657.5 328.4,649.0 330.2,640.4 332.1,631.9 334.2,623.5 336.6,615.1 339.1,606.7 341.8,598.4 344.7,590.2 347.9,582.0 351.2,573.9 354.7,565.8 358.3,557.9 362.2,550.0 366.3,542.2 370.5,534.5 374.9,526.9 379.5,519.4 384.3,512.0 389.3,504.8 394.4,497.6 399.7,490.5 405.1,483.6 410.8,476.8 416.5,470.1 422.5,463.5 428.6,457.1 434.8,450.9 441.2,444.7 447.8,438.7 454.4,432.9 461.3,427.2 468.2,421.7 475.3,416.3 482.5,411.1 489.9,406.1 497.3,401.2 504.9,396.5 512.6,392.0 520.4,387.7 528.3,383.5 536.3,379.5 544.4,375.7 552.6,372.1 560.9,368.7 569.2,365.5 577.7,362.4 586.2,359.6 594.8,356.9 603.4,354.5 612.1,352.2 620.9,350.2 629.7,348.4 638.6,346.7 647.5,345.3 656.4,344.1 665.4,343.1 674.4,342.3 683.4,341.7 692.4,341.3 701.5,341.1 710.5,341.2 719.6,341.4 728.6,341.9 737.7,342.5 746.7,343.4 755.8,344.5 764.8,345.8 773.7,347.3 782.7,349.1 791.6,351.0 800.4,353.1 809.2,355.5 818.0,358.0 826.7,360.8 835.4,363.7 843.9,366.9 852.5,370.3 860.9,373.8 869.2,377.6 877.5,381.6 885.7,385.7 893.8,390.1 901.8,394.6 909.7,399.3 917.4,404.2 925.1,409.3 932.7,414.6 940.1,420.1 947.4,425.7 954.6,431.5 961.6,437.4 968.5,443.6 975.3,449.9 981.9,456.3 988.4,462.9 994.7,469.7 1000.9,476.6 1006.9,483.7 1012.8,490.9 1018.4,498.2 1024.0,505.7 1029.3,513.3 1034.5,521.1 1039.5,528.9 1044.3,536.9 1048.9,545.0 1053.3,553.2 1057.6,561.5 1061.6,570.0 1065.5,578.5 1069.1,587.1 1072.6,595.8 1075.9,604.5 1078.9,613.4 1081.8,622.3 1084.4,631.3 1086.9,640.4 1089.1,649.5 1091.1,658.7 1092.9,667.9 1094.5,677.2 1095.9,686.5 1097.0,695.9 1098.0,705.3 1098.7,714.7 1099.2,724.1 1099.5,733.5 1099.5,743.0 1099.4,752.4 1099.0,761.9 1098.4,771.4 1097.6,780.8 1096.5,790.2 1095.3,799.6 1093.8,809.0 1092.1,818.4 1090.2,827.7 1088.0,836.9 1085.7,846.2 1083.1,855.3 1080.3,864.4 1077.3,873.5 1074.1,882.5 1070.7,891.4 1067.1,900.2 1063.3,909.0 1059.2,917.7 1055.0,926.2 1050.5,934.7 1045.9,943.1 1041.1,951.4 1036.0,959.6 1030.8,967.6 1025.4,975.5 1019.8,983.4 1014.0,991.0 1008.0,998.6 1001.9,1006.0 995.6,1013.3 989.1,1020.4 982.4,1027.4 975.6,1034.2 968.6,1040.9 961.5,1047.4 954.2,1053.7 946.7,1059.9 939.1,1065.9 931.4,1071.8 923.5,1077.4 915.5,1082.9 907.3,1088.2 899.1,1093.3 890.7,1098.2 882.2,1102.9 873.6,1107.4 864.8,1111.7 856.0,1115.9 847.1,1119.8 838.1,1123.5 829.0,1127.0 819.8,1130.3 810.5,1133.3 801.1,1136.2 791.7,1138.8 782.2,1141.3 772.7,1143.5 763.1,1145.4 753.4,1147.2 743.7,1148.7 734.0,1150.0 724.2,1151.1 714.4,1152.0 704.6,1152.6 694.8,1153.0 685.0,1153.2 675.1,1153.1 665.2,1152.8 655.4,1152.3 645.5,1151.6 635.7,1150.6 625.9,1149.4 616.1,1147.9 606.4,1146.3 596.6,1144.4 587.0,1142.3 577.3,1139.9 567.8,1137.3 558.2,1134.5 548.8,1131.5 539.4,1128.3 530.1,1124.8 520.8,1121.1 511.6,1117.3 502.6,1113.1 493.6,1108.8 484.7,1104.3 475.9,1099.5 467.3,1094.6 458.7,1089.5 450.2,1084.1 441.9,1078.6 433.7,1072.8 425.7,1066.9 417.7,1060.7 410.0,1054.4 402.3,1047.9 394.8,1041.3 387.5,1034.4 380.3,1027.4 373.3,1020.2 366.4,1012.8 359.7,1005.3 353.2,997.6 346.9,989.8 340.7,981.8 334.7,973.6 329.0,965.4 323.4,957.0 318.0,948.4 312.8,939.7 307.8,930.9 303.0,922.0 298.4,913.0 294.0,903.8 289.8,894.6 285.9,885.3 282.1,875.8 278.6,866.3 275.3,856.7 272.2,847.0 269.4,837.2 266.7,827.4 264.3,817.4 262.2,807.5 260.2,797.5 258.5,787.4 257.0,777.3 255.8,767.1 254.8,757.0 254.1,746.8 253.5,736.5 253.2,726.3 253.2,716.0 253.4,705.8 253.8,695.5 254.5,685.3 255.4,675.1 256.5,664.8 257.9,654.6 259.5,644.5 261.4,634.4 263.5,624.3 265.8,614.2 268.4,604.2 271.2,594.3 274.2,584.4 277.5,574.6 281.0,564.9 284.7,555.2 288.6,545.7 292.8,536.2 297.2,526.8 301.8,517.5 306.6,508.3 311.7,499.3 316.9,490.3 322.4,481.5 328.1,472.8 334.0,464.2 340.0,455.7 346.3,447.4 352.8,439.2 359.5,431.2 366.3,423.4 373.4,415.7 380.6,408.1 388.0,400.7 395.6,393.5 403.3,386.5 411.2,379.6 419.3,373.0 427.5,366.5 435.9,360.2 444.5,354.1 453.1,348.2 462.0,342.4 470.9,336.9 480.0,331.6 489.2,326.6 498.5,321.7 508.0,317.0 517.5,312.6 527.2,308.4 537.0,304.4 546.8,300.6 556.8,297.1 566.8,293.8 577.0,290.7 587.1,287.9 597.4,285.3 607.7,282.9 618.1,280.8 628.6,278.9 639.0,277.2 649.6,275.8 660.1,274.7 670.7,273.8 681.3,273.1 692.0,272.7 702.6,272.5 713.3,272.6 723.9,273.0 734.6,273.5 745.2,274.4 755.8,275.4 766.4,276.8 777.0,278.3 787.5,280.1 798.0,282.2 808.5,284.5 818.9,287.1 829.2,289.9 839.5,292.9 849.7,296.2 859.9,299.7 869.9,303.4 879.9,307.4 889.8,311.6 899.6,316.1 909.3,320.8 918.9,325.7 928.4,330.8 937.7,336.2 946.9,341.8 956.1,347.5 965.0,353.6 973.9,359.8 982.6,366.2 991.1,372.8 999.5,379.7 1007.8,386.7 1015.8,393.9 1023.7,401.3 1031.5,408.9 1039.1,416.7 1046.4,424.7 1053.6,432.8 1060.7,441.1 1067.5,449.6 1074.1,458.2 1080.6,467.0 1086.8,475.9 1092.8,485.0 1098.6,494.2 1104.2,503.6 1109.6,513.1 1114.8,522.7 1119.7,532.5 1124.4,542.3 1128.9,552.3 1133.1,562.4 1137.2,572.6 1141.0,582.9 1144.5,593.3 1147.8,603.7 1150.9,614.3 1153.7,624.9 1156.2,635.6 1158.6,646.3 1160.6,657.1 1162.5,668.0 1164.0,678.9 1165.3,689.8 1166.4,700.8 1167.2,711.8 1167.8,722.8 1168.1,733.8 1168.1,744.9 1167.9,755.9 1167.4,767.0 1166.7,778.0 1165.7,789.1 1164.4,800.1 1162.9,811.1 1161.1,822.0 1159.1,832.9 1156.8,843.8 1154.3,854.6 1151.5,865.4 1148.5,876.1 1145.2,886.7 1141.7,897.2 1137.9,907.7 1133.9,918.1 1129.6,928.4 1125.1,938.6 1120.4,948.7 1115.4,958.7 1110.2,968.6 1104.7,978.4 1099.1,988.0 1093.2,997.5 1087.0,1006.9 1080.7,1016.1 1074.1,1025.2 1067.4,1034.1 1060.4,1042.9 1053.2,1051.5 1045.8,1060.0 1038.2,1068.3 1030.4,1076.4 1022.4,1084.3 1014.3,1092.1 1005.9,1099.6 997.4,1107.0 988.7,1114.2 979.8,1121.1 970.8,1127.9 961.6,1134.4 952.3,1140.8 942.8,1146.9 933.1,1152.8 923.3,1158.5 913.4,1164.0 903.4,1169.2 893.2,1174.2 882.9,1179.0 872.5,1183.5 862.0,1187.8 851.4,1191.8 840.7,1195.6 829.9,1199.1 819.0,1202.4 808.0,1205.5 797.0,1208.2 785.9,1210.8 774.7,1213.0 763.5,1215.0 752.2,1216.8 740.9,1218.3 729.5,1219.5 718.2,1220.5 706.7,1221.2 695.3,1221.6 683.9,1221.8 672.4,1221.6 661.0,1221.3 649.5,1220.6 638.1,1219.7 626.7,1218.6 615.3,1217.1 603.9,1215.4 592.6,1213.5 581.3,1211.2 570.1,1208.7 558.9,1206.0 547.8,1203.0 536.8,1199.7 525.8,1196.2 514.9,1192.4 504.1,1188.3 493.4,1184.0 482.8,1179.5 472.2,1174.7 461.8,1169.6 451.6,1164.3 441.4,1158.8 431.3,1153.0 421.4,1147.0 411.7,1140.8 402.0,1134.3 392.5,1127.7 383.2,1120.8 374.0,1113.6 365.0,1106.3 356.2,1098.7 347.5,1091.0 339.1,1083.0 330.8,1074.8 322.6,1066.5 314.7,1057.9 307.0,1049.2 299.5,1040.2 292.2,1031.1 285.1,1021.9 278.2,1012.4 271.5,1002.8 265.0,993.1 258.8,983.2 252.8,973.1 247.1,962.9 241.5,952.6 236.3,942.1 231.2,931.5 226.4,920.8 221.9,910.0 217.6,899.0 213.5,888.0 209.7,876.8 206.2,865.6 202.9,854.3 199.9,842.9 197.2,831.4 194.7,819.9 192.5,808.3 190.6,796.7 188.9,785.0 187.5,773.3 186.4,761.5 185.5,749.7 184.9,737.9 184.6,726.0 184.6,714.2 184.9,702.3 185.4,690.5 186.2,678.7 187.3,666.8 188.6,655.0 190.3,643.3 192.2,631.5 194.4,619.8 196.8,608.2 199.5,596.6 202.5,585.1 205.8,573.6 209.3,562.2 213.1,550.9 217.2,539.7 221.5,528.6 226.1,517.5 230.9,506.6 236.0,495.8 241.4,485.1 247.0,474.5 252.8,464.1 258.9,453.7 265.2,443.6 271.8,433.5 278.6,423.6 285.7,413.9 292.9,404.4 300.4,395.0 308.1,385.7 316.1,376.7 324.2,367.8 332.6,359.1 341.1,350.7 349.9,342.4 358.8,334.3 367.9,326.4 377.3,318.7 386.8,311.3 396.5,304.1 406.3,297.1 416.3,290.3 426.5,283.7 436.8,277.4 447.3,271.3 457.9,265.5 468.7,259.9 479.6,254.6 490.6,249.5 501.7,244.7 513.0,240.1 524.4,235.8 535.8,231.8 547.4,228.0 559.1,224.5 570.8,221.2 582.6,218.3 594.5,215.6 606.4,213.2 618.5,211.0 630.5,209.2 642.6,207.6 654.8,206.3 667.0,205.3 679.2,204.6 691.4,204.1 703.6,204.0 715.9,204.1 728.1,204.5 740.4,205.2 752.6,206.2 764.8,207.4 777.0,209.0 789.1,210.8 801.2,212.9 813.3,215.3 825.3,218.0 837.3,221.0 849.1,224.2 860.9,227.7 872.7,231.5 884.3,235.6 895.9,239.9 907.3,244.5 918.7,249.4 929.9,254.6 941.0,260.0 952.0,265.6 962.9,271.5 973.6,277.7 984.2,284.1 994.6,290.8 1004.9,297.7 1015.0,304.9 1025.0,312.3 1034.8,319.9 1044.4,327.8 1053.8,335.9 1063.1,344.2 1072.1,352.7 1081.0,361.4 1089.6,370.4 1098.1,379.5 1106.3,388.9 1114.4,398.4 1122.2,408.1 1129.8,418.1 1137.1,428.1 1144.2,438.4 1151.1,448.8 1157.7,459.4 1164.1,470.2 1170.3,481.1 1176.2,492.1 1181.8,503.3 1187.2,514.6 1192.3,526.1 1197.1,537.7 1201.7,549.4 1206.0,561.1 1210.0,573.0 1213.8,585.0 1217.3,597.1 1220.5,609.3 1223.4,621.5 1226.0,633.8 1228.4,646.2 1230.4,658.6 1232.2,671.1 1233.7,683.7 1234.9,696.2 1235.7,708.8 1236.3,721.4 1236.6,734.1 1236.7,746.7 1236.4,759.4 1235.8,772.0 1234.9,784.6 1233.8,797.3 1232.3,809.8 1230.6,822.4 1228.5,834.9 1226.2,847.4 1223.5,859.8 1220.6,872.2 1217.4,884.5 1213.9,896.7 1210.1,908.8 1206.1,920.9 1201.7,932.9 1197.1,944.7 1192.2,956.5 1187.0,968.2 1181.6,979.7 1175.9,991.1 1169.9,1002.4 1163.6,1013.5 1157.1,1024.5 1150.4,1035.4 1143.3,1046.1 1136.1,1056.6 1128.5,1067.0 1120.8,1077.2 1112.8,1087.2 1104.6,1097.0 1096.1,1106.6 1087.4,1116.1 1078.5,1125.3 1069.4,1134.3 1060.0,1143.2 1050.5,1151.8 1040.7,1160.2 1030.8,1168.3 1020.6,1176.3 1010.3,1184.0 999.8,1191.4 989.1,1198.6 978.3,1205.6 967.2,1212.3 956.1,1218.8 944.7,1225.0 933.3,1230.9 921.6,1236.6 909.9,1242.0 898.0,1247.2 886.0,1252.0 873.9,1256.6 861.7,1260.9 849.4,1264.9 836.9,1268.6 824.4,1272.1 811.8,1275.2 799.2,1278.1 786.4,1280.6 773.6,1282.9 760.8,1284.9 747.9,1286.5 734.9,1287.9 721.9,1289.0 708.9,1289.7 695.9,1290.2 682.9,1290.3 669.8,1290.2 656.8,1289.7 643.7,1289.0 630.7,1287.9 617.7,1286.6 604.8,1284.9 591.8,1282.9 578.9,1280.7 566.1,1278.1 553.3,1275.2 540.6,1272.1 527.9,1268.6 515.4,1264.9 502.9,1260.8 490.5,1256.5 478.2,1251.8 466.0,1246.9 454.0,1241.7 442.0,1236.2 430.2,1230.5 418.5,1224.4 406.9,1218.1 395.5,1211.5 384.2,1204.7 373.1,1197.6 362.2,1190.2 351.4,1182.6 340.8,1174.7 330.4,1166.6 320.2,1158.2 310.2,1149.6 300.3,1140.7 290.7,1131.6 281.3,1122.3 272.1,1112.8 263.1,1103.1 254.3,1093.1 245.8,1082.9 237.5,1072.6 229.5,1062.0 221.6,1051.3 214.1,1040.4 206.8,1029.3 199.7,1018.0 192.9,1006.5 186.4,994.9 180.2,983.2 174.2,971.3 168.5,959.2 163.0,947.0 157.9,934.7 153.0,922.3 148.5,909.8 144.2,897.1 140.2,884.3 136.5,871.5 133.1,858.5 130.0,845.5 127.3,832.4 124.8,819.3 122.6,806.0 120.7,792.8 119.2,779.4 117.9,766.1 117.0,752.7 116.4,739.3 116.1,725.8 116.1,712.4 116.4,699.0 117.0,685.5 117.9,672.1 119.2,658.7 120.7,645.3 122.6,632.0 124.8,618.7 127.3,605.4 130.1,592.2 133.2,579.1 136.6,566.0 140.4,553.0 144.4,540.1 148.7,527.3 153.3,514.6 158.3,502.0 163.5,489.5 169.0,477.1 174.8,464.8 180.9,452.7 187.3,440.7 193.9,428.9 200.8,417.2 208.0,405.7 215.5,394.4 223.2,383.2 231.2,372.2 239.5,361.4 248.0,350.7 256.7,340.3 265.7,330.1 275.0,320.0 284.5,310.2 294.2,300.7 304.1,291.3 314.2,282.2 324.6,273.3 335.2,264.6 345.9,256.2 356.9,248.0 368.1,240.1 379.4,232.4 391.0,225.1 402.7,217.9 414.5,211.1 426.6,204.5 438.8,198.2 451.1,192.2 463.6,186.5 476.2,181.0 488.9,175.9 501.8,171.0 514.8,166.5 527.9,162.2 541.1,158.3 554.4,154.6 567.7,151.3 581.2,148.3 594.7,145.6 608.3,143.2 621.9,141.1 635.6,139.4 649.4,137.9 663.1,136.8 676.9,136.0 690.8,135.5 704.6,135.4 718.4,135.5 732.3,136.0 746.1,136.8 759.9,138.0 773.7,139.4 787.5,141.2 801.2,143.3 814.9,145.7 828.5,148.4 842.1,151.5 855.5,154.9 869.0,158.5 882.3,162.5 895.5,166.8 908.7,171.5 921.7,176.4 934.6,181.6 947.4,187.1 960.1,193.0 972.6,199.1 985.0,205.5 997.3,212.2 1009.4,219.2 1021.3,226.5 1033.1,234.0 1044.7,241.9 1056.1,250.0 1067.3,258.3 1078.4,267.0 1089.2,275.8 1099.8,285.0 1110.3,294.4 1120.5,304.0 1130.4,313.9 1140.2,324.0 1149.7,334.3 1159.0,344.9 1168.0,355.7 1176.8,366.7 1185.3,377.9 1193.6,389.3 1201.6,400.8 1209.3,412.6 1216.8,424.6 1224.0,436.7 1230.9,449.0 1237.5,461.5 1243.9,474.1 1249.9,486.9 1255.6,499.8 1261.1,512.8 1266.2,526.0 1271.0,539.3 1275.6,552.7 1279.8,566.3 1283.7,579.9 1287.3,593.6 1290.5,607.4 1293.5,621.3 1296.1,635.2 1298.4,649.2 1300.3,663.3 1302.0,677.4 1303.3,691.6 1304.3,705.8 1304.9,720.0 1305.2,734.2 1305.2,748.5 1304.9,762.7 1304.2,776.9 1303.2,791.1 1301.9,805.4 1300.2,819.5 1298.2,833.7 1295.9,847.7 1293.2,861.8 1290.3,875.8 1286.9,889.7 1283.3,903.5 1279.4,917.3 1275.1,930.9 1270.5,944.5 1265.6,958.0 1260.4,971.3 1254.8,984.5 1249.0,997.6 1242.8,1010.6 1236.4,1023.4 1229.6,1036.1 1222.6,1048.6 1215.2,1061.0 1207.6,1073.2 1199.7,1085.2 1191.5,1097.0 1183.0,1108.7 1174.3,1120.1 1165.2,1131.4 1156.0,1142.4 1146.4,1153.2 1136.6,1163.8 1126.6,1174.2 1116.3,1184.3 1105.8,1194.2 1095.1,1203.9 1084.1,1213.3 1072.9,1222.5 1061.5,1231.4 1049.9,1240.0 1038.0,1248.4 1026.0,1256.5 1013.8,1264.3 1001.4,1271.8 988.9,1279.0 976.1,1286.0 963.2,1292.6 950.2,1299.0 936.9,1305.1 923.6,1310.8 910.1,1316.2 896.5,1321.4 882.8,1326.2 868.9,1330.6 854.9,1334.8 840.9,1338.6 826.7,1342.2 812.5,1345.3 798.2,1348.2 783.8,1350.7 769.4,1352.9 754.9,1354.8 740.4,1356.3 725.8,1357.4 711.2,1358.3 696.6,1358.8 681.9,1358.9 667.3,1358.7 652.7,1358.2 638.0,1357.3 623.4,1356.1 608.8,1354.6 594.3,1352.7 579.8,1350.5 565.3,1347.9 550.9,1345.0 536.6,1341.8 522.3,1338.2 508.2,1334.3 494.1,1330.1 480.1,1325.5 466.2,1320.6 452.4,1315.4 438.8,1309.9 425.2,1304.0 411.8,1297.8 398.6,1291.4 385.5,1284.6 372.5,1277.5 359.7,1270.1 347.1,1262.4 334.7,1254.4 322.4,1246.1 310.4,1237.5 298.5,1228.7 286.9,1219.5 275.4,1210.1 264.2,1200.5 253.2,1190.5 242.4,1180.3 231.9,1169.9 221.6,1159.2 211.5,1148.3 201.7,1137.1 192.2,1125.7 182.9,1114.1 173.9,1102.3 165.2,1090.2 156.7,1078.0 148.5,1065.5 140.7,1052.9 133.1,1040.1 125.8,1027.0 118.8,1013.9 112.1,1000.5 105.8,987.0 99.7,973.4 94.0,959.6 88.5,945.7 83.5,931.6 78.7,917.4 74.2,903.2 70.1,888.8 66.4,874.3 62.9,859.7 59.8,845.0 57.1,830.3 54.7,815.5 52.6,800.6 50.9,785.7 49.5,770.8 48.5,755.8 47.8,740.8 47.5,725.8 47.5,710.7 47.8,695.7 48.6,680.6 49.6,665.6 51.1,650.6 52.8,635.7 54.9,620.7 57.4,605.9 60.2,591.0 63.4,576.3 66.9,561.6 70.7,547.0 74.9,532.5 79.4,518.1 84.3,503.7 89.5,489.5 95.0,475.4 100.9,461.5 107.0,447.7 113.5,434.0 120.4,420.4 127.5,407.1 135.0,393.9 142.7,380.8 150.8,368.0 159.1,355.3 167.8,342.8 176.7,330.5 186.0,318.4 195.5,306.6 205.3,294.9 215.4,283.5 225.7,272.3 236.3,261.4 247.2,250.7 258.3,240.3 269.6,230.1 281.2,220.1 293.0,210.5 305.1,201.1 317.3,192.0 329.8,183.2 342.5,174.7 355.4,166.4 368.5,158.5 381.7,150.9 395.2,143.5 408.8,136.5 422.6,129.8 436.5,123.4 450.6,117.4 464.8,111.7 479.2,106.3 493.7,101.2 508.3,96.5 523.0,92.1 537.8,88.1 552.8,84.4 567.8,81.0 582.9,78.0 598.0,75.4 613.3,73.1 628.5,71.1 643.9,69.5"/>
<polyline points="527.6,436.2 534.4,432.2 541.2,428.4 548.2,424.7 555.2,421.1 562.3,417.8 569.5,414.6 576.8,411.5 584.2,408.7 591.6,406.0 599.1,403.4 606.7,401.1 614.3,398.9 622.0,396.9 629.7,395.1 637.4,393.4 645.3,392.0 653.1,390.7 661.0,389.6 668.9,388.7 676.8,387.9 684.8,387.4 692.8,387.0 700.7,386.8 708.7,386.9 716.7,387.0 724.7,387.4 732.7,388.0 740.7,388.7 748.7,389.7 756.6,390.8 764.6,392.1 772.5,393.6 780.3,395.3 788.2,397.2 795.9,399.2 803.7,401.5 811.4,403.9 819.0,406.5 826.6,409.2 834.2,412.2 841.6,415.3 849.0,418.6 856.3,422.1 863.6,425.8 870.8,429.6 877.8,433.6 884.8,437.7 891.7,442.0 898.5,446.5 905.2,451.2 911.8,456.0 918.3,460.9 924.6,466.0 930.9,471.3 937.0,476.7 943.0,482.3 948.9,488.0 954.7,493.8 960.3,499.8 965.7,505.9 971.1,512.1 976.3,518.5 981.3,525.0 986.2,531.6 991.0,538.3 995.6,545.2 1000.0,552.1 1004.3,559.2 1008.4,566.3 1012.4,573.6 1016.2,580.9 1019.8,588.4 1023.2,595.9 1026.5,603.5 1029.6,611.2 1032.5,619.0 1035.2,626.8 1037.8,634.8 1040.1,642.7 1042.3,650.8 1044.3,658.9 1046.1,667.0 1047.8,675.2 1049.2,683.4 1050.4,691.7 1051.5,700.0 1052.3,708.3 1053.0,716.6 1053.5,725.0 1053.7,733.4 1053.8,741.8 1053.7,750.1 1053.4,758.5 1052.9,766.9 1052.2,775.3 1051.3,783.7 1050.2,792.0 1048.9,800.4 1047.4,808.7 1045.7,816.9 1043.8,825.2 1041.8,833.4 1039.5,841.5 1037.1,849.6 1034.4,857.7 1031.6,865.7 1028.6,873.6 1025.4,881.5 1022.0,889.3 1018.4,897.0 1014.7,904.6 1010.8,912.2 1006.7,919.6 1002.4,927.0 997.9,934.3 993.3,941.5 988.5,948.5 983.5,955.5 978.4,962.3 973.1,969.1 967.7,975.7 962.1,982.2 956.3,988.5 950.4,994.7 944.3,1000.8 938.1,1006.8 931.8,1012.6 925.3,1018.3 918.7,1023.8 911.9,1029.1 905.1,1034.4 898.1,1039.4 890.9,1044.3 883.7,1049.0 876.4,1053.6 868.9,1058.0 861.3,1062.2 853.7,1066.2 845.9,1070.1 838.1,1073.8 830.1,1077.3 822.1,1080.6 814.0,1083.8 805.8,1086.7 797.5,1089.5 789.2,1092.0 780.8,1094.4 772.4,1096.6 763.9,1098.6 755.3,1100.4 746.7,1102.0 738.1,1103.4 729.4,1104.5 720.7,1105.5 712.0,1106.3 703.2,1106.9 694.4,1107.3 685.6,1107.4 676.9,1107.4 668.1,1107.2 659.3,1106.7 650.5,1106.1 641.7,1105.2 633.0,1104.2 624.2,1102.9 615.5,1101.5 606.8,1099.8 598.2,1097.9 589.6,1095.8 581.0,1093.6 572.5,1091.1 564.1,1088.4 555.7,1085.6 547.3,1082.5 539.1,1079.2 530.9,1075.8 522.8,1072.1 514.7,1068.3 506.8,1064.2 498.9,1060.0 491.2,1055.6 483.5,1051.0 475.9,1046.3 468.5,1041.3 461.2,1036.2 453.9,1030.9 446.8,1025.5 439.9,1019.8 433.0,1014.0 426.3,1008.1 419.7,1002.0 413.3,995.7 407.0,989.3 400.8,982.7 394.8,976.0 389.0,969.1 383.3,962.2 377.8,955.0 372.4,947.8 367.2,940.4 362.2,932.8 357.4,925.2 352.7,917.5 348.2,909.6 343.9,901.6 339.8,893.6 335.8,885.4 332.1,877.1 328.5,868.8 325.1,860.3 322.0,851.8 319.0,843.2 316.2,834.5 313.6,825.8 311.3,816.9 309.1,808.1 307.1,799.2 305.4,790.2 303.8,781.2 302.5,772.1 301.4,763.0 300.4,753.9 299.7,744.8 299.2,735.6 299.0,726.4 298.9,717.3 299.1,708.1 299.4,698.9 300.0,689.7 300.8,680.5 301.8,671.3 303.0,662.2 304.4,653.1 306.1,644.0 308.0,635.0 310.0,625.9 312.3,617.0 314.8,608.1 317.5,599.2 320.4,590.4 323.5,581.7 326.8,573.0 330.4,564.4 334.1,555.9 338.0,547.4 342.1,539.1 346.4,530.9 350.9,522.7 355.7,514.7 360.5,506.7 365.6,498.9 370.9,491.2 376.3,483.6 381.9,476.1 387.7,468.7 393.7,461.5 399.9,454.5 406.2,447.5 412.6,440.7 419.3,434.1 426.1,427.6 433.0,421.3 440.1,415.1 447.3,409.1 454.7,403.2 462.3,397.6 469.9,392.0 477.7,386.7 485.6,381.6 493.7,376.6 501.8,371.8 510.1,367.2 518.5,362.8 526.9,358.6 535.5,354.6 544.2,350.8 553.0,347.2 561.9,343.8 570.8,340.6 579.8,337.6 588.9,334.8 598.1,332.3 607.3,329.9 616.6,327.7 625.9,325.8 635.3,324.1 644.7,322.6 654.2,321.3 663.7,320.3 673.2,319.4 682.8,318.8 692.4,318.4 701.9,318.3 711.5,318.3 721.1,318.6 730.7,319.1 740.3,319.8 749.9,320.8 759.4,321.9 768.9,323.3 778.4,324.9 787.9,326.8 797.3,328.8 806.7,331.1 816.0,333.6 825.3,336.3 834.5,339.3 843.6,342.4 852.7,345.8 861.7,349.4 870.6,353.1 879.4,357.1 888.2,361.3 896.8,365.8 905.4,370.4 913.8,375.2 922.2,380.2 930.4,385.4 938.5,390.8 946.5,396.4 954.3,402.2 962.0,408.1 969.6,414.3 977.1,420.6 984.4,427.1 991.5,433.8 998.5,440.6 1005.4,447.6 1012.0,454.8 1018.5,462.1 1024.9,469.6 1031.1,477.2 1037.1,485.0 1042.9,492.9 1048.5,500.9 1054.0,509.1 1059.2,517.5 1064.3,525.9 1069.2,534.5 1073.8,543.1 1078.3,551.9 1082.6,560.8 1086.7,569.8 1090.5,578.9 1094.2,588.1 1097.6,597.4 1100.8,606.8 1103.8,616.2 1106.6,625.7 1109.2,635.3 1111.5,645.0 1113.6,654.7 1115.5,664.4 1117.2,674.2 1118.6,684.1 1119.8,694.0 1120.8,703.9 1121.5,713.8 1122.0,723.8 1122.3,733.7 1122.4,743.7 1122.2,753.7 1121.8,763.7 1121.1,773.7 1120.3,783.7 1119.1,793.6 1117.8,803.5 1116.2,813.4 1114.4,823.3 1112.4,833.1 1110.1,842.9 1107.6,852.6 1104.9,862.3 1101.9,871.9 1098.8,881.5 1095.4,891.0 1091.7,900.4 1087.9,909.7 1083.8,919.0 1079.6,928.1 1075.1,937.2 1070.4,946.1 1065.5,954.9 1060.3,963.7 1055.0,972.3 1049.5,980.8 1043.8,989.1 1037.8,997.4 1031.7,1005.5 1025.4,1013.4 1018.9,1021.3 1012.2,1028.9 1005.4,1036.4 998.3,1043.8 991.1,1051.0 983.8,1058.0 976.2,1064.9 968.5,1071.6 960.6,1078.1 952.6,1084.4 944.4,1090.5 936.1,1096.5 927.7,1102.2 919.1,1107.8 910.3,1113.2 901.5,1118.3 892.5,1123.3 883.4,1128.1 874.2,1132.6 864.9,1136.9 855.5,1141.0 846.0,1144.9 836.3,1148.6 826.6,1152.1 816.9,1155.3 807.0,1158.3 797.1,1161.1 787.0,1163.6 777.0,1165.9 766.9,1168.0 756.7,1169.8 746.5,1171.4 736.2,1172.8 725.9,1173.9 715.6,1174.8 705.2,1175.5 694.9,1175.9 684.5,1176.0 674.1,1176.0 663.7,1175.6 653.3,1175.1 643.0,1174.3 632.6,1173.2 622.3,1171.9 612.0,1170.4 601.7,1168.6 591.4,1166.6 581.2,1164.4 571.1,1161.9 561.0,1159.2 551.0,1156.2 541.0,1153.0 531.1,1149.6 521.3,1146.0 511.6,1142.1 501.9,1138.0 492.4,1133.6 482.9,1129.0 473.6,1124.3 464.3,1119.3 455.2,1114.0 446.2,1108.6 437.3,1102.9 428.5,1097.1 419.9,1091.0 411.4,1084.8 403.1,1078.3 394.9,1071.6 386.9,1064.8 379.0,1057.8 371.3,1050.5 363.7,1043.1 356.3,1035.5 349.1,1027.8 342.1,1019.8 335.2,1011.7 328.6,1003.5 322.1,995.1 315.8,986.5 309.7,977.8 303.9,968.9 298.2,959.9 292.7,950.8 287.5,941.5 282.4,932.1 277.6,922.6 273.0,913.0 268.6,903.2 264.5,893.4 260.6,883.4 256.9,873.4 253.4,863.3 250.2,853.1 247.2,842.8 244.4,832.4 241.9,822.0 239.7,811.5 237.6,801.0 235.8,790.4 234.3,779.8 233.0,769.1 232.0,758.4 231.2,747.6 230.7,736.9 230.4,726.1 230.3,715.3 230.5,704.5 231.0,693.8 231.7,683.0 232.7,672.2 233.9,661.5 235.4,650.8 237.1,640.1 239.1,629.4 241.3,618.8 243.8,608.3 246.5,597.7 249.4,587.3 252.6,576.9 256.1,566.6 259.7,556.4 263.7,546.2 267.8,536.2 272.2,526.2 276.9,516.4 281.7,506.6 286.8,497.0 292.1,487.4 297.7,478.0 303.4,468.7 309.4,459.6 315.6,450.6 322.0,441.7 328.6,433.0 335.4,424.4 342.4,416.0 349.6,407.7 357.1,399.6 364.7,391.7 372.4,384.0 380.4,376.4 388.6,369.0 396.9,361.8 405.4,354.8 414.0,348.0 422.8,341.4 431.8,335.0 440.9,328.8 450.2,322.8 459.6,317.0 469.2,311.5 478.9,306.2 488.7,301.1 498.6,296.2 508.7,291.5 518.8,287.1 529.1,282.9 539.4,279.0 549.9,275.3 560.5,271.8 571.1,268.6 581.8,265.6 592.6,262.9 603.4,260.4 614.3,258.2 625.3,256.2 636.3,254.5 647.4,253.1 658.4,251.9 669.6,250.9 680.7,250.3 691.9,249.8 703.1,249.7 714.2,249.8 725.4,250.1 736.6,250.8 747.8,251.6 758.9,252.8 770.0,254.2 781.1,255.8 792.2,257.8 803.2,259.9 814.2,262.4 825.1,265.1 836.0,268.0 846.8,271.2 857.5,274.7 868.1,278.4 878.7,282.3 889.1,286.5 899.5,290.9 909.8,295.6 920.0,300.6 930.0,305.7 939.9,311.1 949.8,316.7 959.4,322.6 969.0,328.7 978.4,335.0 987.7,341.5 996.8,348.3 1005.8,355.3 1014.6,362.4 1023.2,369.8 1031.7,377.4 1040.0,385.2 1048.1,393.2 1056.0,401.3 1063.7,409.7 1071.3,418.2 1078.6,426.9 1085.8,435.8 1092.7,444.9 1099.5,454.1 1106.0,463.5 1112.3,473.0 1118.4,482.7 1124.2,492.6 1129.9,502.5 1135.3,512.6 1140.4,522.9 1145.4,533.2 1150.1,543.7 1154.5,554.3 1158.7,565.0 1162.7,575.7 1166.4,586.6 1169.8,597.6 1173.0,608.7 1176.0,619.8 1178.7,631.0 1181.1,642.3 1183.2,653.6 1185.1,665.0 1186.8,676.4 1188.1,687.9 1189.2,699.4 1190.1,710.9 1190.6,722.5 1190.9,734.0 1190.9,745.6 1190.7,757.2 1190.2,768.8 1189.4,780.3 1188.4,791.9 1187.0,803.4 1185.4,814.9 1183.6,826.4 1181.4,837.8 1179.1,849.2 1176.4,860.6 1173.5,871.8 1170.3,883.0 1166.8,894.2 1163.1,905.2 1159.2,916.2 1154.9,927.1 1150.4,937.9 1145.7,948.6 1140.7,959.1 1135.5,969.6 1130.0,980.0 1124.3,990.2 1118.4,1000.3 1112.2,1010.2 1105.7,1020.0 1099.1,1029.7 1092.2,1039.2 1085.1,1048.6 1077.8,1057.7 1070.2,1066.8 1062.5,1075.6 1054.5,1084.3 1046.4,1092.8 1038.0,1101.1 1029.4,1109.2 1020.7,1117.1 1011.8,1124.8 1002.6,1132.3 993.3,1139.6 983.9,1146.6 974.2,1153.5 964.5,1160.1 954.5,1166.5 944.4,1172.7 934.2,1178.7 923.8,1184.4 913.2,1189.8 902.6,1195.0 891.8,1200.0 880.9,1204.7 869.9,1209.2 858.8,1213.4 847.6,1217.4 836.3,1221.1 824.9,1224.5 813.4,1227.7 801.8,1230.6 790.2,1233.2 778.5,1235.6 766.7,1237.7 754.9,1239.5 743.1,1241.0 731.2,1242.3 719.3,1243.3 707.4,1244.0 695.4,1244.5 683.4,1244.6 671.4,1244.5 659.5,1244.1 647.5,1243.4 635.5,1242.5 623.6,1241.2 611.7,1239.7 599.8,1237.9 587.9,1235.8 576.1,1233.5 564.4,1230.9 552.7,1228.0 541.1,1224.8 529.5,1221.4 518.1,1217.7 506.7,1213.7 495.4,1209.4 484.2,1204.9 473.1,1200.2 462.1,1195.1 451.2,1189.9 440.4,1184.3 429.8,1178.5 419.3,1172.5 408.9,1166.2 398.7,1159.7 388.7,1152.9 378.7,1145.9 369.0,1138.7 359.4,1131.2 350.0,1123.5 340.8,1115.6 331.7,1107.5 322.9,1099.1 314.2,1090.6 305.7,1081.8 297.4,1072.9 289.4,1063.7 281.5,1054.4 273.9,1044.9 266.5,1035.2 259.3,1025.3 252.3,1015.2 245.6,1005.0 239.1,994.7 232.8,984.1 226.8,973.5 221.0,962.7 215.5,951.7 210.2,940.6 205.2,929.4 200.5,918.1 196.0,906.7 191.8,895.1 187.8,883.5 184.2,871.7 180.8,859.9 177.6,848.0 174.8,836.0 172.2,824.0 169.9,811.9 167.9,799.7 166.2,787.5 164.7,775.2 163.5,762.9 162.7,750.6 162.1,738.2 161.8,725.9 161.8,713.5 162.0,701.1 162.6,688.7 163.5,676.3 164.6,664.0 166.0,651.7 167.7,639.4 169.7,627.1 172.0,614.9 174.6,602.7 177.5,590.6 180.6,578.6 184.0,566.6 187.7,554.7 191.7,542.9 195.9,531.2 200.5,519.6 205.3,508.1 210.3,496.7 215.7,485.4 221.3,474.2 227.1,463.1 233.2,452.2 239.6,441.5 246.2,430.8 253.1,420.4 260.2,410.1 267.6,399.9 275.2,389.9 283.0,380.1 291.1,370.5 299.4,361.1 307.9,351.8 316.6,342.8 325.5,333.9 334.7,325.3 344.0,316.8 353.6,308.6 363.3,300.6 373.3,292.8 383.4,285.3 393.7,278.0 404.1,270.9 414.8,264.1 425.5,257.5 436.5,251.2 447.6,245.1 458.8,239.3 470.2,233.7 481.7,228.4 493.3,223.4 505.1,218.7 517.0,214.2 528.9,210.0 541.0,206.0 553.2,202.4 565.4,199.0 577.8,195.9 590.2,193.1 602.6,190.6 615.2,188.4 627.8,186.5 640.4,184.8 653.1,183.5 665.8,182.5 678.6,181.7 691.3,181.2 704.1,181.1 716.9,181.2 729.6,181.7 742.4,182.4 755.2,183.4 767.9,184.8 780.6,186.4 793.3,188.3 805.9,190.5 818.5,193.1 831.0,195.9 843.5,199.0 855.9,202.4 868.2,206.0 880.4,210.0 892.5,214.3 904.6,218.8 916.5,223.6 928.4,228.7 940.1,234.1 951.7,239.7 963.1,245.6 974.4,251.8 985.6,258.3 996.7,265.0 1007.5,272.0 1018.3,279.2 1028.8,286.7 1039.2,294.4 1049.4,302.3 1059.4,310.5 1069.3,319.0 1078.9,327.7 1088.3,336.6 1097.6,345.7 1106.6,355.0 1115.4,364.6 1124.0,374.3 1132.3,384.3 1140.5,394.4 1148.4,404.8 1156.0,415.3 1163.4,426.0 1170.6,436.9 1177.5,447.9 1184.1,459.1 1190.5,470.5 1196.7,482.0 1202.5,493.7 1208.1,505.5 1213.4,517.4 1218.5,529.5 1223.2,541.7 1227.7,554.0 1231.9,566.4 1235.8,578.9 1239.4,591.5 1242.8,604.2 1245.8,616.9 1248.5,629.8 1251.0,642.7 1253.1,655.6 1254.9,668.6 1256.4,681.7 1257.7,694.8 1258.6,707.9 1259.2,721.1 1259.5,734.2 1259.5,747.4 1259.2,760.6 1258.6,773.8 1257.7,786.9 1256.5,800.1 1254.9,813.2 1253.1,826.3 1250.9,839.3 1248.5,852.3 1245.8,865.3 1242.7,878.1 1239.3,890.9 1235.7,903.7 1231.8,916.3 1227.5,928.9 1223.0,941.4 1218.1,953.7 1213.0,966.0 1207.6,978.1 1201.9,990.1 1196.0,1002.0 1189.7,1013.7 1183.2,1025.3 1176.4,1036.8 1169.4,1048.1 1162.0,1059.2 1154.5,1070.2 1146.6,1081.0 1138.5,1091.6 1130.2,1102.0 1121.6,1112.2 1112.8,1122.3 1103.7,1132.1 1094.4,1141.7 1084.9,1151.1 1075.2,1160.3 1065.2,1169.2 1055.1,1178.0 1044.7,1186.5 1034.1,1194.7 1023.4,1202.7 1012.4,1210.5 1001.3,1218.0 990.0,1225.2 978.5,1232.2 966.9,1238.9 955.1,1245.4 943.1,1251.6 931.0,1257.5 918.8,1263.1 906.4,1268.4 893.9,1273.5 881.3,1278.2 868.6,1282.7 855.7,1286.8 842.8,1290.7 829.8,1294.3 816.7,1297.6 803.5,1300.5 790.2,1303.2 776.9,1305.5 763.5,1307.6 750.1,1309.3 736.6,1310.7 723.1,1311.8 709.6,1312.6 696.0,1313.0 682.4,1313.2 668.9,1313.0 655.3,1312.6 641.7,1311.8 628.2,1310.7 614.6,1309.2 601.1,1307.5 587.7,1305.4 574.3,1303.1 560.9,1300.4 547.6,1297.4 534.4,1294.1 521.2,1290.5 508.2,1286.6 495.2,1282.3 482.3,1277.8 469.5,1273.0 456.8,1267.9 444.3,1262.4 431.8,1256.7 419.5,1250.7 407.4,1244.4 395.3,1237.8 383.5,1231.0 371.8,1223.8 360.2,1216.4 348.8,1208.8 337.6,1200.8 326.6,1192.6 315.8,1184.1 305.2,1175.4 294.7,1166.4 284.5,1157.2 274.5,1147.8 264.7,1138.1 255.1,1128.2 245.8,1118.0 236.7,1107.7 227.8,1097.1 219.2,1086.3 210.9,1075.3 202.7,1064.2 194.9,1052.8 187.3,1041.2 180.0,1029.5 172.9,1017.6 166.1,1005.5 159.6,993.3 153.4,980.9 147.5,968.4 141.9,955.7 136.5,942.9 131.5,930.0 126.8,916.9 122.3,903.8 118.2,890.5 114.4,877.1 110.8,863.7 107.6,850.1 104.8,836.5 102.2,822.8 99.9,809.1 98.0,795.3 96.4,781.4 95.1,767.5 94.1,753.6 93.5,739.6 93.2,725.7 93.2,711.7 93.5,697.7 94.2,683.8 95.2,669.8 96.5,655.9 98.1,642.0 100.1,628.1 102.4,614.3 105.0,600.5 107.9,586.8 111.1,573.1 114.7,559.5 118.6,546.0 122.8,532.6 127.3,519.3 132.1,506.1 137.2,493.0 142.7,480.0 148.4,467.2 154.4,454.4 160.8,441.8 167.4,429.4 174.3,417.1 181.5,405.0 189.0,393.0 196.8,381.2 204.8,369.6 213.1,358.2 221.7,346.9 230.6,335.9 239.7,325.1 249.0,314.5 258.6,304.0 268.5,293.9 278.6,283.9 288.9,274.2 299.5,264.7 310.2,255.5 321.2,246.5 332.4,237.7 343.8,229.3 355.4,221.0 367.2,213.1 379.2,205.4 391.4,198.0 403.7,190.9 416.2,184.1 428.9,177.6 441.7,171.3 454.7,165.4 467.8,159.8 481.0,154.4 494.4,149.4 507.9,144.7 521.5,140.3 535.2,136.2 549.0,132.4 562.9,129.0 576.8,125.8 590.9,123.0 605.0,120.6 619.2,118.4 633.4,116.6 647.7,115.1 662.0,114.0 676.3,113.1 690.7,112.7 705.0,112.5 719.4,112.7 733.8,113.2 748.1,114.1 762.5,115.2 776.8,116.8 791.1,118.6 805.3,120.8 819.5,123.3 833.7,126.2 847.7,129.3 861.7,132.9 875.7,136.7 889.5,140.8 903.2,145.3 916.9,150.1 930.4,155.2 943.8,160.7 957.1,166.4 970.3,172.5 983.3,178.8 996.1,185.5 1008.9,192.5 1021.4,199.8 1033.8,207.3 1046.0,215.2 1058.0,223.3 1069.9,231.7 1081.5,240.4 1093.0,249.4 1104.2,258.6 1115.3,268.1 1126.1,277.9 1136.6,287.9 1147.0,298.1 1157.1,308.6 1167.0,319.4 1176.6,330.3 1186.0,341.5 1195.1,352.9 1203.9,364.5 1212.5,376.4 1220.8,388.4 1228.8,400.6 1236.6,413.1 1244.0,425.7 1251.2,438.4 1258.0,451.4 1264.6,464.5 1270.8,477.7 1276.8,491.1 1282.4,504.7 1287.7,518.4 1292.8,532.2 1297.4,546.1 1301.8,560.1 1305.8,574.2 1309.5,588.5 1312.9,602.8 1316.0,617.2 1318.7,631.7 1321.0,646.2 1323.1,660.8 1324.8,675.5 1326.1,690.1 1327.1,704.9 1327.8,719.6 1328.1,734.4 1328.1,749.1 1327.7,763.9 1327.0,778.7 1326.0,793.4 1324.6,808.2 1322.8,822.9 1320.8,837.5 1318.3,852.1 1315.6,866.7 1312.5,881.2 1309.0,895.6 1305.3,910.0 1301.1,924.2 1296.7,938.4 1291.9,952.5 1286.8,966.4 1281.4,980.3 1275.6,994.0 1269.6,1007.6 1263.2,1021.0 1256.5,1034.3 1249.5,1047.4 1242.2,1060.4 1234.5,1073.2 1226.6,1085.9 1218.4,1098.3 1209.9,1110.6 1201.1,1122.7 1192.0,1134.5 1182.7,1146.2 1173.0,1157.6 1163.1,1168.8 1153.0,1179.8 1142.6,1190.6 1131.9,1201.1 1121.0,1211.3 1109.9,1221.3 1098.5,1231.1 1086.9,1240.6 1075.0,1249.8 1063.0,1258.7 1050.7,1267.4 1038.2,1275.8 1025.6,1283.9 1012.7,1291.7 999.7,1299.2 986.5,1306.4 973.1,1313.3 959.6,1319.8 945.9,1326.1 932.0,1332.1 918.0,1337.7 903.9,1343.0 889.7,1348.0 875.3,1352.6 860.8,1356.9 846.3,1360.9 831.6,1364.5 816.9,1367.8 802.0,1370.7 787.1,1373.3 772.2,1375.6 757.1,1377.5 742.1,1379.1 727.0,1380.3 711.8,1381.1 696.7,1381.6 681.5,1381.8 666.4,1381.6 651.2,1381.0 636.0,1380.1 620.9,1378.9 605.8,1377.3 590.7,1375.3 575.7,1373.0 560.7,1370.3 545.8,1367.3 530.9,1363.9 516.1,1360.2 501.5,1356.2 486.9,1351.8 472.4,1347.0 458.0,1342.0 443.7,1336.5 429.6,1330.8 415.5,1324.7 401.7,1318.3 387.9,1311.6 374.4,1304.6 361.0,1297.2 347.7,1289.5 334.7,1281.5 321.8,1273.2 309.1,1264.7 296.6,1255.8 284.3,1246.6 272.2,1237.1 260.4,1227.4 248.8,1217.4 237.4,1207.1 226.2,1196.5 215.3,1185.7 204.6,1174.6 194.2,1163.3 184.1,1151.7 174.2,1139.9 164.6,1127.9 155.3,1115.6 146.3,1103.1 137.5,1090.4 129.1,1077.5 120.9,1064.4 113.1,1051.1 105.5,1037.6 98.3,1024.0 91.4,1010.2 84.8,996.2 78.5,982.1 72.6,967.8 67.0,953.3 61.7,938.8 56.8,924.1 52.2,909.3 48.0,894.4 44.1,879.4 40.5,864.3 37.3,849.1 34.5,833.9 32.0,818.5 29.9,803.1 28.1,787.7 26.7,772.2 25.6,756.7 24.9,741.2 24.6,725.6 24.6,710.0 25.0,694.5 25.8,678.9 26.9,663.3 28.4,647.8 30.2,632.3 32.4,616.9 35.0,601.5 37.9,586.1 41.2,570.9 44.8,555.7 48.8,540.6 53.1,525.5 57.8,510.6 62.9,495.8 68.2,481.1 74.0,466.5 80.0,452.0 86.4,437.7 93.2,423.6 100.2,409.6 107.6,395.7 115.4,382.1 123.4,368.6 131.7,355.3 140.4,342.1 149.4,329.2 158.7,316.5 168.2,304.0 178.1,291.8 188.2,279.7 198.7,267.9 209.4,256.3 220.3,245.0 231.6,234.0 243.1,223.2 254.8,212.6 266.8,202.4 279.1,192.4 291.5,182.7 304.2,173.3 317.1,164.1 330.3,155.3 343.6,146.8 357.1,138.6 370.9,130.7 384.8,123.1 398.9,115.9 413.1,109.0 427.6,102.4 442.2,96.1 456.9,90.2 471.7,84.6 486.7,79.4 501.9,74.5 517.1,70.0 532.4,65.8 547.9,62.0 563.4,58.6 579.0,55.5 594.7,52.7 610.5,50.4 626.3,48.4 642.1,46.7"/>
<line x1="690.9" y1="462.7" x2="690.1" y2="387.1"/>
<line x1="868.1" y1="517.7" x2="916.1" y2="459.3"/>
<line x1="971.2" y1="678.2" x2="1045.6" y2="664.3"/>
<line x1="946.2" y1="872.6" x2="1012.0" y2="909.7"/>
<line x1="798.1" y1="1008.8" x2="824.7" y2="1079.6"/>
<line x1="591.9" y1="1018.0" x2="566.7" y2="1089.3"/>
<line x1="424.0" y1="889.2" x2="358.9" y2="927.6"/>
<line x1="377.2" y1="677.4" x2="302.6" y2="665.0"/>
<line x1="480.0" y1="480.6" x2="430.9" y2="423.2"/>
<line x1="690.2" y1="394.1" x2="689.4" y2="318.5"/>
<line x1="911.7" y1="464.7" x2="959.7" y2="406.3"/>
<line x1="1038.7" y1="665.6" x2="1113.0" y2="651.8"/>
<line x1="1005.9" y1="906.3" x2="1071.8" y2="943.5"/>
<line x1="822.2" y1="1073.0" x2="848.8" y2="1143.8"/>
<line x1="569.1" y1="1082.7" x2="543.9" y2="1154.0"/>
<line x1="364.9" y1="924.1" x2="299.8" y2="962.5"/>
<line x1="309.5" y1="666.2" x2="234.9" y2="653.8"/>
<line x1="435.4" y1="428.5" x2="386.2" y2="371.1"/>
<line x1="689.5" y1="325.5" x2="688.8" y2="249.9"/>
<line x1="955.3" y1="411.7" x2="1003.3" y2="353.3"/>
<line x1="1106.1" y1="653.0" x2="1180.4" y2="639.2"/>
<line x1="1065.7" y1="940.0" x2="1131.5" y2="977.2"/>
<line x1="846.3" y1="1137.3" x2="872.9" y2="1208.0"/>
<line x1="546.2" y1="1147.4" x2="521.1" y2="1218.7"/>
<line x1="305.8" y1="958.9" x2="240.7" y2="997.4"/>
<line x1="241.8" y1="654.9" x2="167.3" y2="642.6"/>
<line x1="390.8" y1="376.4" x2="341.6" y2="319.0"/>
<line x1="688.8" y1="256.9" x2="688.1" y2="181.3"/>
<line x1="998.9" y1="358.7" x2="1046.9" y2="300.3"/>
<line x1="1173.6" y1="640.5" x2="1247.9" y2="626.6"/>
<line x1="1125.4" y1="973.7" x2="1191.3" y2="1010.9"/>
<line x1="870.4" y1="1201.5" x2="896.9" y2="1272.3"/>
<line x1="523.4" y1="1212.1" x2="498.2" y2="1283.4"/>
<line x1="246.8" y1="993.8" x2="181.7" y2="1032.3"/>
<line x1="174.2" y1="643.7" x2="99.6" y2="631.3"/>
<line x1="346.2" y1="324.3" x2="297.0" y2="266.9"/>
<line x1="688.2" y1="188.3" x2="687.4" y2="112.7"/>
<line x1="1042.4" y1="305.7" x2="1090.4" y2="247.4"/>
<line x1="1241.0" y1="627.9" x2="1315.3" y2="614.0"/>
<line x1="1185.2" y1="1007.4" x2="1251.0" y2="1044.6"/>
<line x1="894.5" y1="1265.7" x2="921.0" y2="1336.5"/>
<line x1="500.6" y1="1276.8" x2="475.4" y2="1348.1"/>
<line x1="187.7" y1="1028.7" x2="122.6" y2="1067.2"/>
<line x1="106.5" y1="632.5" x2="31.9" y2="620.1"/>
<line x1="573.7" y1="497.3" x2="568.3" y2="486.6"/>
<line x1="630.0" y1="473.5" x2="627.1" y2="461.8"/>
<line x1="753.0" y1="467.3" x2="755.7" y2="455.6"/>
<line x1="813.1" y1="485.9" x2="818.4" y2="475.1"/>
<line x1="914.0" y1="562.4" x2="923.6" y2="555.2"/>
<line x1="949.0" y1="616.8" x2="960.0" y2="611.9"/>
<line x1="977.7" y1="743.7" x2="989.7" y2="744.3"/>
<line x1="969.4" y1="809.6" x2="980.9" y2="813.0"/>
<line x1="908.0" y1="928.4" x2="916.8" y2="936.6"/>
<line x1="857.9" y1="974.6" x2="864.6" y2="984.6"/>
<line x1="731.2" y1="1027.4" x2="732.8" y2="1039.3"/>
<line x1="661.4" y1="1030.6" x2="660.1" y2="1042.6"/>
<line x1="527.1" y1="988.5" x2="520.6" y2="998.6"/>
<line x1="470.1" y1="944.9" x2="461.5" y2="953.3"/>
<line x1="392.6" y1="823.3" x2="381.1" y2="826.9"/>
<line x1="376.6" y1="751.6" x2="364.7" y2="752.4"/>
<line x1="396.0" y1="605.1" x2="384.9" y2="600.5"/>
<line x1="430.7" y1="538.4" x2="421.0" y2="531.3"/>
<line x1="542.4" y1="436.3" x2="536.9" y2="425.6"/>
<line x1="613.6" y1="406.9" x2="610.7" y2="395.2"/>
<line x1="768.2" y1="400.4" x2="770.8" y2="388.7"/>
<line x1="843.3" y1="424.2" x2="848.6" y2="413.5"/>
<line x1="968.6" y1="520.9" x2="978.2" y2="513.7"/>
<line x1="1011.8" y1="589.0" x2="1022.7" y2="584.1"/>
<line x1="1046.3" y1="747.1" x2="1058.3" y2="747.6"/>
<line x1="1035.3" y1="828.7" x2="1046.8" y2="832.0"/>
<line x1="958.4" y1="975.0" x2="967.2" y2="983.1"/>
<line x1="896.1" y1="1031.6" x2="902.8" y2="1041.5"/>
<line x1="739.9" y1="1095.5" x2="741.4" y2="1107.4"/>
<line x1="654.1" y1="1098.9" x2="652.8" y2="1110.8"/>
<line x1="490.0" y1="1046.2" x2="483.5" y2="1056.3"/>
<line x1="420.7" y1="992.5" x2="412.1" y2="1000.8"/>
<line x1="327.1" y1="843.7" x2="315.6" y2="847.2"/>
<line x1="308.2" y1="756.3" x2="296.2" y2="757.1"/>
<line x1="332.7" y1="578.6" x2="321.6" y2="573.9"/>
<line x1="375.3" y1="497.9" x2="365.6" y2="490.9"/>
<line x1="511.0" y1="375.3" x2="505.5" y2="364.6"/>
<line x1="597.1" y1="340.3" x2="594.2" y2="328.7"/>
<line x1="783.3" y1="333.5" x2="786.0" y2="321.8"/>
<line x1="873.5" y1="362.6" x2="878.8" y2="351.9"/>
<line x1="1023.2" y1="479.4" x2="1032.8" y2="472.2"/>
<line x1="1074.5" y1="561.2" x2="1085.4" y2="556.3"/>
<line x1="1114.8" y1="750.4" x2="1126.8" y2="751.0"/>
<line x1="1101.2" y1="847.7" x2="1112.7" y2="851.0"/>
<line x1="1008.7" y1="1021.6" x2="1017.5" y2="1029.7"/>
<line x1="934.4" y1="1088.5" x2="941.1" y2="1098.5"/>
<line x1="748.5" y1="1163.5" x2="750.0" y2="1175.5"/>
<line x1="646.8" y1="1167.1" x2="645.5" y2="1179.0"/>
<line x1="452.8" y1="1103.9" x2="446.3" y2="1114.0"/>
<line x1="371.3" y1="1040.1" x2="362.6" y2="1048.4"/>
<line x1="261.5" y1="864.0" x2="250.1" y2="867.5"/>
<line x1="239.7" y1="760.9" x2="227.8" y2="761.7"/>
<line x1="269.4" y1="552.0" x2="258.4" y2="547.4"/>
<line x1="319.9" y1="457.5" x2="310.2" y2="450.5"/>
<line x1="479.6" y1="314.3" x2="474.1" y2="303.6"/>
<line x1="580.6" y1="273.7" x2="577.7" y2="262.1"/>
<line x1="798.5" y1="266.6" x2="801.2" y2="254.9"/>
<line x1="903.7" y1="301.0" x2="908.9" y2="290.3"/>
<line x1="1077.9" y1="437.9" x2="1087.4" y2="430.7"/>
<line x1="1137.2" y1="533.4" x2="1148.2" y2="528.5"/>
<line x1="1183.3" y1="753.7" x2="1195.3" y2="754.3"/>
<line x1="1167.1" y1="866.7" x2="1178.6" y2="870.0"/>
<line x1="1059.1" y1="1068.2" x2="1067.9" y2="1076.3"/>
<line x1="972.7" y1="1145.5" x2="979.4" y2="1155.4"/>
<line x1="757.1" y1="1231.6" x2="758.7" y2="1243.5"/>
<line x1="639.5" y1="1235.3" x2="638.2" y2="1247.2"/>
<line x1="415.7" y1="1161.6" x2="409.2" y2="1171.7"/>
<line x1="321.8" y1="1087.6" x2="313.2" y2="1096.0"/>
<line x1="196.0" y1="884.3" x2="184.6" y2="887.9"/>
<line x1="171.3" y1="765.6" x2="159.3" y2="766.4"/>
<line x1="206.2" y1="525.5" x2="195.1" y2="520.8"/>
<line x1="264.4" y1="417.1" x2="254.7" y2="410.0"/>
<line x1="448.2" y1="253.3" x2="442.7" y2="242.6"/>
<line x1="564.1" y1="207.1" x2="561.2" y2="195.5"/>
<line x1="813.7" y1="199.7" x2="816.3" y2="188.0"/>
<line x1="933.8" y1="239.4" x2="939.1" y2="228.7"/>
<line x1="1132.5" y1="396.4" x2="1142.0" y2="389.1"/>
<line x1="1199.9" y1="505.6" x2="1210.9" y2="500.7"/>
<line x1="1251.8" y1="757.0" x2="1263.8" y2="757.6"/>
<line x1="1233.0" y1="885.7" x2="1244.5" y2="889.1"/>
<line x1="1109.4" y1="1114.7" x2="1118.3" y2="1122.9"/>
<line x1="1010.9" y1="1202.4" x2="1017.6" y2="1212.4"/>
<line x1="765.8" y1="1299.7" x2="767.3" y2="1311.6"/>
<line x1="632.2" y1="1303.5" x2="630.9" y2="1315.4"/>
<line x1="378.6" y1="1219.3" x2="372.1" y2="1229.3"/>
<line x1="272.4" y1="1135.2" x2="263.8" y2="1143.5"/>
<line x1="130.5" y1="904.6" x2="119.0" y2="908.2"/>
<line x1="102.9" y1="770.2" x2="90.9" y2="771.1"/>
<line x1="142.9" y1="498.9" x2="131.9" y2="494.3"/>
<line x1="209.0" y1="376.7" x2="199.3" y2="369.6"/>
<line x1="301.9" y1="272.5" x2="294.1" y2="263.4"/>
<line x1="416.8" y1="192.3" x2="411.3" y2="181.6"/>
</g>
<g stroke="#fff" stroke-width="1" shape-rendering="crispEdges">
<line x1="584.3" y1="101.5" x2="584.3" y2="107.5"/>
<line x1="635.3" y1="95.0" x2="635.3" y2="101.0"/>
</g>
<g class="dl">
<text x="727.2" y="476.9" transform="rotate(7.58 727.2 476.9)" lengthAdjust="spacingAndGlyphs" textLength="65.0">03-Nov</text>
<text x="887.1" y="552.0" transform="rotate(47.41 887.1 552.0)" lengthAdjust="spacingAndGlyphs" textLength="65.0">06-Nov</text>
<text x="963.8" y="717.2" transform="rotate(87.28 963.8 717.2)" lengthAdjust="spacingAndGlyphs" textLength="65.0">09-Nov</text>
<text x="923.9" y="904.7" transform="rotate(-52.83 923.9 904.7)" lengthAdjust="spacingAndGlyphs" textLength="65.0">12-Nov</text>
<text x="760.0" y="1019.3" transform="rotate(-12.94 760.0 1019.3)" lengthAdjust="spacingAndGlyphs" textLength="65.0">15-Nov</text>
<text x="555.5" y="1001.4" transform="rotate(26.95 555.5 1001.4)" lengthAdjust="spacingAndGlyphs" textLength="65.0">18-Nov</text>
<text x="406.6" y="852.7" transform="rotate(66.85 406.6 852.7)" lengthAdjust="spacingAndGlyphs" textLength="65.0">21-Nov</text>
<text x="397.9" y="641.0" transform="rotate(286.75 397.9 641.0)" lengthAdjust="spacingAndGlyphs" textLength="65.0">24-Nov</text>
<text x="519.7" y="465.8" transform="rotate(326.66 519.7 465.8)" lengthAdjust="spacingAndGlyphs" textLength="65.0">27-Nov</text>
<text x="730.6" y="408.2" transform="rotate(6.58 730.6 408.2)" lengthAdjust="spacingAndGlyphs" textLength="65.0">30-Nov</text>
<text x="933.9" y="501.7" transform="rotate(46.48 933.9 501.7)" lengthAdjust="spacingAndGlyphs" textLength="65.0">03-Dec</text>
<text x="1031.9" y="708.5" transform="rotate(86.37 1031.9 708.5)" lengthAdjust="spacingAndGlyphs" textLength="65.0">06-Dec</text>
<text x="981.9" y="941.6" transform="rotate(-53.74 981.9 941.6)" lengthAdjust="spacingAndGlyphs" textLength="65.0">09-Dec</text>
<text x="780.9" y="1084.7" transform="rotate(-13.84 780.9 1084.7)" lengthAdjust="spacingAndGlyphs" textLength="65.0">12-Dec</text>
<text x="529.6" y="1065.0" transform="rotate(26.07 529.6 1065.0)" lengthAdjust="spacingAndGlyphs" textLength="65.0">15-Dec</text>
<text x="345.9" y="884.9" transform="rotate(65.97 345.9 884.9)" lengthAdjust="spacingAndGlyphs" textLength="65.0">18-Dec</text>
<text x="330.8" y="626.8" transform="rotate(285.88 330.8 626.8)" lengthAdjust="spacingAndGlyphs" textLength="65.0">21-Dec</text>
<text x="477.2" y="411.8" transform="rotate(325.80 477.2 411.8)" lengthAdjust="spacingAndGlyphs" textLength="65.0">24-Dec</text>
<text x="732.6" y="339.6" transform="rotate(5.72 732.6 339.6)" lengthAdjust="spacingAndGlyphs" textLength="65.0">27-Dec</text>
<text x="979.4" y="450.3" transform="rotate(45.63 979.4 450.3)" lengthAdjust="spacingAndGlyphs" textLength="65.0">30-Dec</text>
<text x="1099.8" y="698.4" transform="rotate(85.55 1099.8 698.4)" lengthAdjust="spacingAndGlyphs" textLength="65.0">02-Jan</text>
<text x="1040.6" y="977.3" transform="rotate(-54.53 1040.6 977.3)" lengthAdjust="spacingAndGlyphs" textLength="65.0">05-Jan</text>
<text x="802.9" y="1149.7" transform="rotate(-14.61 802.9 1149.7)" lengthAdjust="spacingAndGlyphs" textLength="65.0">08-Jan</text>
<text x="504.7" y="1129.0" transform="rotate(25.32 504.7 1129.0)" lengthAdjust="spacingAndGlyphs" textLength="65.0">11-Jan</text>
<text x="285.8" y="918.0" transform="rotate(65.25 285.8 918.0)" lengthAdjust="spacingAndGlyphs" textLength="65.0">14-Jan</text>
<text x="263.5" y="613.3" transform="rotate(285.18 263.5 613.3)" lengthAdjust="spacingAndGlyphs" textLength="65.0">17-Jan</text>
<text x="434.3" y="358.2" transform="rotate(325.12 434.3 358.2)" lengthAdjust="spacingAndGlyphs" textLength="65.0">20-Jan</text>
<text x="734.1" y="271.0" transform="rotate(5.05 734.1 271.0)" lengthAdjust="spacingAndGlyphs" textLength="65.0">23-Jan</text>
<text x="1024.6" y="398.6" transform="rotate(44.98 1024.6 398.6)" lengthAdjust="spacingAndGlyphs" textLength="65.0">26-Jan</text>
<text x="1167.6" y="687.6" transform="rotate(84.89 1167.6 687.6)" lengthAdjust="spacingAndGlyphs" textLength="65.0">29-Jan</text>
<text x="1099.6" y="1012.3" transform="rotate(-55.19 1099.6 1012.3)" lengthAdjust="spacingAndGlyphs" textLength="65.0">01-Feb</text>
<text x="825.8" y="1214.4" transform="rotate(-15.27 825.8 1214.4)" lengthAdjust="spacingAndGlyphs" textLength="65.0">04-Feb</text>
<text x="480.9" y="1193.3" transform="rotate(24.65 480.9 1193.3)" lengthAdjust="spacingAndGlyphs" textLength="65.0">07-Feb</text>
<text x="226.2" y="952.1" transform="rotate(64.58 226.2 952.1)" lengthAdjust="spacingAndGlyphs" textLength="65.0">10-Feb</text>
<text x="195.9" y="601.3" transform="rotate(284.51 195.9 601.3)" lengthAdjust="spacingAndGlyphs" textLength="65.0">13-Feb</text>
<text x="390.1" y="305.7" transform="rotate(324.43 390.1 305.7)" lengthAdjust="spacingAndGlyphs" textLength="65.0">16-Feb</text>
<text x="733.8" y="202.4" transform="rotate(4.37 733.8 202.4)" lengthAdjust="spacingAndGlyphs" textLength="65.0">19-Feb</text>
<text x="1068.4" y="345.8" transform="rotate(44.30 1068.4 345.8)" lengthAdjust="spacingAndGlyphs" textLength="65.0">22-Feb</text>
<text x="1235.1" y="675.3" transform="rotate(84.23 1235.1 675.3)" lengthAdjust="spacingAndGlyphs" textLength="65.0">25-Feb</text>
<text x="1159.3" y="1046.1" transform="rotate(-55.84 1159.3 1046.1)" lengthAdjust="spacingAndGlyphs" textLength="65.0">28-Feb</text>
<text x="849.8" y="1278.7" transform="rotate(-15.90 849.8 1278.7)" lengthAdjust="spacingAndGlyphs" textLength="65.0">02-Mar</text>
<text x="458.0" y="1258.0" transform="rotate(24.04 458.0 1258.0)" lengthAdjust="spacingAndGlyphs" textLength="65.0">05-Mar</text>
<text x="167.2" y="987.0" transform="rotate(63.98 167.2 987.0)" lengthAdjust="spacingAndGlyphs" textLength="65.0">08-Mar</text>
<text x="128.3" y="589.9" transform="rotate(283.92 128.3 589.9)" lengthAdjust="spacingAndGlyphs" textLength="65.0">11-Mar</text>
</g>
<g>
<circle cx="898.1" cy="950.1" r="14.5" fill="#ababab"/>
<circle cx="738.9" cy="1103.2" r="14.5" fill="#ababab"/>
<circle cx="491.4" cy="1133.2" r="14.5" fill="#ababab"/>
<circle cx="247.0" cy="1007.3" r="14.5" fill="#ababab"/>
<circle cx="93.2" cy="710.1" r="14.5" fill="#ababab"/>
<circle cx="494.1" cy="459.5" r="14" fill="none" stroke="#ababab" stroke-width="2"/>
<circle cx="687.0" cy="318.6" r="14" fill="none" stroke="#ababab" stroke-width="2"/>
<circle cx="987.8" cy="341.6" r="14" fill="none" stroke="#ababab" stroke-width="2"/>
<circle cx="1232.0" cy="566.7" r="14" fill="none" stroke="#ababab" stroke-width="2"/>
</g>
<g fill="none" stroke="#000" stroke-width="1" shape-rendering="crispEdges">
<polyline points="561.3,496.0 566.7,492.7 572.1,489.6 577.6,486.6 583.2,483.8 588.9,481.0 594.6,478.4 600.4,476.0 606.2,473.6 612.2,471.4 618.1,469.4 624.1,467.4 630.2,465.6 636.3,464.0 642.5,462.5 648.7,461.1 654.9,459.9 661.2,458.8 667.4,457.9 673.8,457.1 680.1,456.5 686.5,456.0 692.8,455.6 699.2,455.4 705.6,455.4 712.0,455.5 718.4,455.7 724.8,456.1 731.2,456.7 737.6,457.4 744.0,458.2 750.3,459.2 756.7,460.4 763.0,461.7 769.3,463.1 775.5,464.7 781.7,466.5 787.9,468.3 794.1,470.4 800.2,472.5 806.3,474.9 812.3,477.3 818.2,479.9 824.1,482.7 830.0,485.6 835.7,488.6 841.4,491.7 847.1,495.0 852.7,498.4 858.1,502.0 863.6,505.7 868.9,509.5 874.1,513.5 879.3,517.5 884.3,521.7 889.3,526.0 894.2,530.5 898.9,535.0 903.6,539.7 908.2,544.4 912.6,549.3 917.0,554.3 921.2,559.4 925.3,564.6 929.3,569.9 933.2,575.3 936.9,580.7 940.6,586.3 944.1,592.0 947.4,597.7 950.7,603.6 953.8,609.5 956.7,615.4 959.5,621.5 962.2,627.6 964.8,633.8 967.2,640.1 969.4,646.4 971.6,652.8 973.5,659.2 975.3,665.7 977.0,672.2 978.5,678.7 979.9,685.3 981.1,692.0 982.2,698.7 983.1,705.3 983.8,712.1 984.4,718.8 984.9,725.6 985.1,732.4 985.2,739.2 985.2,745.9 985.0,752.7 984.7,759.5 984.1,766.3 983.5,773.1 982.6,779.9 981.7,786.7 980.5,793.4 979.2,800.1 977.7,806.8 976.1,813.5 974.3,820.1 972.4,826.7 970.3,833.2 968.1,839.7 965.7,846.2 963.2,852.6 960.5,858.9 957.6,865.2 954.6,871.5 951.5,877.6 948.2,883.7 944.8,889.7 941.2,895.7 937.5,901.5 933.6,907.3 929.6,913.0 925.5,918.6 921.3,924.1 916.9,929.5 912.4,934.8 907.7,940.0 903.0,945.1 898.1,950.1 893.1,955.0 888.0,959.8 882.7,964.5 877.4,969.0 871.9,973.4 866.3,977.7 860.7,981.9 854.9,985.9 849.0,989.8 843.1,993.6 837.0,997.2 830.9,1000.7 824.7,1004.0 818.4,1007.3 812.0,1010.3 805.5,1013.2 799.0,1016.0 792.4,1018.6 785.8,1021.1 779.0,1023.4 772.3,1025.5 765.4,1027.5 758.5,1029.4 751.6,1031.1 744.6,1032.6 737.6,1033.9 730.6,1035.1 723.5,1036.2 716.4,1037.0 709.2,1037.7 702.1,1038.3 694.9,1038.6 687.7,1038.8 680.5,1038.9 673.4,1038.8 666.2,1038.5 659.0,1038.0 651.8,1037.4 644.6,1036.6 637.4,1035.6 630.3,1034.4 623.2,1033.1 616.1,1031.7 609.0,1030.0 602.0,1028.2 595.0,1026.3 588.1,1024.1 581.2,1021.8 574.3,1019.4 567.5,1016.8 560.8,1014.0 554.1,1011.0 547.5,1008.0 540.9,1004.7 534.4,1001.3 528.0,997.7 521.7,994.0 515.5,990.2 509.3,986.2 503.3,982.0 497.3,977.7 491.4,973.3 485.7,968.7 480.0,964.0 474.4,959.2 469.0,954.2 463.7,949.1 458.4,943.9 453.3,938.5 448.4,933.0 443.5,927.4 438.8,921.7 434.2,915.9 429.7,910.0 425.4,903.9 421.2,897.8 417.2,891.5 413.3,885.2 409.5,878.7 405.9,872.2 402.4,865.6 399.1,858.9 396.0,852.1 393.0,845.2 390.1,838.3 387.5,831.3 385.0,824.2 382.6,817.1 380.4,809.9 378.4,802.7 376.5,795.4 374.9,788.0 373.3,780.6 372.0,773.2 370.8,765.7 369.8,758.3 369.0,750.7 368.4,743.2 367.9,735.6 367.6,728.1 367.5,720.5 367.5,712.9 367.8,705.3 368.2,697.7 368.8,690.1 369.5,682.5 370.5,675.0 371.6,667.4 372.9,659.9 374.3,652.4 376.0,644.9 377.8,637.5 379.8,630.1 382.0,622.8 384.3,615.5 386.8,608.2 389.5,601.0 392.4,593.9 395.4,586.8 398.6,579.8 401.9,572.9 405.4,566.0 409.1,559.2 412.9,552.5 416.9,545.9 421.1,539.4 425.4,532.9 429.8,526.6 434.4,520.3 439.2,514.2 444.1,508.2 449.1,502.3 454.3,496.5 459.6,490.8 465.1,485.2 470.6,479.8 476.4,474.5 482.2,469.3 488.2,464.3 494.2,459.4 500.4,454.6 506.8,450.0 513.2,445.5 519.7,441.2 526.4,437.0 533.1,432.9 539.9,429.1 546.9,425.4 553.9,421.8 561.0,418.4 568.2,415.2 575.4,412.1 582.8,409.2 590.2,406.5 597.7,403.9 605.2,401.5 612.8,399.3 620.5,397.3 628.2,395.4 635.9,393.7 643.7,392.2 651.6,390.9 659.4,389.8 667.3,388.8 675.3,388.1 683.2,387.5 691.2,387.1 699.2,386.9 707.1,386.8 715.1,387.0 723.1,387.3 731.1,387.9 739.1,388.6 747.1,389.5 755.0,390.6 762.9,391.8 770.8,393.3 778.7,394.9 786.5,396.8 794.3,398.8 802.1,401.0 809.8,403.4 817.5,405.9 825.1,408.6 832.6,411.6 840.1,414.6 847.5,417.9 854.8,421.4 862.1,425.0 869.2,428.7 876.3,432.7 883.3,436.8 890.2,441.1 897.1,445.5 903.8,450.2 910.4,454.9 916.9,459.8 923.3,464.9 929.5,470.1 935.7,475.5 941.7,481.0 947.6,486.7 953.4,492.5 959.0,498.4 964.6,504.5 969.9,510.7 975.1,517.1 980.2,523.5 985.2,530.1 989.9,536.8 994.6,543.6 999.0,550.5 1003.4,557.6 1007.5,564.7 1011.5,571.9 1015.3,579.3 1019.0,586.7 1022.4,594.2 1025.7,601.8 1028.9,609.5 1031.8,617.2 1034.6,625.0 1037.2,632.9 1039.6,640.9 1041.8,648.9 1043.9,657.0 1045.7,665.1 1047.4,673.3 1048.9,681.5 1050.2,689.7 1051.2,698.0 1052.1,706.3 1052.9,714.6 1053.4,723.0 1053.7,731.4 1053.8,739.7 1053.7,748.1 1053.5,756.5 1053.0,764.9 1052.4,773.3 1051.5,781.7 1050.5,790.0 1049.2,798.3 1047.8,806.7 1046.1,814.9 1044.3,823.2 1042.3,831.4 1040.1,839.5 1037.7,847.6 1035.1,855.7 1032.3,863.7 1029.4,871.7 1026.2,879.5 1022.9,887.3 1019.3,895.1 1015.6,902.7 1011.8,910.3 1007.7,917.8 1003.5,925.2 999.1,932.5 994.5,939.6 989.7,946.7 984.8,953.7 979.7,960.6 974.5,967.4 969.1,974.0 963.5,980.5 957.8,986.9 951.9,993.2 945.9,999.3 939.7,1005.3 933.4,1011.1 927.0,1016.8 920.4,1022.4 913.7,1027.8 906.9,1033.0 899.9,1038.1 892.8,1043.0 885.6,1047.8 878.3,1052.4 870.9,1056.8 863.4,1061.1 855.7,1065.2 848.0,1069.1 840.2,1072.8 832.3,1076.4 824.2,1079.8 816.2,1082.9 808.0,1085.9 799.8,1088.7 791.5,1091.4 783.1,1093.8 774.7,1096.0 766.2,1098.1 757.6,1099.9 749.1,1101.5 740.4,1103.0 731.8,1104.2 723.1,1105.3 714.4,1106.1 705.6,1106.8 696.9,1107.2 688.1,1107.4 679.3,1107.4 670.5,1107.3 661.7,1106.9 652.9,1106.3 644.2,1105.5 635.4,1104.5 626.7,1103.3 618.0,1101.9 609.3,1100.3 600.6,1098.5 592.0,1096.5 583.5,1094.2 574.9,1091.8 566.5,1089.2 558.1,1086.4 549.7,1083.4 541.4,1080.2 533.2,1076.8 525.1,1073.2 517.0,1069.4 509.1,1065.4 501.2,1061.3 493.4,1056.9 485.7,1052.4 478.1,1047.7 470.7,1042.8 463.3,1037.7 456.1,1032.5 448.9,1027.1 441.9,1021.5 435.0,1015.8 428.3,1009.9 421.7,1003.8 415.2,997.6 408.9,991.2 402.7,984.7 396.6,978.0 390.7,971.2 385.0,964.3 379.4,957.2 374.0,950.0 368.8,942.6 363.7,935.1 358.8,927.5 354.1,919.8 349.6,912.0 345.2,904.1 341.0,896.0 337.0,887.9 333.2,879.7 329.6,871.3 326.2,862.9 322.9,854.4 319.9,845.9 317.0,837.2 314.4,828.5 312.0,819.7 309.7,810.9 307.7,802.0 305.9,793.0 304.3,784.0 302.9,775.0 301.7,765.9 300.7,756.8 299.9,747.7 299.4,738.5 299.0,729.4 298.9,720.2 299.0,711.0 299.3,701.8 299.8,692.6 300.5,683.4 301.4,674.3 302.6,665.1 304.0,656.0 305.5,646.9 307.3,637.9 309.3,628.9 311.5,619.9 314.0,611.0 316.6,602.1 319.4,593.3 322.5,584.5 325.7,575.8 329.2,567.2 332.8,558.7 336.7,550.2 340.7,541.8 345.0,533.6 349.4,525.4 354.1,517.3 358.9,509.3 363.9,501.5 369.1,493.7 374.5,486.1 380.0,478.6 385.8,471.2 391.7,463.9 397.8,456.8 404.0,449.8 410.4,443.0 417.0,436.3 423.8,429.8 430.6,423.4 437.7,417.2 444.9,411.1 452.2,405.2 459.7,399.5 467.3,393.9 475.0,388.5 482.9,383.3 490.9,378.3 499.0,373.5 507.2,368.8 515.6,364.3 524.0,360.1 532.5,356.0 541.2,352.1 549.9,348.4 558.8,345.0 567.7,341.7 576.7,338.6 585.7,335.8 594.9,333.1 604.1,330.7 613.3,328.5 622.6,326.5 632.0,324.7 641.4,323.1 650.9,321.8 660.3,320.6 669.9,319.7 679.4,319.0 688.9,318.5 698.5,318.3 708.1,318.3 717.7,318.5 727.3,318.9 736.8,319.5 746.4,320.4 756.0,321.5 765.5,322.8 775.0,324.3 784.5,326.1 793.9,328.1 803.3,330.3 812.6,332.7 821.9,335.3 831.1,338.2 840.3,341.2 849.4,344.5 858.4,348.0 867.3,351.7 876.2,355.6 885.0,359.8 893.7,364.1 902.2,368.6 910.7,373.4 919.1,378.3 927.3,383.4 935.5,388.8 943.5,394.3 951.4,400.0 959.2,405.9 966.8,411.9 974.3,418.2 981.6,424.6 988.8,431.2 995.9,438.0 1002.8,444.9 1009.5,452.0 1016.1,459.3 1022.5,466.7 1028.7,474.3 1034.8,482.0 1040.7,489.8 1046.4,497.8 1051.9,506.0 1057.2,514.2 1062.4,522.6 1067.3,531.2 1072.1,539.8 1076.6,548.5 1081.0,557.4 1085.1,566.3 1089.0,575.4 1092.8,584.6 1096.3,593.8 1099.6,603.1 1102.7,612.5 1105.5,622.0 1108.2,631.6 1110.6,641.2 1112.8,650.9 1114.8,660.6 1116.5,670.4 1118.1,680.2 1119.4,690.0 1120.4,699.9 1121.3,709.9 1121.9,719.8 1122.2,729.8 1122.4,739.8 1122.3,749.7 1122.0,759.7 1121.4,769.7 1120.6,779.7 1119.6,789.6 1118.4,799.6 1116.9,809.5 1115.2,819.3 1113.2,829.2 1111.1,839.0 1108.6,848.7 1106.0,858.4 1103.2,868.1 1100.1,877.6 1096.8,887.1 1093.2,896.6 1089.5,905.9 1085.5,915.2 1081.3,924.4 1076.9,933.5 1072.3,942.4 1067.5,951.3 1062.5,960.1 1057.2,968.8 1051.8,977.3 1046.2,985.7 1040.3,994.0 1034.3,1002.1 1028.1,1010.2 1021.6,1018.0 1015.0,1025.7 1008.3,1033.3 1001.3,1040.7 994.2,1048.0 986.9,1055.1 979.4,1062.0 971.7,1068.8 964.0,1075.4 956.0,1081.7 947.9,1088.0 939.6,1094.0 931.3,1099.8 922.7,1105.5 914.1,1110.9 905.3,1116.2 896.3,1121.2 887.3,1126.1 878.1,1130.7 868.9,1135.1 859.5,1139.3 850.0,1143.3 840.5,1147.1 830.8,1150.6 821.1,1153.9 811.2,1157.0 801.3,1159.9 791.4,1162.5 781.3,1164.9 771.2,1167.1 761.1,1169.1 750.9,1170.8 740.7,1172.2 730.4,1173.5 720.1,1174.5 709.7,1175.2 699.4,1175.7 689.0,1176.0 678.6,1176.0 668.3,1175.8 657.9,1175.3 647.5,1174.7 637.2,1173.7 626.8,1172.5 616.5,1171.1 606.2,1169.5 596.0,1167.6 585.8,1165.4 575.6,1163.0 565.5,1160.4 555.4,1157.6 545.4,1154.5 535.5,1151.2 525.7,1147.6 515.9,1143.8 506.2,1139.8 496.6,1135.6 487.1,1131.1 477.8,1126.4 468.5,1121.5 459.3,1116.4 450.2,1111.1 441.3,1105.5 432.5,1099.8 423.8,1093.8 415.3,1087.6 406.9,1081.3 398.6,1074.7 390.5,1067.9 382.6,1061.0 374.8,1053.8 367.1,1046.5 359.7,1039.0 352.4,1031.3 345.3,1023.5 338.4,1015.5 331.6,1007.3 325.1,999.0 318.7,990.5 312.5,981.8 306.6,973.0 300.8,964.1 295.2,955.0 289.9,945.8 284.8,936.5 279.8,927.0 275.1,917.5 270.7,907.8 266.4,898.0 262.4,888.1 258.6,878.1 255.0,868.0 251.7,857.9 248.6,847.6 245.7,837.3 243.1,826.9 240.7,816.5 238.6,806.0 236.7,795.4 235.0,784.8 233.6,774.1 232.5,763.5 231.5,752.7 230.9,742.0 230.5,731.2 230.3,720.5 230.4,709.7 230.8,698.9 231.4,688.1 232.2,677.4 233.3,666.6 234.6,655.9 236.2,645.2 238.1,634.5 240.2,623.9 242.5,613.3 245.1,602.8 248.0,592.4 251.0,581.9 254.4,571.6 257.9,561.4 261.7,551.2 265.8,541.1 270.1,531.1 274.6,521.2 279.3,511.4 284.3,501.7 289.5,492.1 294.9,482.6 300.6,473.3 306.4,464.1 312.5,455.0 318.8,446.1 325.3,437.3 332.0,428.6 338.9,420.1 346.0,411.8 353.4,403.6 360.9,395.6 368.6,387.8 376.4,380.1 384.5,372.7 392.7,365.4 401.1,358.3 409.7,351.4 418.4,344.7 427.3,338.2 436.4,331.9 445.5,325.8 454.9,319.9 464.4,314.3 474.0,308.8 483.7,303.6 493.6,298.6 503.6,293.8 513.7,289.3 523.9,285.0 534.2,280.9 544.6,277.1 555.1,273.5 565.7,270.2 576.3,267.1 587.1,264.3 597.9,261.7 608.7,259.3 619.7,257.2 630.7,255.4 641.7,253.8 652.7,252.5 663.8,251.4 675.0,250.6 686.1,250.0 697.3,249.7 708.5,249.7 719.6,249.9 730.8,250.4 742.0,251.1 753.1,252.2 764.3,253.4 775.4,254.9 786.4,256.7 797.5,258.8 808.5,261.1 819.4,263.6 830.3,266.4 841.1,269.5 851.9,272.8 862.5,276.4 873.1,280.2 883.6,284.3 894.1,288.6 904.4,293.1 914.6,297.9 924.7,303.0 934.7,308.2 944.6,313.7 954.3,319.5 963.9,325.4 973.4,331.6 982.8,338.0 992.0,344.7 1001.0,351.5 1009.9,358.6 1018.6,365.8 1027.1,373.3 1035.5,381.0 1043.7,388.9 1051.8,396.9 1059.6,405.2 1067.2,413.6 1074.7,422.2 1082.0,431.0 1089.0,440.0 1095.9,449.1 1102.5,458.4 1108.9,467.9 1115.1,477.5 1121.1,487.2 1126.8,497.1 1132.4,507.1 1137.7,517.3 1142.7,527.5 1147.5,538.0 1152.1,548.5 1156.4,559.1 1160.5,569.8 1164.4,580.6 1168.0,591.6 1171.3,602.6 1174.4,613.7 1177.2,624.8 1179.8,636.0 1182.1,647.3 1184.1,658.7 1185.9,670.1 1187.4,681.5 1188.7,693.0 1189.6,704.5 1190.3,716.0 1190.8,727.6 1191.0,739.2 1190.9,750.7 1190.5,762.3 1189.9,773.9 1189.0,785.5 1187.8,797.0 1186.4,808.5 1184.7,820.0 1182.7,831.4 1180.4,842.8 1177.9,854.2 1175.1,865.5 1172.1,876.7 1168.8,887.9 1165.2,899.0 1161.4,910.0 1157.3,920.9 1153.0,931.8 1148.4,942.5 1143.6,953.2 1138.5,963.7 1133.2,974.1 1127.6,984.4 1121.8,994.5 1115.7,1004.6 1109.4,1014.4 1102.9,1024.2 1096.2,1033.8 1089.2,1043.2 1082.0,1052.5 1074.6,1061.6 1067.0,1070.6 1059.1,1079.3 1051.1,1087.9 1042.8,1096.3 1034.4,1104.5 1025.8,1112.5 1016.9,1120.4 1007.9,1128.0 998.7,1135.4 989.4,1142.6 979.9,1149.6 970.2,1156.3 960.3,1162.8 950.3,1169.2 940.1,1175.2 929.8,1181.1 919.4,1186.7 908.8,1192.0 898.1,1197.1 887.3,1202.0 876.4,1206.6 865.3,1211.0 854.2,1215.1 842.9,1218.9 831.6,1222.5 820.2,1225.8 808.6,1228.9 797.1,1231.7 785.4,1234.2 773.7,1236.5 761.9,1238.5 750.1,1240.2 738.3,1241.6 726.4,1242.7 714.5,1243.6 702.5,1244.2 690.6,1244.6 678.6,1244.6 666.6,1244.4 654.6,1243.9 642.7,1243.1 630.7,1242.0 618.8,1240.7 606.9,1239.0 595.0,1237.1 583.2,1234.9 571.4,1232.5 559.7,1229.8 548.1,1226.8 536.5,1223.5 525.0,1219.9 513.5,1216.1 502.2,1212.0 490.9,1207.7 479.8,1203.1 468.7,1198.2 457.8,1193.1 447.0,1187.7 436.3,1182.1 425.7,1176.2 415.2,1170.1 404.9,1163.7 394.8,1157.1 384.8,1150.2 374.9,1143.1 365.3,1135.8 355.8,1128.2 346.4,1120.5 337.3,1112.5 328.3,1104.3 319.5,1095.9 310.9,1087.2 302.5,1078.4 294.3,1069.4 286.3,1060.2 278.6,1050.8 271.0,1041.2 263.7,1031.4 256.6,1021.5 249.7,1011.4 243.1,1001.1 236.7,990.7 230.5,980.1 224.6,969.4 218.9,958.6 213.5,947.6 208.3,936.4 203.4,925.2 198.8,913.8 194.4,902.4 190.3,890.8 186.4,879.1 182.9,867.4 179.6,855.5 176.5,843.6 173.8,831.6 171.3,819.5 169.1,807.4 167.2,795.2 165.6,783.0 164.3,770.7 163.2,758.4 162.4,746.1 161.9,733.7 161.7,721.3 161.8,709.0 162.2,696.6 162.9,684.2 163.8,671.9 165.1,659.5 166.6,647.2 168.4,635.0 170.5,622.7 172.9,610.5 175.6,598.4 178.5,586.3 181.8,574.3 185.3,562.4 189.1,550.5 193.2,538.8 197.5,527.1 202.1,515.5 207.0,504.0 212.2,492.7 217.6,481.4 223.3,470.3 229.2,459.3 235.4,448.4 241.9,437.7 248.6,427.2 255.6,416.8 262.8,406.5 270.2,396.4 277.9,386.5 285.8,376.8 293.9,367.2 302.3,357.8 310.9,348.7 319.7,339.7 328.7,330.9 337.9,322.3 347.3,314.0 356.9,305.9 366.7,297.9 376.7,290.3 386.9,282.8 397.2,275.6 407.7,268.6 418.4,261.9 429.2,255.4 440.2,249.1 451.4,243.1 462.6,237.4 474.0,231.9 485.6,226.7 497.3,221.8 509.0,217.1 520.9,212.7 532.9,208.6 545.0,204.8 557.2,201.2 569.5,198.0 581.9,195.0 594.3,192.3 606.8,189.9 619.3,187.7 631.9,185.9 644.6,184.4 657.2,183.1 670.0,182.2 682.7,181.5 695.5,181.2 708.2,181.1 721.0,181.3 733.8,181.9 746.5,182.7 759.3,183.8 772.0,185.3 784.7,187.0 797.3,189.0 809.9,191.3 822.5,193.9 835.0,196.8 847.4,200.0 859.8,203.5 872.1,207.3 884.2,211.3 896.3,215.7 908.4,220.3 920.3,225.2 932.0,230.4 943.7,235.8 955.2,241.5 966.7,247.5 977.9,253.8 989.1,260.3 1000.1,267.1 1010.9,274.2 1021.5,281.5 1032.0,289.0 1042.4,296.8 1052.5,304.8 1062.5,313.1 1072.2,321.6 1081.8,330.4 1091.2,339.3 1100.3,348.5 1109.3,357.9 1118.0,367.5 1126.5,377.3 1134.8,387.3 1142.9,397.5 1150.7,407.9 1158.3,418.5 1165.6,429.2 1172.7,440.2 1179.5,451.3 1186.1,462.5 1192.4,473.9 1198.4,485.5 1204.2,497.2 1209.7,509.0 1215.0,521.0 1219.9,533.1 1224.6,545.3 1229.0,557.6 1233.1,570.0 1236.9,582.6 1240.4,595.2 1243.7,607.9 1246.6,620.7 1249.3,633.5 1251.6,646.4 1253.6,659.4 1255.4,672.4 1256.8,685.5 1258.0,698.6 1258.8,711.7 1259.3,724.8 1259.5,738.0 1259.5,751.2 1259.1,764.3 1258.4,777.5 1257.4,790.6 1256.1,803.8 1254.4,816.9 1252.5,829.9 1250.3,843.0 1247.8,855.9 1244.9,868.9 1241.8,881.7 1238.4,894.5 1234.6,907.2 1230.6,919.8 1226.3,932.3 1221.7,944.8 1216.8,957.1 1211.6,969.3 1206.1,981.4 1200.3,993.4 1194.3,1005.2 1188.0,1016.9 1181.4,1028.5 1174.5,1039.9 1167.4,1051.1 1160.0,1062.2 1152.4,1073.1 1144.5,1083.8 1136.3,1094.4 1127.9,1104.7 1119.3,1114.9 1110.4,1124.9 1101.3,1134.7 1091.9,1144.2 1082.4,1153.5 1072.6,1162.7 1062.6,1171.6 1052.4,1180.2 1042.0,1188.6 1031.4,1196.8 1020.6,1204.8 1009.6,1212.5 998.4,1219.9 987.0,1227.1 975.5,1234.0 963.9,1240.6 952.0,1247.0 940.0,1253.1 927.9,1258.9 915.6,1264.5 903.3,1269.7 890.7,1274.7 878.1,1279.4 865.3,1283.8 852.5,1287.9 839.5,1291.6 826.5,1295.1 813.4,1298.3 800.2,1301.2 786.9,1303.8 773.6,1306.1 760.2,1308.0 746.7,1309.7 733.3,1311.0 719.8,1312.0 706.2,1312.7 692.7,1313.1 679.1,1313.2 665.5,1313.0 652.0,1312.4 638.4,1311.5 624.9,1310.3 611.4,1308.8 597.9,1307.0 584.5,1304.9 571.1,1302.5 557.7,1299.7 544.4,1296.6 531.2,1293.3 518.1,1289.6 505.1,1285.6 492.1,1281.3 479.3,1276.7 466.5,1271.8 453.9,1266.6 441.3,1261.1 428.9,1255.3 416.7,1249.3 404.6,1242.9 392.6,1236.3 380.7,1229.4 369.1,1222.2 357.6,1214.7 346.3,1207.0 335.1,1199.0 324.1,1190.7 313.4,1182.2 302.8,1173.4 292.4,1164.4 282.2,1155.1 272.3,1145.6 262.5,1135.9 253.0,1125.9 243.8,1115.7 234.7,1105.3 225.9,1094.7 217.3,1083.9 209.0,1072.9 201.0,1061.7 193.2,1050.3 185.7,1038.7 178.4,1026.9 171.4,1015.0 164.7,1002.9 158.3,990.6 152.1,978.2 146.3,965.6 140.7,953.0 135.4,940.1 130.5,927.2 125.8,914.1 121.4,900.9 117.3,887.7 113.6,874.3 110.1,860.8 107.0,847.3 104.2,833.6 101.7,819.9 99.5,806.2 97.6,792.4 96.1,778.5 94.9,764.6 94.0,750.7 93.4,736.8 93.2,722.8 93.2,708.8 93.6,694.9 94.4,680.9 95.4,667.0 96.8,653.1 98.5,639.2 100.5,625.3 102.9,611.5 105.5,597.7 108.5,584.0 111.8,570.4 115.4,556.9 119.4,543.4 123.6,530.0 128.2,516.7 133.1,503.5 138.3,490.5 143.8,477.5 149.6,464.7 155.6,452.0 162.0,439.4 168.7,427.0 175.7,414.8 182.9,402.7 190.5,390.8 198.3,379.0 206.4,367.4 214.7,356.0 223.4,344.9 232.3,333.9 241.4,323.1 250.8,312.5 260.5,302.1 270.4,292.0 280.5,282.1 290.8,272.4 301.4,263.0 312.2,253.8 323.3,244.9 334.5,236.2 345.9,227.8 357.6,219.6 369.4,211.7 381.4,204.1 393.6,196.8 405.9,189.7 418.5,182.9 431.2,176.5 444.0,170.3 457.0,164.4 470.1,158.8 483.4,153.5 496.7,148.6 510.2,143.9 523.8,139.5 537.6,135.5 551.4,131.8 565.3,128.4 579.2,125.3 593.3,122.6 607.4,120.2 621.6,118.1 635.8,116.3 650.1,114.9 664.4,113.8"/>
<line stroke-width="1.5" x1="618.2" y1="469.3" x2="608.9" y2="437.1"/>
<line stroke-width="1.5" x1="680.2" y1="456.5" x2="678.6" y2="423.0"/>
<line stroke-width="1.5" x1="744.1" y1="458.3" x2="750.2" y2="425.3"/>
<line stroke-width="1.5" x1="806.4" y1="474.9" x2="819.5" y2="445.3"/>
<line stroke-width="1.5" x1="863.7" y1="505.8" x2="883.3" y2="480.0"/>
<line stroke-width="1.5" x1="912.8" y1="549.5" x2="937.2" y2="529.4"/>
<line stroke-width="1.5" x1="950.8" y1="603.8" x2="976.8" y2="591.1"/>
<line stroke-width="1.5" x1="975.4" y1="666.0" x2="1003.3" y2="659.7"/>
<line stroke-width="1.5" x1="985.1" y1="732.8" x2="1013.0" y2="733.0"/>
<line stroke-width="1.5" x1="979.1" y1="800.6" x2="1006.1" y2="807.2"/>
<line stroke-width="1.5" x1="957.4" y1="865.7" x2="982.1" y2="878.4"/>
<line stroke-width="1.5" x1="920.9" y1="924.5" x2="940.9" y2="941.6"/>
<line stroke-width="1.5" x1="871.4" y1="973.8" x2="886.5" y2="994.4"/>
<line stroke-width="1.5" x1="811.4" y1="1010.6" x2="820.8" y2="1033.1"/>
<line stroke-width="1.5" x1="743.9" y1="1032.7" x2="747.4" y2="1053.4"/>
<line stroke-width="1.5" x1="672.6" y1="1038.7" x2="671.3" y2="1057.4"/>
<line stroke-width="1.5" x1="601.2" y1="1028.0" x2="595.5" y2="1046.2"/>
<line stroke-width="1.5" x1="533.6" y1="1000.9" x2="522.6" y2="1019.6"/>
<line stroke-width="1.5" x1="473.7" y1="958.5" x2="455.2" y2="977.8"/>
<line stroke-width="1.5" x1="424.8" y1="903.1" x2="396.9" y2="921.0"/>
<line stroke-width="1.5" x1="389.7" y1="837.3" x2="353.1" y2="850.2"/>
<line stroke-width="1.5" x1="370.7" y1="764.6" x2="323.3" y2="769.7"/>
<line stroke-width="1.5" x1="368.9" y1="688.9" x2="321.6" y2="682.9"/>
<line stroke-width="1.5" x1="384.7" y1="614.3" x2="340.5" y2="597.7"/>
<line stroke-width="1.5" x1="417.6" y1="544.8" x2="383.4" y2="521.8"/>
<line stroke-width="1.5" x1="466.0" y1="484.3" x2="437.6" y2="453.5"/>
<line stroke-width="1.5" x1="527.6" y1="436.2" x2="505.7" y2="397.4"/>
<line stroke-width="1.5" x1="599.1" y1="403.4" x2="586.7" y2="360.6"/>
<line stroke-width="1.5" x1="676.8" y1="387.9" x2="674.8" y2="346.1"/>
<line stroke-width="1.5" x1="756.6" y1="390.8" x2="763.6" y2="353.7"/>
<line stroke-width="1.5" x1="834.2" y1="412.2" x2="849.2" y2="378.4"/>
<line stroke-width="1.5" x1="905.2" y1="451.2" x2="926.4" y2="423.3"/>
<line stroke-width="1.5" x1="965.8" y1="505.9" x2="989.0" y2="486.8"/>
<line stroke-width="1.5" x1="1012.4" y1="573.6" x2="1036.4" y2="561.9"/>
<line stroke-width="1.5" x1="1042.3" y1="650.8" x2="1068.7" y2="644.8"/>
<line stroke-width="1.5" x1="1053.7" y1="733.4" x2="1080.8" y2="733.7"/>
<line stroke-width="1.5" x1="1045.7" y1="817.0" x2="1069.4" y2="822.9"/>
<line stroke-width="1.5" x1="1018.4" y1="897.1" x2="1039.4" y2="907.9"/>
<line stroke-width="1.5" x1="973.0" y1="969.1" x2="991.0" y2="984.5"/>
<line stroke-width="1.5" x1="911.9" y1="1029.2" x2="924.9" y2="1047.1"/>
<line stroke-width="1.5" x1="837.9" y1="1073.8" x2="846.4" y2="1093.9"/>
<line stroke-width="1.5" x1="755.2" y1="1100.4" x2="758.9" y2="1122.6"/>
<line stroke-width="1.5" x1="667.9" y1="1107.2" x2="666.2" y2="1132.6"/>
<line stroke-width="1.5" x1="580.9" y1="1093.5" x2="571.3" y2="1124.5"/>
<line stroke-width="1.5" x1="498.8" y1="1060.0" x2="482.3" y2="1087.8"/>
<line stroke-width="1.5" x1="426.2" y1="1008.0" x2="405.3" y2="1029.7"/>
<line stroke-width="1.5" x1="367.1" y1="940.2" x2="340.2" y2="957.6"/>
<line stroke-width="1.5" x1="325.1" y1="860.1" x2="292.4" y2="871.7"/>
<line stroke-width="1.5" x1="302.5" y1="771.9" x2="259.3" y2="776.6"/>
<line stroke-width="1.5" x1="300.8" y1="680.3" x2="251.7" y2="674.1"/>
<line stroke-width="1.5" x1="320.5" y1="590.2" x2="274.1" y2="572.8"/>
<line stroke-width="1.5" x1="360.7" y1="506.5" x2="321.7" y2="480.4"/>
<line stroke-width="1.5" x1="419.4" y1="433.9" x2="389.7" y2="401.8"/>
<line stroke-width="1.5" x1="493.9" y1="376.5" x2="474.6" y2="342.3"/>
<line stroke-width="1.5" x1="580.1" y1="337.5" x2="569.3" y2="300.2"/>
<line stroke-width="1.5" x1="673.5" y1="319.4" x2="671.8" y2="284.4"/>
<line stroke-width="1.5" x1="769.2" y1="323.4" x2="775.0" y2="292.3"/>
<line stroke-width="1.5" x1="862.0" y1="349.5" x2="873.2" y2="324.0"/>
<line stroke-width="1.5" x1="946.7" y1="396.6" x2="963.1" y2="375.0"/>
<line stroke-width="1.5" x1="1018.7" y1="462.3" x2="1039.6" y2="445.1"/>
<line stroke-width="1.5" x1="1074.0" y1="543.4" x2="1100.0" y2="530.7"/>
<line stroke-width="1.5" x1="1109.2" y1="635.6" x2="1137.5" y2="629.2"/>
<line stroke-width="1.5" x1="1122.3" y1="734.1" x2="1148.6" y2="734.3"/>
<line stroke-width="1.5" x1="1112.3" y1="833.5" x2="1138.2" y2="839.9"/>
<line stroke-width="1.5" x1="1079.4" y1="928.4" x2="1103.1" y2="940.6"/>
<line stroke-width="1.5" x1="1025.2" y1="1013.7" x2="1049.2" y2="1034.3"/>
<line stroke-width="1.5" x1="952.3" y1="1084.6" x2="972.3" y2="1112.0"/>
<line stroke-width="1.5" x1="864.5" y1="1137.1" x2="878.8" y2="1171.2"/>
<line stroke-width="1.5" x1="766.4" y1="1168.1" x2="773.1" y2="1207.9"/>
<line stroke-width="1.5" x1="663.3" y1="1175.6" x2="660.4" y2="1217.4"/>
<line stroke-width="1.5" x1="560.6" y1="1159.1" x2="547.5" y2="1201.3"/>
<line stroke-width="1.5" x1="463.9" y1="1119.0" x2="440.1" y2="1159.4"/>
<line stroke-width="1.5" x1="378.6" y1="1057.4" x2="346.1" y2="1091.2"/>
<line stroke-width="1.5" x1="309.5" y1="977.4" x2="271.0" y2="1002.1"/>
<line stroke-width="1.5" x1="260.4" y1="883.0" x2="217.3" y2="898.2"/>
<line stroke-width="1.5" x1="234.2" y1="779.2" x2="189.2" y2="784.1"/>
<line stroke-width="1.5" x1="232.8" y1="671.7" x2="187.8" y2="666.0"/>
<line stroke-width="1.5" x1="256.2" y1="566.1" x2="215.9" y2="551.0"/>
<line stroke-width="1.5" x1="303.7" y1="468.3" x2="269.2" y2="445.1"/>
<line stroke-width="1.5" x1="372.9" y1="383.6" x2="348.0" y2="356.7"/>
<line stroke-width="1.5" x1="460.1" y1="316.8" x2="442.1" y2="284.9"/>
<line stroke-width="1.5" x1="561.0" y1="271.6" x2="549.6" y2="232.1"/>
<line stroke-width="1.5" x1="670.2" y1="250.9" x2="667.8" y2="202.9"/>
<line stroke-width="1.5" x1="781.8" y1="255.9" x2="790.5" y2="208.7"/>
<line stroke-width="1.5" x1="889.7" y1="286.7" x2="906.7" y2="248.4"/>
<line stroke-width="1.5" x1="988.2" y1="341.9" x2="1011.9" y2="310.7"/>
<line stroke-width="1.5" x1="1071.7" y1="418.7" x2="1098.5" y2="396.7"/>
<line stroke-width="1.5" x1="1135.6" y1="513.2" x2="1165.4" y2="498.6"/>
<line stroke-width="1.5" x1="1176.1" y1="620.5" x2="1205.1" y2="613.9"/>
<line stroke-width="1.5" x1="1190.9" y1="734.7" x2="1218.8" y2="735.0"/>
<line stroke-width="1.5" x1="1178.9" y1="849.9" x2="1205.2" y2="856.4"/>
<line stroke-width="1.5" x1="1140.4" y1="959.8" x2="1162.8" y2="971.3"/>
<line stroke-width="1.5" x1="1077.3" y1="1058.3" x2="1096.7" y2="1074.9"/>
<line stroke-width="1.5" x1="992.7" y1="1140.0" x2="1009.1" y2="1162.5"/>
<line stroke-width="1.5" x1="891.1" y1="1200.3" x2="903.9" y2="1230.9"/>
<line stroke-width="1.5" x1="777.7" y1="1235.7" x2="784.6" y2="1277.1"/>
<line stroke-width="1.5" x1="658.6" y1="1244.1" x2="655.8" y2="1285.9"/>
<line stroke-width="1.5" x1="540.3" y1="1224.6" x2="526.7" y2="1268.3"/>
<line stroke-width="1.5" x1="429.1" y1="1178.1" x2="405.8" y2="1217.5"/>
<line stroke-width="1.5" x1="331.1" y1="1106.9" x2="299.9" y2="1139.3"/>
<line stroke-width="1.5" x1="251.8" y1="1014.5" x2="215.0" y2="1038.2"/>
<line stroke-width="1.5" x1="195.7" y1="905.8" x2="150.1" y2="921.9"/>
<line stroke-width="1.5" x1="166.0" y1="786.6" x2="117.9" y2="791.7"/>
<line stroke-width="1.5" x1="164.7" y1="663.1" x2="112.5" y2="656.5"/>
<line stroke-width="1.5" x1="192.0" y1="542.0" x2="142.8" y2="523.6"/>
<line stroke-width="1.5" x1="246.8" y1="430.0" x2="207.2" y2="403.5"/>
<line stroke-width="1.5" x1="326.3" y1="333.2" x2="296.0" y2="300.5"/>
<line stroke-width="1.5" x1="426.4" y1="257.0" x2="405.4" y2="219.9"/>
<line stroke-width="1.5" x1="542.0" y1="205.7" x2="531.4" y2="169.1"/>
<line stroke-width="1.5" x1="666.8" y1="182.4" x2="665.0" y2="144.3"/>
<line stroke-width="1.5" x1="794.3" y1="188.5" x2="800.4" y2="155.9"/>
<line stroke-width="1.5" x1="917.5" y1="224.0" x2="930.3" y2="195.1"/>
<line stroke-width="1.5" x1="1029.7" y1="287.3" x2="1052.7" y2="256.9"/>
<line stroke-width="1.5" x1="1124.7" y1="375.1" x2="1155.0" y2="350.2"/>
<line stroke-width="1.5" x1="1197.2" y1="483.0" x2="1232.4" y2="465.7"/>
<line stroke-width="1.5" x1="1243.0" y1="605.3" x2="1283.9" y2="596.0"/>
<line stroke-width="1.5" x1="1259.5" y1="735.4" x2="1302.2" y2="735.8"/>
<line stroke-width="1.5" x1="1245.5" y1="866.4" x2="1286.9" y2="876.6"/>
<line stroke-width="1.5" x1="1201.4" y1="991.2" x2="1236.0" y2="1009.0"/>
<line stroke-width="1.5" x1="1129.4" y1="1102.9" x2="1160.7" y2="1129.7"/>
<line stroke-width="1.5" x1="1033.2" y1="1195.5" x2="1057.4" y2="1228.7"/>
<line stroke-width="1.5" x1="917.7" y1="1263.6" x2="931.7" y2="1297.0"/>
<line stroke-width="1.5" x1="789.0" y1="1303.4" x2="794.6" y2="1337.2"/>
<line stroke-width="1.5" x1="654.0" y1="1312.5" x2="651.9" y2="1344.1"/>
<line stroke-width="1.5" x1="520.0" y1="1290.1" x2="511.3" y2="1318.1"/>
<line stroke-width="1.5" x1="394.2" y1="1237.2" x2="380.4" y2="1260.5"/>
<line stroke-width="1.5" x1="283.5" y1="1156.3" x2="264.2" y2="1176.4"/>
<line stroke-width="1.5" x1="194.1" y1="1051.7" x2="170.7" y2="1066.7"/>
<line stroke-width="1.5" x1="131.0" y1="928.7" x2="105.9" y2="937.6"/>
<line stroke-width="1.5" x1="97.8" y1="793.9" x2="71.3" y2="796.7"/>
<line stroke-width="1.5" x1="96.6" y1="654.5" x2="70.2" y2="651.1"/>
<line stroke-width="1.5" x1="127.8" y1="518.0" x2="106.0" y2="509.8"/>
<line stroke-width="1.5" x1="189.8" y1="391.8" x2="171.5" y2="379.5"/>
<line stroke-width="1.5" x1="279.7" y1="282.9" x2="264.1" y2="266.1"/>
<line stroke-width="1.5" x1="392.7" y1="197.3" x2="381.4" y2="177.4"/>
<line stroke-width="1.5" x1="522.9" y1="139.8" x2="516.8" y2="118.6"/>
<line stroke-width="1" x1="663.5" y1="113.9" x2="662.1" y2="85.3"/>
<polyline points="662.1,85.3 663.0,85.3 664.4,113.8"/>
</g>
<!-- legend -->
<circle cx="42" cy="28.3" r="15" fill="#ababab"/>
<circle cx="42" cy="84.3" r="14" fill="none" stroke="#ababab" stroke-width="2"/>
<text class="lab" x="71.5" y="28" lengthAdjust="spacingAndGlyphs" textLength="78">New Moon</text>
<text class="lab" x="71.5" y="84" lengthAdjust="spacingAndGlyphs" textLength="73">Full Moon</text>
<text class="lab" x="1267" y="38" lengthAdjust="spacingAndGlyphs" textLength="126.5">Period: 27 days</text>
<text class="lab" x="5.5" y="1394.5" lengthAdjust="spacingAndGlyphs" textLength="104.5">GI-UAF 2024</text>
<text class="lab" x="1073.5" y="1394.5" lengthAdjust="spacingAndGlyphs" textLength="320">Condegram plotted Mar 17 at 01:01 UT</text>
<!-- grid level labels -->
<text class="lab" style="stroke-width:0.7px;font-size:14.3px" x="700" y="49.4" lengthAdjust="spacingAndGlyphs" textLength="27">250</text>
<text class="lab" style="stroke-width:0.7px;font-size:14.3px" x="701" y="71.9" lengthAdjust="spacingAndGlyphs" textLength="25">190</text>
<text class="lab" style="stroke-width:0.7px;font-size:14.3px" x="701" y="94.5" lengthAdjust="spacingAndGlyphs" textLength="25">130</text>
<!-- scale bar -->
<g stroke="#000" stroke-width="2" shape-rendering="crispEdges">
<line x1="688" y1="573" x2="688" y2="642"/>
<line x1="671" y1="573" x2="706" y2="573"/>
<line x1="671" y1="642" x2="706" y2="642"/>
</g>
<text x="718.5" y="579.5" font-size="17.7" lengthAdjust="spacingAndGlyphs" textLength="76">250 sfu</text>
<text x="720" y="648" font-size="17.7" lengthAdjust="spacingAndGlyphs" textLength="62">70 sfu</text>
<!-- centre title -->
<text class="red ser" x="558.5" y="727" font-size="32.4" lengthAdjust="spacingAndGlyphs" textLength="273">10.7 cm Solar</text>
<text class="red ser" x="585.5" y="758.5" font-size="32.4" lengthAdjust="spacingAndGlyphs" textLength="215">Radio Flux</text>
<text class="red" x="638.5" y="803.5" font-size="32" lengthAdjust="spacingAndGlyphs" textLength="108">70 sfu</text>
<text class="red" x="571" y="885" font-size="28.7" lengthAdjust="spacingAndGlyphs" textLength="243.5">Latest: 20:00 UT</text>
<text class="red" x="588" y="910" font-size="28.7" lengthAdjust="spacingAndGlyphs" textLength="209">2024-Mar-16</text>
</svg>
</body></html>
